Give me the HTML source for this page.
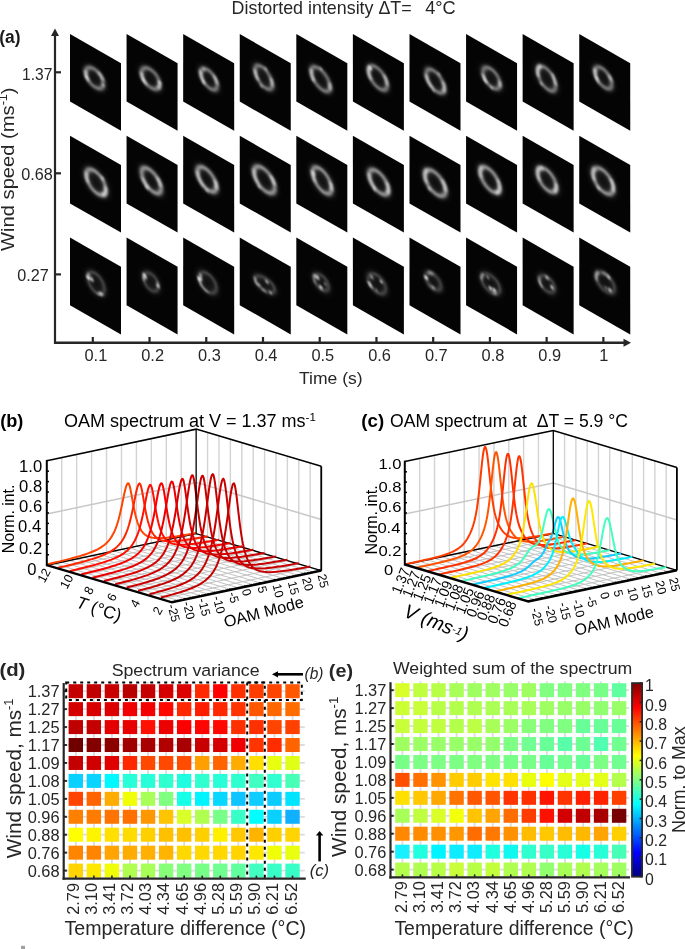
<!DOCTYPE html>
<html><head><meta charset="utf-8"><style>
html,body{margin:0;padding:0;background:#fff;overflow:hidden;width:685px;height:949px;}
svg{display:block;font-family:"Liberation Sans", sans-serif;will-change:transform;}
text{white-space:pre;}
</style></head><body>
<svg width="685" height="949" viewBox="0 0 685 949">
<defs>
<filter id="bl" x="-50%" y="-50%" width="200%" height="200%"><feGaussianBlur stdDeviation="1.1"/></filter>
<filter id="bl2" x="-100%" y="-100%" width="300%" height="300%"><feGaussianBlur stdDeviation="0.9"/></filter>
<filter id="bl3" x="-50%" y="-50%" width="200%" height="200%"><feGaussianBlur stdDeviation="2.2"/></filter>
</defs>
<rect width="685" height="949" fill="#fff"/>
<text transform="translate(231.59,13.7) scale(1.01,1)" font-size="17.7" font-weight="normal" font-style="normal" fill="#262626">Distorted intensity ΔT=</text>
<text transform="translate(425.2,13.7) scale(1.03,1)" font-size="17.7" font-weight="normal" font-style="normal" fill="#262626">4°C</text>
<text transform="translate(-0.79,42.8) scale(0.99,1)" font-size="17.6" font-weight="bold" font-style="normal" fill="#1a1a1a">(a)</text>
<g transform="translate(70,34) skewY(29.79)"><rect x="0" y="0" width="51" height="67.6" fill="#040404"/><ellipse cx="24.58" cy="29.95" rx="8.67" ry="9.14" fill="#fff" fill-opacity="0.05" stroke="#fff" stroke-opacity="0.12" stroke-width="6.4" transform="rotate(-41.02 24.58 29.95)" filter="url(#bl3)"/><ellipse cx="24.58" cy="29.95" rx="8.67" ry="9.14" fill="none" stroke="#fff" stroke-opacity="0.42" stroke-width="3.2" transform="rotate(-41.02 24.58 29.95)" filter="url(#bl)"/><ellipse cx="24.58" cy="29.95" rx="8.67" ry="9.14" fill="none" stroke="#fff" stroke-opacity="0.75" stroke-width="2.56" pathLength="100" stroke-dasharray="17.66 82.34" stroke-dashoffset="-48.04" transform="rotate(-41.02 24.58 29.95)" filter="url(#bl)"/><ellipse cx="24.58" cy="29.95" rx="8.67" ry="9.14" fill="none" stroke="#fff" stroke-opacity="0.65" stroke-width="2.56" pathLength="100" stroke-dasharray="14.06 85.94" stroke-dashoffset="7.07" transform="rotate(-41.02 24.58 29.95)" filter="url(#bl)"/><circle cx="33.01" cy="32.09" r="1.6" fill="#fff" fill-opacity="0.45" filter="url(#bl2)"/><circle cx="16.65" cy="33.66" r="1.6" fill="#fff" fill-opacity="0.45" filter="url(#bl2)"/></g>
<g transform="translate(126.58,34) skewY(29.79)"><rect x="0" y="0" width="51" height="67.6" fill="#040404"/><ellipse cx="24.02" cy="30.77" rx="8.99" ry="9.25" fill="#fff" fill-opacity="0.05" stroke="#fff" stroke-opacity="0.12" stroke-width="6.4" transform="rotate(-41.35 24.02 30.77)" filter="url(#bl3)"/><ellipse cx="24.02" cy="30.77" rx="8.99" ry="9.25" fill="none" stroke="#fff" stroke-opacity="0.42" stroke-width="3.2" transform="rotate(-41.35 24.02 30.77)" filter="url(#bl)"/><ellipse cx="24.02" cy="30.77" rx="8.99" ry="9.25" fill="none" stroke="#fff" stroke-opacity="0.75" stroke-width="2.56" pathLength="100" stroke-dasharray="20.27 79.73" stroke-dashoffset="-43.35" transform="rotate(-41.35 24.02 30.77)" filter="url(#bl)"/><ellipse cx="24.02" cy="30.77" rx="8.99" ry="9.25" fill="none" stroke="#fff" stroke-opacity="0.65" stroke-width="2.56" pathLength="100" stroke-dasharray="14.62 85.38" stroke-dashoffset="-7.16" transform="rotate(-41.35 24.02 30.77)" filter="url(#bl)"/><circle cx="16.86" cy="36.36" r="1.6" fill="#fff" fill-opacity="0.45" filter="url(#bl2)"/><circle cx="32.91" cy="29.4" r="1.6" fill="#fff" fill-opacity="0.45" filter="url(#bl2)"/></g>
<g transform="translate(183.16,34) skewY(29.79)"><rect x="0" y="0" width="51" height="67.6" fill="#040404"/><ellipse cx="25.86" cy="30.37" rx="7.76" ry="9.24" fill="#fff" fill-opacity="0.05" stroke="#fff" stroke-opacity="0.12" stroke-width="6.4" transform="rotate(-34.33 25.86 30.37)" filter="url(#bl3)"/><ellipse cx="25.86" cy="30.37" rx="7.76" ry="9.24" fill="none" stroke="#fff" stroke-opacity="0.42" stroke-width="3.2" transform="rotate(-34.33 25.86 30.37)" filter="url(#bl)"/><ellipse cx="25.86" cy="30.37" rx="7.76" ry="9.24" fill="none" stroke="#fff" stroke-opacity="0.75" stroke-width="2.56" pathLength="100" stroke-dasharray="22.16 77.84" stroke-dashoffset="-44.63" transform="rotate(-34.33 25.86 30.37)" filter="url(#bl)"/><ellipse cx="25.86" cy="30.37" rx="7.76" ry="9.24" fill="none" stroke="#fff" stroke-opacity="0.65" stroke-width="2.56" pathLength="100" stroke-dasharray="14.65 85.35" stroke-dashoffset="5.11" transform="rotate(-34.33 25.86 30.37)" filter="url(#bl)"/><circle cx="20.87" cy="23.29" r="1.6" fill="#fff" fill-opacity="0.45" filter="url(#bl2)"/><circle cx="20.46" cy="37.01" r="1.6" fill="#fff" fill-opacity="0.45" filter="url(#bl2)"/></g>
<g transform="translate(239.74,34) skewY(29.79)"><rect x="0" y="0" width="51" height="67.6" fill="#040404"/><ellipse cx="23.95" cy="29.68" rx="7.87" ry="10.36" fill="#fff" fill-opacity="0.05" stroke="#fff" stroke-opacity="0.12" stroke-width="6.4" transform="rotate(-32.21 23.95 29.68)" filter="url(#bl3)"/><ellipse cx="23.95" cy="29.68" rx="7.87" ry="10.36" fill="none" stroke="#fff" stroke-opacity="0.42" stroke-width="3.2" transform="rotate(-32.21 23.95 29.68)" filter="url(#bl)"/><ellipse cx="23.95" cy="29.68" rx="7.87" ry="10.36" fill="none" stroke="#fff" stroke-opacity="0.75" stroke-width="2.56" pathLength="100" stroke-dasharray="17.14 82.86" stroke-dashoffset="-46.41" transform="rotate(-32.21 23.95 29.68)" filter="url(#bl)"/><ellipse cx="23.95" cy="29.68" rx="7.87" ry="10.36" fill="none" stroke="#fff" stroke-opacity="0.65" stroke-width="2.56" pathLength="100" stroke-dasharray="13.63 86.37" stroke-dashoffset="-1.37" transform="rotate(-32.21 23.95 29.68)" filter="url(#bl)"/><circle cx="21.53" cy="39.54" r="1.6" fill="#fff" fill-opacity="0.45" filter="url(#bl2)"/><circle cx="26.12" cy="19.72" r="1.6" fill="#fff" fill-opacity="0.45" filter="url(#bl2)"/></g>
<g transform="translate(296.32,34) skewY(29.79)"><rect x="0" y="0" width="51" height="67.6" fill="#040404"/><ellipse cx="24.39" cy="31.22" rx="8.45" ry="10.75" fill="#fff" fill-opacity="0.05" stroke="#fff" stroke-opacity="0.12" stroke-width="6.4" transform="rotate(-39.87 24.39 31.22)" filter="url(#bl3)"/><ellipse cx="24.39" cy="31.22" rx="8.45" ry="10.75" fill="none" stroke="#fff" stroke-opacity="0.42" stroke-width="3.2" transform="rotate(-39.87 24.39 31.22)" filter="url(#bl)"/><ellipse cx="24.39" cy="31.22" rx="8.45" ry="10.75" fill="none" stroke="#fff" stroke-opacity="0.75" stroke-width="2.56" pathLength="100" stroke-dasharray="16.88 83.12" stroke-dashoffset="-50.94" transform="rotate(-39.87 24.39 31.22)" filter="url(#bl)"/><ellipse cx="24.39" cy="31.22" rx="8.45" ry="10.75" fill="none" stroke="#fff" stroke-opacity="0.65" stroke-width="2.56" pathLength="100" stroke-dasharray="10.94 89.06" stroke-dashoffset="-7.68" transform="rotate(-39.87 24.39 31.22)" filter="url(#bl)"/><circle cx="17.03" cy="36.51" r="1.6" fill="#fff" fill-opacity="0.45" filter="url(#bl2)"/><circle cx="24.76" cy="20.48" r="1.6" fill="#fff" fill-opacity="0.45" filter="url(#bl2)"/></g>
<g transform="translate(352.9,34) skewY(29.79)"><rect x="0" y="0" width="51" height="67.6" fill="#040404"/><ellipse cx="24.97" cy="29.62" rx="8.7" ry="10.53" fill="#fff" fill-opacity="0.05" stroke="#fff" stroke-opacity="0.12" stroke-width="6.4" transform="rotate(-35.61 24.97 29.62)" filter="url(#bl3)"/><ellipse cx="24.97" cy="29.62" rx="8.7" ry="10.53" fill="none" stroke="#fff" stroke-opacity="0.42" stroke-width="3.2" transform="rotate(-35.61 24.97 29.62)" filter="url(#bl)"/><ellipse cx="24.97" cy="29.62" rx="8.7" ry="10.53" fill="none" stroke="#fff" stroke-opacity="0.75" stroke-width="2.56" pathLength="100" stroke-dasharray="22.75 77.25" stroke-dashoffset="-48.6" transform="rotate(-35.61 24.97 29.62)" filter="url(#bl)"/><ellipse cx="24.97" cy="29.62" rx="8.7" ry="10.53" fill="none" stroke="#fff" stroke-opacity="0.65" stroke-width="2.56" pathLength="100" stroke-dasharray="15.56 84.44" stroke-dashoffset="2.98" transform="rotate(-35.61 24.97 29.62)" filter="url(#bl)"/><circle cx="17.76" cy="23.73" r="1.6" fill="#fff" fill-opacity="0.45" filter="url(#bl2)"/><circle cx="17.34" cy="24.55" r="1.6" fill="#fff" fill-opacity="0.45" filter="url(#bl2)"/></g>
<g transform="translate(409.48,34) skewY(29.79)"><rect x="0" y="0" width="51" height="67.6" fill="#040404"/><ellipse cx="25.82" cy="32.33" rx="8.35" ry="10.33" fill="#fff" fill-opacity="0.05" stroke="#fff" stroke-opacity="0.12" stroke-width="6.4" transform="rotate(-36.6 25.82 32.33)" filter="url(#bl3)"/><ellipse cx="25.82" cy="32.33" rx="8.35" ry="10.33" fill="none" stroke="#fff" stroke-opacity="0.42" stroke-width="3.2" transform="rotate(-36.6 25.82 32.33)" filter="url(#bl)"/><ellipse cx="25.82" cy="32.33" rx="8.35" ry="10.33" fill="none" stroke="#fff" stroke-opacity="0.75" stroke-width="2.56" pathLength="100" stroke-dasharray="21.01 78.99" stroke-dashoffset="-40.91" transform="rotate(-36.6 25.82 32.33)" filter="url(#bl)"/><ellipse cx="25.82" cy="32.33" rx="8.35" ry="10.33" fill="none" stroke="#fff" stroke-opacity="0.65" stroke-width="2.56" pathLength="100" stroke-dasharray="17.94 82.06" stroke-dashoffset="-2.35" transform="rotate(-36.6 25.82 32.33)" filter="url(#bl)"/><circle cx="29.46" cy="23.04" r="1.6" fill="#fff" fill-opacity="0.45" filter="url(#bl2)"/><circle cx="24.01" cy="42.42" r="1.6" fill="#fff" fill-opacity="0.45" filter="url(#bl2)"/></g>
<g transform="translate(466.06,34) skewY(29.79)"><rect x="0" y="0" width="51" height="67.6" fill="#040404"/><ellipse cx="25.4" cy="29.57" rx="8.33" ry="9.34" fill="#fff" fill-opacity="0.05" stroke="#fff" stroke-opacity="0.12" stroke-width="6.4" transform="rotate(-29.8 25.4 29.57)" filter="url(#bl3)"/><ellipse cx="25.4" cy="29.57" rx="8.33" ry="9.34" fill="none" stroke="#fff" stroke-opacity="0.42" stroke-width="3.2" transform="rotate(-29.8 25.4 29.57)" filter="url(#bl)"/><ellipse cx="25.4" cy="29.57" rx="8.33" ry="9.34" fill="none" stroke="#fff" stroke-opacity="0.75" stroke-width="2.56" pathLength="100" stroke-dasharray="14.59 85.41" stroke-dashoffset="-41.76" transform="rotate(-29.8 25.4 29.57)" filter="url(#bl)"/><ellipse cx="25.4" cy="29.57" rx="8.33" ry="9.34" fill="none" stroke="#fff" stroke-opacity="0.65" stroke-width="2.56" pathLength="100" stroke-dasharray="11.03 88.97" stroke-dashoffset="-4.29" transform="rotate(-29.8 25.4 29.57)" filter="url(#bl)"/><circle cx="25.53" cy="38.9" r="1.6" fill="#fff" fill-opacity="0.45" filter="url(#bl2)"/><circle cx="18.95" cy="35.48" r="1.6" fill="#fff" fill-opacity="0.45" filter="url(#bl2)"/></g>
<g transform="translate(522.64,34) skewY(29.79)"><rect x="0" y="0" width="51" height="67.6" fill="#040404"/><ellipse cx="23.99" cy="30.85" rx="8.49" ry="10.77" fill="#fff" fill-opacity="0.05" stroke="#fff" stroke-opacity="0.12" stroke-width="6.4" transform="rotate(-28.59 23.99 30.85)" filter="url(#bl3)"/><ellipse cx="23.99" cy="30.85" rx="8.49" ry="10.77" fill="none" stroke="#fff" stroke-opacity="0.42" stroke-width="3.2" transform="rotate(-28.59 23.99 30.85)" filter="url(#bl)"/><ellipse cx="23.99" cy="30.85" rx="8.49" ry="10.77" fill="none" stroke="#fff" stroke-opacity="0.75" stroke-width="2.56" pathLength="100" stroke-dasharray="22.64 77.36" stroke-dashoffset="-52.29" transform="rotate(-28.59 23.99 30.85)" filter="url(#bl)"/><ellipse cx="23.99" cy="30.85" rx="8.49" ry="10.77" fill="none" stroke="#fff" stroke-opacity="0.65" stroke-width="2.56" pathLength="100" stroke-dasharray="13.32 86.68" stroke-dashoffset="3.55" transform="rotate(-28.59 23.99 30.85)" filter="url(#bl)"/><circle cx="18.63" cy="39.2" r="1.6" fill="#fff" fill-opacity="0.45" filter="url(#bl2)"/><circle cx="30.33" cy="23.69" r="1.6" fill="#fff" fill-opacity="0.45" filter="url(#bl2)"/></g>
<g transform="translate(579.22,34) skewY(29.79)"><rect x="0" y="0" width="51" height="67.6" fill="#040404"/><ellipse cx="24.16" cy="30.03" rx="7.92" ry="9.47" fill="#fff" fill-opacity="0.05" stroke="#fff" stroke-opacity="0.12" stroke-width="6.4" transform="rotate(-34.07 24.16 30.03)" filter="url(#bl3)"/><ellipse cx="24.16" cy="30.03" rx="7.92" ry="9.47" fill="none" stroke="#fff" stroke-opacity="0.42" stroke-width="3.2" transform="rotate(-34.07 24.16 30.03)" filter="url(#bl)"/><ellipse cx="24.16" cy="30.03" rx="7.92" ry="9.47" fill="none" stroke="#fff" stroke-opacity="0.75" stroke-width="2.56" pathLength="100" stroke-dasharray="19.89 80.11" stroke-dashoffset="-47.27" transform="rotate(-34.07 24.16 30.03)" filter="url(#bl)"/><ellipse cx="24.16" cy="30.03" rx="7.92" ry="9.47" fill="none" stroke="#fff" stroke-opacity="0.65" stroke-width="2.56" pathLength="100" stroke-dasharray="10.03 89.97" stroke-dashoffset="3.8" transform="rotate(-34.07 24.16 30.03)" filter="url(#bl)"/><circle cx="17.25" cy="34.64" r="1.6" fill="#fff" fill-opacity="0.45" filter="url(#bl2)"/><circle cx="18.77" cy="36.96" r="1.6" fill="#fff" fill-opacity="0.45" filter="url(#bl2)"/></g>
<g transform="translate(70,135.8) skewY(29.79)"><rect x="0" y="0" width="51" height="67.6" fill="#040404"/><ellipse cx="26.09" cy="31.57" rx="9.22" ry="11.14" fill="#fff" fill-opacity="0.05" stroke="#fff" stroke-opacity="0.14" stroke-width="7.2" transform="rotate(-32.02 26.09 31.57)" filter="url(#bl3)"/><ellipse cx="26.09" cy="31.57" rx="9.22" ry="11.14" fill="none" stroke="#fff" stroke-opacity="0.5" stroke-width="3.6" transform="rotate(-32.02 26.09 31.57)" filter="url(#bl)"/><ellipse cx="26.09" cy="31.57" rx="9.22" ry="11.14" fill="none" stroke="#fff" stroke-opacity="0.55" stroke-width="2.88" pathLength="100" stroke-dasharray="15.54 84.46" stroke-dashoffset="-50.14" transform="rotate(-32.02 26.09 31.57)" filter="url(#bl)"/><ellipse cx="26.09" cy="31.57" rx="9.22" ry="11.14" fill="none" stroke="#fff" stroke-opacity="0.65" stroke-width="2.88" pathLength="100" stroke-dasharray="18.24 81.76" stroke-dashoffset="-6.69" transform="rotate(-32.02 26.09 31.57)" filter="url(#bl)"/><circle cx="32.59" cy="23.67" r="2" fill="#fff" fill-opacity="0.45" filter="url(#bl2)"/></g>
<g transform="translate(126.58,135.8) skewY(29.79)"><rect x="0" y="0" width="51" height="67.6" fill="#040404"/><ellipse cx="24.74" cy="30.7" rx="8.72" ry="11.16" fill="#fff" fill-opacity="0.05" stroke="#fff" stroke-opacity="0.14" stroke-width="7.2" transform="rotate(-39.47 24.74 30.7)" filter="url(#bl3)"/><ellipse cx="24.74" cy="30.7" rx="8.72" ry="11.16" fill="none" stroke="#fff" stroke-opacity="0.5" stroke-width="3.6" transform="rotate(-39.47 24.74 30.7)" filter="url(#bl)"/><ellipse cx="24.74" cy="30.7" rx="8.72" ry="11.16" fill="none" stroke="#fff" stroke-opacity="0.55" stroke-width="2.88" pathLength="100" stroke-dasharray="15.67 84.33" stroke-dashoffset="-40.93" transform="rotate(-39.47 24.74 30.7)" filter="url(#bl)"/><ellipse cx="24.74" cy="30.7" rx="8.72" ry="11.16" fill="none" stroke="#fff" stroke-opacity="0.65" stroke-width="2.88" pathLength="100" stroke-dasharray="13.3 86.7" stroke-dashoffset="2.29" transform="rotate(-39.47 24.74 30.7)" filter="url(#bl)"/><circle cx="20.06" cy="40.12" r="2" fill="#fff" fill-opacity="0.45" filter="url(#bl2)"/></g>
<g transform="translate(183.16,135.8) skewY(29.79)"><rect x="0" y="0" width="51" height="67.6" fill="#040404"/><ellipse cx="23.8" cy="29.95" rx="8.72" ry="10.84" fill="#fff" fill-opacity="0.05" stroke="#fff" stroke-opacity="0.14" stroke-width="7.2" transform="rotate(-36.53 23.8 29.95)" filter="url(#bl3)"/><ellipse cx="23.8" cy="29.95" rx="8.72" ry="10.84" fill="none" stroke="#fff" stroke-opacity="0.5" stroke-width="3.6" transform="rotate(-36.53 23.8 29.95)" filter="url(#bl)"/><ellipse cx="23.8" cy="29.95" rx="8.72" ry="10.84" fill="none" stroke="#fff" stroke-opacity="0.55" stroke-width="2.88" pathLength="100" stroke-dasharray="23.74 76.26" stroke-dashoffset="-40.38" transform="rotate(-36.53 23.8 29.95)" filter="url(#bl)"/><ellipse cx="23.8" cy="29.95" rx="8.72" ry="10.84" fill="none" stroke="#fff" stroke-opacity="0.65" stroke-width="2.88" pathLength="100" stroke-dasharray="13.19 86.81" stroke-dashoffset="-2.98" transform="rotate(-36.53 23.8 29.95)" filter="url(#bl)"/><circle cx="23.68" cy="40.79" r="2" fill="#fff" fill-opacity="0.45" filter="url(#bl2)"/></g>
<g transform="translate(239.74,135.8) skewY(29.79)"><rect x="0" y="0" width="51" height="67.6" fill="#040404"/><ellipse cx="24.67" cy="29.87" rx="9.62" ry="11.59" fill="#fff" fill-opacity="0.05" stroke="#fff" stroke-opacity="0.14" stroke-width="7.2" transform="rotate(-37.35 24.67 29.87)" filter="url(#bl3)"/><ellipse cx="24.67" cy="29.87" rx="9.62" ry="11.59" fill="none" stroke="#fff" stroke-opacity="0.5" stroke-width="3.6" transform="rotate(-37.35 24.67 29.87)" filter="url(#bl)"/><ellipse cx="24.67" cy="29.87" rx="9.62" ry="11.59" fill="none" stroke="#fff" stroke-opacity="0.55" stroke-width="2.88" pathLength="100" stroke-dasharray="19.84 80.16" stroke-dashoffset="-46.99" transform="rotate(-37.35 24.67 29.87)" filter="url(#bl)"/><ellipse cx="24.67" cy="29.87" rx="9.62" ry="11.59" fill="none" stroke="#fff" stroke-opacity="0.65" stroke-width="2.88" pathLength="100" stroke-dasharray="12.82 87.18" stroke-dashoffset="3.88" transform="rotate(-37.35 24.67 29.87)" filter="url(#bl)"/><circle cx="19.39" cy="39.55" r="2" fill="#fff" fill-opacity="0.45" filter="url(#bl2)"/></g>
<g transform="translate(296.32,135.8) skewY(29.79)"><rect x="0" y="0" width="51" height="67.6" fill="#040404"/><ellipse cx="25.79" cy="29.98" rx="8.63" ry="11.54" fill="#fff" fill-opacity="0.05" stroke="#fff" stroke-opacity="0.14" stroke-width="7.2" transform="rotate(-30.21 25.79 29.98)" filter="url(#bl3)"/><ellipse cx="25.79" cy="29.98" rx="8.63" ry="11.54" fill="none" stroke="#fff" stroke-opacity="0.5" stroke-width="3.6" transform="rotate(-30.21 25.79 29.98)" filter="url(#bl)"/><ellipse cx="25.79" cy="29.98" rx="8.63" ry="11.54" fill="none" stroke="#fff" stroke-opacity="0.55" stroke-width="2.88" pathLength="100" stroke-dasharray="16.47 83.53" stroke-dashoffset="-47.92" transform="rotate(-30.21 25.79 29.98)" filter="url(#bl)"/><ellipse cx="25.79" cy="29.98" rx="8.63" ry="11.54" fill="none" stroke="#fff" stroke-opacity="0.65" stroke-width="2.88" pathLength="100" stroke-dasharray="12.22 87.78" stroke-dashoffset="-2.06" transform="rotate(-30.21 25.79 29.98)" filter="url(#bl)"/><circle cx="17.3" cy="27.96" r="2" fill="#fff" fill-opacity="0.45" filter="url(#bl2)"/></g>
<g transform="translate(352.9,135.8) skewY(29.79)"><rect x="0" y="0" width="51" height="67.6" fill="#040404"/><ellipse cx="25.87" cy="31.59" rx="8.91" ry="10.84" fill="#fff" fill-opacity="0.05" stroke="#fff" stroke-opacity="0.14" stroke-width="7.2" transform="rotate(-37.77 25.87 31.59)" filter="url(#bl3)"/><ellipse cx="25.87" cy="31.59" rx="8.91" ry="10.84" fill="none" stroke="#fff" stroke-opacity="0.5" stroke-width="3.6" transform="rotate(-37.77 25.87 31.59)" filter="url(#bl)"/><ellipse cx="25.87" cy="31.59" rx="8.91" ry="10.84" fill="none" stroke="#fff" stroke-opacity="0.55" stroke-width="2.88" pathLength="100" stroke-dasharray="22.72 77.28" stroke-dashoffset="-42.51" transform="rotate(-37.77 25.87 31.59)" filter="url(#bl)"/><ellipse cx="25.87" cy="31.59" rx="8.91" ry="10.84" fill="none" stroke="#fff" stroke-opacity="0.65" stroke-width="2.88" pathLength="100" stroke-dasharray="18.23 81.77" stroke-dashoffset="-1.92" transform="rotate(-37.77 25.87 31.59)" filter="url(#bl)"/><circle cx="21.59" cy="41.1" r="2" fill="#fff" fill-opacity="0.45" filter="url(#bl2)"/></g>
<g transform="translate(409.48,135.8) skewY(29.79)"><rect x="0" y="0" width="51" height="67.6" fill="#040404"/><ellipse cx="25.75" cy="32.45" rx="9.62" ry="11.37" fill="#fff" fill-opacity="0.05" stroke="#fff" stroke-opacity="0.14" stroke-width="7.2" transform="rotate(-39.71 25.75 32.45)" filter="url(#bl3)"/><ellipse cx="25.75" cy="32.45" rx="9.62" ry="11.37" fill="none" stroke="#fff" stroke-opacity="0.5" stroke-width="3.6" transform="rotate(-39.71 25.75 32.45)" filter="url(#bl)"/><ellipse cx="25.75" cy="32.45" rx="9.62" ry="11.37" fill="none" stroke="#fff" stroke-opacity="0.55" stroke-width="2.88" pathLength="100" stroke-dasharray="22.4 77.6" stroke-dashoffset="-52.27" transform="rotate(-39.71 25.75 32.45)" filter="url(#bl)"/><ellipse cx="25.75" cy="32.45" rx="9.62" ry="11.37" fill="none" stroke="#fff" stroke-opacity="0.65" stroke-width="2.88" pathLength="100" stroke-dasharray="16.14 83.86" stroke-dashoffset="2.05" transform="rotate(-39.71 25.75 32.45)" filter="url(#bl)"/><circle cx="19.82" cy="41.41" r="2" fill="#fff" fill-opacity="0.45" filter="url(#bl2)"/></g>
<g transform="translate(466.06,135.8) skewY(29.79)"><rect x="0" y="0" width="51" height="67.6" fill="#040404"/><ellipse cx="23.87" cy="30.34" rx="8.91" ry="11.23" fill="#fff" fill-opacity="0.05" stroke="#fff" stroke-opacity="0.14" stroke-width="7.2" transform="rotate(-36.35 23.87 30.34)" filter="url(#bl3)"/><ellipse cx="23.87" cy="30.34" rx="8.91" ry="11.23" fill="none" stroke="#fff" stroke-opacity="0.5" stroke-width="3.6" transform="rotate(-36.35 23.87 30.34)" filter="url(#bl)"/><ellipse cx="23.87" cy="30.34" rx="8.91" ry="11.23" fill="none" stroke="#fff" stroke-opacity="0.55" stroke-width="2.88" pathLength="100" stroke-dasharray="19.47 80.53" stroke-dashoffset="-54.35" transform="rotate(-36.35 23.87 30.34)" filter="url(#bl)"/><ellipse cx="23.87" cy="30.34" rx="8.91" ry="11.23" fill="none" stroke="#fff" stroke-opacity="0.65" stroke-width="2.88" pathLength="100" stroke-dasharray="19.9 80.1" stroke-dashoffset="-7.18" transform="rotate(-36.35 23.87 30.34)" filter="url(#bl)"/><circle cx="32.42" cy="27.2" r="2" fill="#fff" fill-opacity="0.45" filter="url(#bl2)"/></g>
<g transform="translate(522.64,135.8) skewY(29.79)"><rect x="0" y="0" width="51" height="67.6" fill="#040404"/><ellipse cx="24.33" cy="30.18" rx="8.84" ry="10.65" fill="#fff" fill-opacity="0.05" stroke="#fff" stroke-opacity="0.14" stroke-width="7.2" transform="rotate(-32 24.33 30.18)" filter="url(#bl3)"/><ellipse cx="24.33" cy="30.18" rx="8.84" ry="10.65" fill="none" stroke="#fff" stroke-opacity="0.5" stroke-width="3.6" transform="rotate(-32 24.33 30.18)" filter="url(#bl)"/><ellipse cx="24.33" cy="30.18" rx="8.84" ry="10.65" fill="none" stroke="#fff" stroke-opacity="0.55" stroke-width="2.88" pathLength="100" stroke-dasharray="24 76" stroke-dashoffset="-49.36" transform="rotate(-32 24.33 30.18)" filter="url(#bl)"/><ellipse cx="24.33" cy="30.18" rx="8.84" ry="10.65" fill="none" stroke="#fff" stroke-opacity="0.65" stroke-width="2.88" pathLength="100" stroke-dasharray="15.84 84.16" stroke-dashoffset="-5.93" transform="rotate(-32 24.33 30.18)" filter="url(#bl)"/><circle cx="19.27" cy="21.45" r="2" fill="#fff" fill-opacity="0.45" filter="url(#bl2)"/></g>
<g transform="translate(579.22,135.8) skewY(29.79)"><rect x="0" y="0" width="51" height="67.6" fill="#040404"/><ellipse cx="24" cy="31.48" rx="9.69" ry="11.34" fill="#fff" fill-opacity="0.05" stroke="#fff" stroke-opacity="0.14" stroke-width="7.2" transform="rotate(-31.99 24 31.48)" filter="url(#bl3)"/><ellipse cx="24" cy="31.48" rx="9.69" ry="11.34" fill="none" stroke="#fff" stroke-opacity="0.5" stroke-width="3.6" transform="rotate(-31.99 24 31.48)" filter="url(#bl)"/><ellipse cx="24" cy="31.48" rx="9.69" ry="11.34" fill="none" stroke="#fff" stroke-opacity="0.55" stroke-width="2.88" pathLength="100" stroke-dasharray="19.78 80.22" stroke-dashoffset="-51.25" transform="rotate(-31.99 24 31.48)" filter="url(#bl)"/><ellipse cx="24" cy="31.48" rx="9.69" ry="11.34" fill="none" stroke="#fff" stroke-opacity="0.65" stroke-width="2.88" pathLength="100" stroke-dasharray="18.31 81.69" stroke-dashoffset="2.68" transform="rotate(-31.99 24 31.48)" filter="url(#bl)"/><circle cx="19.2" cy="41.33" r="2" fill="#fff" fill-opacity="0.45" filter="url(#bl2)"/></g>
<g transform="translate(70,237.6) skewY(29.79)"><rect x="0" y="0" width="51" height="67.6" fill="#040404"/><ellipse cx="26.13" cy="30.69" rx="8.11" ry="9.79" fill="#fff" fill-opacity="0.05" stroke="#fff" stroke-opacity="0.1" stroke-width="5.6" transform="rotate(-17.34 26.13 30.69)" filter="url(#bl3)"/><ellipse cx="26.13" cy="30.69" rx="8.11" ry="9.79" fill="none" stroke="#fff" stroke-opacity="0.18" stroke-width="2.8" transform="rotate(-17.34 26.13 30.69)" filter="url(#bl)"/><ellipse cx="26.13" cy="30.69" rx="8.11" ry="9.79" fill="none" stroke="#fff" stroke-opacity="0.53" stroke-width="2.24" pathLength="100" stroke-dasharray="11.7 88.3" stroke-dashoffset="-53.95" transform="rotate(-17.34 26.13 30.69)" filter="url(#bl)"/><ellipse cx="26.13" cy="30.69" rx="8.11" ry="9.79" fill="none" stroke="#fff" stroke-opacity="0.46" stroke-width="2.24" pathLength="100" stroke-dasharray="13.43 86.57" stroke-dashoffset="-15.12" transform="rotate(-17.34 26.13 30.69)" filter="url(#bl)"/><circle cx="30.63" cy="38.39" r="1.66" fill="#fff" fill-opacity="0.59" filter="url(#bl2)"/><circle cx="21.76" cy="29.19" r="1.97" fill="#fff" fill-opacity="0.71" filter="url(#bl2)"/><circle cx="18.4" cy="29.52" r="1.87" fill="#fff" fill-opacity="0.78" filter="url(#bl2)"/></g>
<g transform="translate(126.58,237.6) skewY(29.79)"><rect x="0" y="0" width="51" height="67.6" fill="#040404"/><ellipse cx="24.4" cy="30.38" rx="7.46" ry="8.35" fill="#fff" fill-opacity="0.05" stroke="#fff" stroke-opacity="0.1" stroke-width="5.6" transform="rotate(3.39 24.4 30.38)" filter="url(#bl3)"/><ellipse cx="24.4" cy="30.38" rx="7.46" ry="8.35" fill="none" stroke="#fff" stroke-opacity="0.18" stroke-width="2.8" transform="rotate(3.39 24.4 30.38)" filter="url(#bl)"/><ellipse cx="24.4" cy="30.38" rx="7.46" ry="8.35" fill="none" stroke="#fff" stroke-opacity="0.53" stroke-width="2.24" pathLength="100" stroke-dasharray="14.19 85.81" stroke-dashoffset="-43.71" transform="rotate(3.39 24.4 30.38)" filter="url(#bl)"/><ellipse cx="24.4" cy="30.38" rx="7.46" ry="8.35" fill="none" stroke="#fff" stroke-opacity="0.39" stroke-width="2.24" pathLength="100" stroke-dasharray="10.12 89.88" stroke-dashoffset="-91" transform="rotate(3.39 24.4 30.38)" filter="url(#bl)"/><circle cx="18.25" cy="27.41" r="1.92" fill="#fff" fill-opacity="0.65" filter="url(#bl2)"/><circle cx="18.83" cy="29.53" r="1.44" fill="#fff" fill-opacity="0.52" filter="url(#bl2)"/><circle cx="31.12" cy="30.5" r="1.47" fill="#fff" fill-opacity="0.74" filter="url(#bl2)"/></g>
<g transform="translate(183.16,237.6) skewY(29.79)"><rect x="0" y="0" width="51" height="67.6" fill="#040404"/><ellipse cx="24.58" cy="31.06" rx="8.72" ry="9.14" fill="#fff" fill-opacity="0.05" stroke="#fff" stroke-opacity="0.1" stroke-width="5.6" transform="rotate(-14.42 24.58 31.06)" filter="url(#bl3)"/><ellipse cx="24.58" cy="31.06" rx="8.72" ry="9.14" fill="none" stroke="#fff" stroke-opacity="0.18" stroke-width="2.8" transform="rotate(-14.42 24.58 31.06)" filter="url(#bl)"/><ellipse cx="24.58" cy="31.06" rx="8.72" ry="9.14" fill="none" stroke="#fff" stroke-opacity="0.55" stroke-width="2.24" pathLength="100" stroke-dasharray="15.6 84.4" stroke-dashoffset="-40.33" transform="rotate(-14.42 24.58 31.06)" filter="url(#bl)"/><ellipse cx="24.58" cy="31.06" rx="8.72" ry="9.14" fill="none" stroke="#fff" stroke-opacity="0.4" stroke-width="2.24" pathLength="100" stroke-dasharray="12.63 87.37" stroke-dashoffset="-27.69" transform="rotate(-14.42 24.58 31.06)" filter="url(#bl)"/><circle cx="17.48" cy="27.75" r="1.44" fill="#fff" fill-opacity="0.7" filter="url(#bl2)"/><circle cx="17.99" cy="30.79" r="1.45" fill="#fff" fill-opacity="0.66" filter="url(#bl2)"/><circle cx="16.2" cy="32.12" r="1.88" fill="#fff" fill-opacity="0.83" filter="url(#bl2)"/></g>
<g transform="translate(239.74,237.6) skewY(29.79)"><rect x="0" y="0" width="51" height="67.6" fill="#040404"/><ellipse cx="25.14" cy="32.33" rx="9.86" ry="6.55" fill="#fff" fill-opacity="0.05" stroke="#fff" stroke-opacity="0.1" stroke-width="5.6" transform="rotate(-4.11 25.14 32.33)" filter="url(#bl3)"/><ellipse cx="25.14" cy="32.33" rx="9.86" ry="6.55" fill="none" stroke="#fff" stroke-opacity="0.18" stroke-width="2.8" transform="rotate(-4.11 25.14 32.33)" filter="url(#bl)"/><ellipse cx="25.14" cy="32.33" rx="9.86" ry="6.55" fill="none" stroke="#fff" stroke-opacity="0.51" stroke-width="2.24" pathLength="100" stroke-dasharray="14.42 85.58" stroke-dashoffset="-40.68" transform="rotate(-4.11 25.14 32.33)" filter="url(#bl)"/><ellipse cx="25.14" cy="32.33" rx="9.86" ry="6.55" fill="none" stroke="#fff" stroke-opacity="0.43" stroke-width="2.24" pathLength="100" stroke-dasharray="8.44 91.56" stroke-dashoffset="-24.06" transform="rotate(-4.11 25.14 32.33)" filter="url(#bl)"/><circle cx="27.12" cy="28.64" r="1.72" fill="#fff" fill-opacity="0.71" filter="url(#bl2)"/><circle cx="30.92" cy="37.37" r="1.22" fill="#fff" fill-opacity="0.83" filter="url(#bl2)"/><circle cx="19.26" cy="36.22" r="1.83" fill="#fff" fill-opacity="0.51" filter="url(#bl2)"/></g>
<g transform="translate(296.32,237.6) skewY(29.79)"><rect x="0" y="0" width="51" height="67.6" fill="#040404"/><ellipse cx="25.04" cy="30.52" rx="7.28" ry="7.27" fill="#fff" fill-opacity="0.05" stroke="#fff" stroke-opacity="0.1" stroke-width="5.6" transform="rotate(-14.48 25.04 30.52)" filter="url(#bl3)"/><ellipse cx="25.04" cy="30.52" rx="7.28" ry="7.27" fill="none" stroke="#fff" stroke-opacity="0.18" stroke-width="2.8" transform="rotate(-14.48 25.04 30.52)" filter="url(#bl)"/><ellipse cx="25.04" cy="30.52" rx="7.28" ry="7.27" fill="none" stroke="#fff" stroke-opacity="0.61" stroke-width="2.24" pathLength="100" stroke-dasharray="10.19 89.81" stroke-dashoffset="-53.89" transform="rotate(-14.48 25.04 30.52)" filter="url(#bl)"/><ellipse cx="25.04" cy="30.52" rx="7.28" ry="7.27" fill="none" stroke="#fff" stroke-opacity="0.37" stroke-width="2.24" pathLength="100" stroke-dasharray="8.11 91.89" stroke-dashoffset="-44.05" transform="rotate(-14.48 25.04 30.52)" filter="url(#bl)"/><circle cx="21.12" cy="27.8" r="1.99" fill="#fff" fill-opacity="0.77" filter="url(#bl2)"/><circle cx="29" cy="29.7" r="1.04" fill="#fff" fill-opacity="0.76" filter="url(#bl2)"/><circle cx="24.51" cy="35.65" r="1.91" fill="#fff" fill-opacity="0.78" filter="url(#bl2)"/></g>
<g transform="translate(352.9,237.6) skewY(29.79)"><rect x="0" y="0" width="51" height="67.6" fill="#040404"/><ellipse cx="24.16" cy="32.26" rx="8.78" ry="8.8" fill="#fff" fill-opacity="0.05" stroke="#fff" stroke-opacity="0.1" stroke-width="5.6" transform="rotate(-20.31 24.16 32.26)" filter="url(#bl3)"/><ellipse cx="24.16" cy="32.26" rx="8.78" ry="8.8" fill="none" stroke="#fff" stroke-opacity="0.18" stroke-width="2.8" transform="rotate(-20.31 24.16 32.26)" filter="url(#bl)"/><ellipse cx="24.16" cy="32.26" rx="8.78" ry="8.8" fill="none" stroke="#fff" stroke-opacity="0.64" stroke-width="2.24" pathLength="100" stroke-dasharray="10.58 89.42" stroke-dashoffset="-39.97" transform="rotate(-20.31 24.16 32.26)" filter="url(#bl)"/><ellipse cx="24.16" cy="32.26" rx="8.78" ry="8.8" fill="none" stroke="#fff" stroke-opacity="0.49" stroke-width="2.24" pathLength="100" stroke-dasharray="8.43 91.57" stroke-dashoffset="-42.53" transform="rotate(-20.31 24.16 32.26)" filter="url(#bl)"/><circle cx="18.91" cy="28.69" r="1.86" fill="#fff" fill-opacity="0.48" filter="url(#bl2)"/><circle cx="28.31" cy="27.78" r="1.55" fill="#fff" fill-opacity="0.82" filter="url(#bl2)"/><circle cx="23.6" cy="38.93" r="1.24" fill="#fff" fill-opacity="0.49" filter="url(#bl2)"/></g>
<g transform="translate(409.48,237.6) skewY(29.79)"><rect x="0" y="0" width="51" height="67.6" fill="#040404"/><ellipse cx="23.92" cy="30.11" rx="7.75" ry="7.22" fill="#fff" fill-opacity="0.05" stroke="#fff" stroke-opacity="0.1" stroke-width="5.6" transform="rotate(28.95 23.92 30.11)" filter="url(#bl3)"/><ellipse cx="23.92" cy="30.11" rx="7.75" ry="7.22" fill="none" stroke="#fff" stroke-opacity="0.18" stroke-width="2.8" transform="rotate(28.95 23.92 30.11)" filter="url(#bl)"/><ellipse cx="23.92" cy="30.11" rx="7.75" ry="7.22" fill="none" stroke="#fff" stroke-opacity="0.6" stroke-width="2.24" pathLength="100" stroke-dasharray="12.9 87.1" stroke-dashoffset="-54.71" transform="rotate(28.95 23.92 30.11)" filter="url(#bl)"/><ellipse cx="23.92" cy="30.11" rx="7.75" ry="7.22" fill="none" stroke="#fff" stroke-opacity="0.3" stroke-width="2.24" pathLength="100" stroke-dasharray="10.08 89.92" stroke-dashoffset="-17.79" transform="rotate(28.95 23.92 30.11)" filter="url(#bl)"/><circle cx="23.91" cy="36.36" r="1.55" fill="#fff" fill-opacity="0.53" filter="url(#bl2)"/><circle cx="16.52" cy="30.74" r="1.82" fill="#fff" fill-opacity="0.62" filter="url(#bl2)"/><circle cx="16.82" cy="30.26" r="1.51" fill="#fff" fill-opacity="0.73" filter="url(#bl2)"/></g>
<g transform="translate(466.06,237.6) skewY(29.79)"><rect x="0" y="0" width="51" height="67.6" fill="#040404"/><ellipse cx="24.62" cy="32" rx="9.33" ry="8.54" fill="#fff" fill-opacity="0.05" stroke="#fff" stroke-opacity="0.1" stroke-width="5.6" transform="rotate(2.82 24.62 32)" filter="url(#bl3)"/><ellipse cx="24.62" cy="32" rx="9.33" ry="8.54" fill="none" stroke="#fff" stroke-opacity="0.18" stroke-width="2.8" transform="rotate(2.82 24.62 32)" filter="url(#bl)"/><ellipse cx="24.62" cy="32" rx="9.33" ry="8.54" fill="none" stroke="#fff" stroke-opacity="0.51" stroke-width="2.24" pathLength="100" stroke-dasharray="13.48 86.52" stroke-dashoffset="-46.9" transform="rotate(2.82 24.62 32)" filter="url(#bl)"/><ellipse cx="24.62" cy="32" rx="9.33" ry="8.54" fill="none" stroke="#fff" stroke-opacity="0.45" stroke-width="2.24" pathLength="100" stroke-dasharray="8.42 91.58" stroke-dashoffset="-12.98" transform="rotate(2.82 24.62 32)" filter="url(#bl)"/><circle cx="24.43" cy="36.63" r="1.84" fill="#fff" fill-opacity="0.8" filter="url(#bl2)"/><circle cx="21.76" cy="27.34" r="1.29" fill="#fff" fill-opacity="0.63" filter="url(#bl2)"/><circle cx="28.32" cy="36.51" r="1.96" fill="#fff" fill-opacity="0.84" filter="url(#bl2)"/></g>
<g transform="translate(522.64,237.6) skewY(29.79)"><rect x="0" y="0" width="51" height="67.6" fill="#040404"/><ellipse cx="24.39" cy="32.4" rx="7.74" ry="7.43" fill="#fff" fill-opacity="0.05" stroke="#fff" stroke-opacity="0.1" stroke-width="5.6" transform="rotate(-10.43 24.39 32.4)" filter="url(#bl3)"/><ellipse cx="24.39" cy="32.4" rx="7.74" ry="7.43" fill="none" stroke="#fff" stroke-opacity="0.18" stroke-width="2.8" transform="rotate(-10.43 24.39 32.4)" filter="url(#bl)"/><ellipse cx="24.39" cy="32.4" rx="7.74" ry="7.43" fill="none" stroke="#fff" stroke-opacity="0.59" stroke-width="2.24" pathLength="100" stroke-dasharray="13.82 86.18" stroke-dashoffset="-38.02" transform="rotate(-10.43 24.39 32.4)" filter="url(#bl)"/><ellipse cx="24.39" cy="32.4" rx="7.74" ry="7.43" fill="none" stroke="#fff" stroke-opacity="0.4" stroke-width="2.24" pathLength="100" stroke-dasharray="9.21 90.79" stroke-dashoffset="-50.28" transform="rotate(-10.43 24.39 32.4)" filter="url(#bl)"/><circle cx="29.28" cy="32.52" r="1.4" fill="#fff" fill-opacity="0.47" filter="url(#bl2)"/><circle cx="29.38" cy="33.04" r="1.59" fill="#fff" fill-opacity="0.66" filter="url(#bl2)"/><circle cx="24.41" cy="26.03" r="1.88" fill="#fff" fill-opacity="0.61" filter="url(#bl2)"/></g>
<g transform="translate(579.22,237.6) skewY(29.79)"><rect x="0" y="0" width="51" height="67.6" fill="#040404"/><ellipse cx="26.16" cy="29.95" rx="9.4" ry="8.57" fill="#fff" fill-opacity="0.05" stroke="#fff" stroke-opacity="0.1" stroke-width="5.6" transform="rotate(20.15 26.16 29.95)" filter="url(#bl3)"/><ellipse cx="26.16" cy="29.95" rx="9.4" ry="8.57" fill="none" stroke="#fff" stroke-opacity="0.18" stroke-width="2.8" transform="rotate(20.15 26.16 29.95)" filter="url(#bl)"/><ellipse cx="26.16" cy="29.95" rx="9.4" ry="8.57" fill="none" stroke="#fff" stroke-opacity="0.68" stroke-width="2.24" pathLength="100" stroke-dasharray="18.35 81.65" stroke-dashoffset="-38.96" transform="rotate(20.15 26.16 29.95)" filter="url(#bl)"/><ellipse cx="26.16" cy="29.95" rx="9.4" ry="8.57" fill="none" stroke="#fff" stroke-opacity="0.46" stroke-width="2.24" pathLength="100" stroke-dasharray="12.4 87.6" stroke-dashoffset="-62.73" transform="rotate(20.15 26.16 29.95)" filter="url(#bl)"/><circle cx="30.75" cy="34.9" r="1.83" fill="#fff" fill-opacity="0.77" filter="url(#bl2)"/><circle cx="29.6" cy="22.75" r="1.68" fill="#fff" fill-opacity="0.73" filter="url(#bl2)"/><circle cx="26.77" cy="34.77" r="1.36" fill="#fff" fill-opacity="0.49" filter="url(#bl2)"/></g>
<line x1="55" y1="33" x2="55" y2="343.7" stroke="#262626" stroke-width="2.2" />
<path d="M55,28.5 L51,36 L59,36 Z" fill="#262626"/>
<line x1="54" y1="342.7" x2="625" y2="342.7" stroke="#262626" stroke-width="2.4" />
<path d="M631,342.7 L623.5,338.7 L623.5,346.7 Z" fill="#262626"/>
<line x1="55" y1="72.3" x2="61" y2="72.3" stroke="#262626" stroke-width="2.2" />
<text transform="translate(22.05,79.7) scale(0.95,1)" font-size="16.4" font-weight="normal" font-style="normal" fill="#262626">1.37</text>
<line x1="55" y1="173.3" x2="61" y2="173.3" stroke="#262626" stroke-width="2.2" />
<text transform="translate(21.31,180.4) scale(0.99,1)" font-size="16.4" font-weight="normal" font-style="normal" fill="#262626">0.68</text>
<line x1="55" y1="274.4" x2="61" y2="274.4" stroke="#262626" stroke-width="2.2" />
<text transform="translate(17.31,280.8) scale(0.99,1)" font-size="16.4" font-weight="normal" font-style="normal" fill="#262626">0.27</text>
<line x1="92.8" y1="343" x2="92.8" y2="337" stroke="#262626" stroke-width="2.2" />
<text transform="translate(84.5,361) scale(1,1)" font-size="16.4" font-weight="normal" font-style="normal" fill="#262626">0.1</text>
<line x1="149.53" y1="343" x2="149.53" y2="337" stroke="#262626" stroke-width="2.2" />
<text transform="translate(141.23,361) scale(1,1)" font-size="16.4" font-weight="normal" font-style="normal" fill="#262626">0.2</text>
<line x1="206.26" y1="343" x2="206.26" y2="337" stroke="#262626" stroke-width="2.2" />
<text transform="translate(197.96,361) scale(1,1)" font-size="16.4" font-weight="normal" font-style="normal" fill="#262626">0.3</text>
<line x1="262.99" y1="343" x2="262.99" y2="337" stroke="#262626" stroke-width="2.2" />
<text transform="translate(254.69,361) scale(1,1)" font-size="16.4" font-weight="normal" font-style="normal" fill="#262626">0.4</text>
<line x1="319.72" y1="343" x2="319.72" y2="337" stroke="#262626" stroke-width="2.2" />
<text transform="translate(311.42,361) scale(1,1)" font-size="16.4" font-weight="normal" font-style="normal" fill="#262626">0.5</text>
<line x1="376.45" y1="343" x2="376.45" y2="337" stroke="#262626" stroke-width="2.2" />
<text transform="translate(368.15,361) scale(1,1)" font-size="16.4" font-weight="normal" font-style="normal" fill="#262626">0.6</text>
<line x1="433.18" y1="343" x2="433.18" y2="337" stroke="#262626" stroke-width="2.2" />
<text transform="translate(424.88,361) scale(1,1)" font-size="16.4" font-weight="normal" font-style="normal" fill="#262626">0.7</text>
<line x1="489.91" y1="343" x2="489.91" y2="337" stroke="#262626" stroke-width="2.2" />
<text transform="translate(481.61,361) scale(1,1)" font-size="16.4" font-weight="normal" font-style="normal" fill="#262626">0.8</text>
<line x1="546.64" y1="343" x2="546.64" y2="337" stroke="#262626" stroke-width="2.2" />
<text transform="translate(538.34,361) scale(1,1)" font-size="16.4" font-weight="normal" font-style="normal" fill="#262626">0.9</text>
<line x1="603.37" y1="343" x2="603.37" y2="337" stroke="#262626" stroke-width="2.2" />
<text transform="translate(599.17,361) scale(1,1)" font-size="16.4" font-weight="normal" font-style="normal" fill="#262626">1</text>
<text transform="translate(299,383.8) scale(1.02,1)" font-size="17.2" font-weight="normal" font-style="normal" fill="#262626">Time (s)</text>
<text transform="translate(14.2,250.9) rotate(-90) scale(1.05,1)" font-size="19.2" font-weight="normal" font-style="normal" fill="#262626">Wind speed (ms<tspan font-size="12" dy="-7.5">-1</tspan><tspan dy="7.5">)</tspan></text>
<g id="pb">
<text transform="translate(0.17,427.4) scale(1.03,1)" font-size="17.6" font-weight="bold" font-style="normal" fill="#000">(b)</text>
<text transform="translate(64,427.4) scale(1,1)" font-size="18" font-weight="normal" font-style="normal" fill="#000">OAM spectrum at V = 1.37 ms<tspan font-size="11.5" dy="-6.5">-1</tspan></text>
<line x1="61.73" y1="562.04" x2="61.73" y2="457.54" stroke="#d3d3d3" stroke-width="1.4" />
<line x1="76.67" y1="558.88" x2="76.67" y2="454.38" stroke="#d3d3d3" stroke-width="1.4" />
<line x1="91.6" y1="555.72" x2="91.6" y2="451.22" stroke="#d3d3d3" stroke-width="1.4" />
<line x1="106.54" y1="552.56" x2="106.54" y2="448.06" stroke="#d3d3d3" stroke-width="1.4" />
<line x1="121.47" y1="549.4" x2="121.47" y2="444.9" stroke="#d3d3d3" stroke-width="1.4" />
<line x1="136.41" y1="546.24" x2="136.41" y2="441.74" stroke="#d3d3d3" stroke-width="1.4" />
<line x1="151.34" y1="543.08" x2="151.34" y2="438.58" stroke="#d3d3d3" stroke-width="1.4" />
<line x1="166.28" y1="539.92" x2="166.28" y2="435.42" stroke="#d3d3d3" stroke-width="1.4" />
<line x1="181.21" y1="536.76" x2="181.21" y2="432.26" stroke="#d3d3d3" stroke-width="1.4" />
<line x1="207.55" y1="536.98" x2="207.55" y2="432.48" stroke="#d3d3d3" stroke-width="1.4" />
<line x1="218.96" y1="540.36" x2="218.96" y2="435.86" stroke="#d3d3d3" stroke-width="1.4" />
<line x1="230.36" y1="543.75" x2="230.36" y2="439.25" stroke="#d3d3d3" stroke-width="1.4" />
<line x1="241.77" y1="547.13" x2="241.77" y2="442.63" stroke="#d3d3d3" stroke-width="1.4" />
<line x1="253.17" y1="550.51" x2="253.17" y2="446.01" stroke="#d3d3d3" stroke-width="1.4" />
<line x1="264.57" y1="553.89" x2="264.57" y2="449.39" stroke="#d3d3d3" stroke-width="1.4" />
<line x1="275.98" y1="557.27" x2="275.98" y2="452.77" stroke="#d3d3d3" stroke-width="1.4" />
<line x1="287.38" y1="560.66" x2="287.38" y2="456.16" stroke="#d3d3d3" stroke-width="1.4" />
<line x1="298.78" y1="564.04" x2="298.78" y2="459.54" stroke="#d3d3d3" stroke-width="1.4" />
<line x1="310.19" y1="567.42" x2="310.19" y2="462.92" stroke="#d3d3d3" stroke-width="1.4" />
<polyline points="46.8,514 196.15,482.4 321.25,519.49" fill="none" stroke="#c8c8c8" stroke-width="1.5"/>
<line x1="46.8" y1="565.2" x2="196.15" y2="533.6" stroke="#c2c2c2" stroke-width="1" />
<line x1="58.2" y1="568.58" x2="207.55" y2="536.98" stroke="#c2c2c2" stroke-width="1" />
<line x1="69.61" y1="571.96" x2="218.96" y2="540.36" stroke="#c2c2c2" stroke-width="1" />
<line x1="81.01" y1="575.35" x2="230.36" y2="543.75" stroke="#c2c2c2" stroke-width="1" />
<line x1="92.42" y1="578.73" x2="241.77" y2="547.13" stroke="#c2c2c2" stroke-width="1" />
<line x1="103.82" y1="582.11" x2="253.17" y2="550.51" stroke="#c2c2c2" stroke-width="1" />
<line x1="115.22" y1="585.49" x2="264.57" y2="553.89" stroke="#c2c2c2" stroke-width="1" />
<line x1="126.63" y1="588.87" x2="275.98" y2="557.27" stroke="#c2c2c2" stroke-width="1" />
<line x1="138.03" y1="592.26" x2="287.38" y2="560.66" stroke="#c2c2c2" stroke-width="1" />
<line x1="149.43" y1="595.64" x2="298.78" y2="564.04" stroke="#c2c2c2" stroke-width="1" />
<line x1="160.84" y1="599.02" x2="310.19" y2="567.42" stroke="#c2c2c2" stroke-width="1" />
<line x1="46.8" y1="565.2" x2="171.9" y2="602.3" stroke="#c2c2c2" stroke-width="1" />
<line x1="54.27" y1="563.62" x2="179.37" y2="600.72" stroke="#c2c2c2" stroke-width="1" />
<line x1="61.73" y1="562.04" x2="186.84" y2="599.14" stroke="#c2c2c2" stroke-width="1" />
<line x1="69.2" y1="560.46" x2="194.3" y2="597.56" stroke="#c2c2c2" stroke-width="1" />
<line x1="76.67" y1="558.88" x2="201.77" y2="595.98" stroke="#c2c2c2" stroke-width="1" />
<line x1="84.14" y1="557.3" x2="209.24" y2="594.4" stroke="#c2c2c2" stroke-width="1" />
<line x1="91.6" y1="555.72" x2="216.71" y2="592.82" stroke="#c2c2c2" stroke-width="1" />
<line x1="99.07" y1="554.14" x2="224.17" y2="591.24" stroke="#c2c2c2" stroke-width="1" />
<line x1="106.54" y1="552.56" x2="231.64" y2="589.66" stroke="#c2c2c2" stroke-width="1" />
<line x1="114.01" y1="550.98" x2="239.11" y2="588.08" stroke="#c2c2c2" stroke-width="1" />
<line x1="121.47" y1="549.4" x2="246.58" y2="586.5" stroke="#c2c2c2" stroke-width="1" />
<line x1="128.94" y1="547.82" x2="254.04" y2="584.92" stroke="#c2c2c2" stroke-width="1" />
<line x1="136.41" y1="546.24" x2="261.51" y2="583.34" stroke="#c2c2c2" stroke-width="1" />
<line x1="143.88" y1="544.66" x2="268.98" y2="581.76" stroke="#c2c2c2" stroke-width="1" />
<line x1="151.34" y1="543.08" x2="276.45" y2="580.18" stroke="#c2c2c2" stroke-width="1" />
<line x1="158.81" y1="541.5" x2="283.91" y2="578.6" stroke="#c2c2c2" stroke-width="1" />
<line x1="166.28" y1="539.92" x2="291.38" y2="577.02" stroke="#c2c2c2" stroke-width="1" />
<line x1="173.75" y1="538.34" x2="298.85" y2="575.44" stroke="#c2c2c2" stroke-width="1" />
<line x1="181.21" y1="536.76" x2="306.31" y2="573.86" stroke="#c2c2c2" stroke-width="1" />
<line x1="188.68" y1="535.18" x2="313.78" y2="572.28" stroke="#c2c2c2" stroke-width="1" />
<line x1="196.15" y1="533.6" x2="321.25" y2="570.7" stroke="#c2c2c2" stroke-width="1" />
<polyline points="46.8,565.2 196.15,533.6 321.25,570.7" fill="none" stroke="#000" stroke-width="1.4"/>
<polyline points="46.8,460.7 196.15,429.1 321.25,466.2" fill="none" stroke="#000" stroke-width="1.6"/>
<line x1="321.25" y1="570.7" x2="321.25" y2="466.2" stroke="#000" stroke-width="1.8" />
<polyline points="46.8,564.42 49.79,563.73 52.77,563.03 55.76,562.32 58.75,561.61 61.73,560.88 64.72,560.14 67.71,559.38 70.7,558.6 73.68,557.8 76.67,556.97 79.66,556.1 82.64,555.19 85.63,554.22 88.62,553.17 91.6,552.03 94.59,550.75 97.58,549.3 100.57,547.6 103.55,545.54 104.3,544.96 105.05,544.34 105.79,543.68 106.54,542.98 107.29,542.23 108.03,541.42 108.78,540.56 109.53,539.64 110.27,538.64 111.02,537.56 111.77,536.39 112.51,535.12 113.26,533.73 114.01,532.22 114.75,530.58 115.5,528.78 116.25,526.8 116.99,524.65 117.74,522.29 118.49,519.72 119.23,516.93 119.98,513.92 120.73,510.69 121.47,507.27 122.22,503.7 122.97,500.04 123.72,496.41 124.46,492.91 125.21,489.72 125.96,487.01 126.7,484.93 127.45,483.63 128.2,483.22 128.94,484.03 129.69,486.1 130.44,489.19 131.18,492.96 131.93,497.1 132.68,501.31 133.42,505.41 134.17,509.25 134.92,512.78 135.66,515.96 136.41,518.8 137.16,521.31 137.9,523.51 138.65,525.44 139.4,527.13 140.14,528.61 140.89,529.9 141.64,531.03 142.38,532.02 143.13,532.88 143.88,533.64 144.62,534.3 145.37,534.87 146.12,535.38 146.86,535.82 147.61,536.2 148.36,536.54 149.1,536.83 149.85,537.08 150.6,537.29 151.34,537.48 152.09,537.63 152.84,537.76 153.59,537.87 154.33,537.96 155.08,538.03 158.07,538.16 161.05,538.11 164.04,537.92 167.03,537.64 170.01,537.29 173,536.89 175.99,536.45 178.97,535.98 181.96,535.48 184.95,534.96 187.94,534.42 190.92,533.87 193.91,533.32 196.15,532.89" fill="none" stroke="#ff4400" stroke-width="2" stroke-linejoin="round"/>
<polyline points="58.2,567.77 61.19,567.07 64.18,566.37 67.16,565.66 70.15,564.94 73.14,564.2 76.13,563.46 79.11,562.69 82.1,561.91 85.09,561.1 88.07,560.26 91.06,559.38 94.05,558.45 97.03,557.46 100.02,556.4 103.01,555.23 106,553.92 108.98,552.43 111.97,550.68 114.96,548.56 115.7,547.95 116.45,547.31 117.2,546.62 117.94,545.89 118.69,545.12 119.44,544.28 120.18,543.39 120.93,542.42 121.68,541.38 122.42,540.26 123.17,539.04 123.92,537.72 124.66,536.27 125.41,534.7 126.16,532.98 126.9,531.1 127.65,529.04 128.4,526.79 129.15,524.33 129.89,521.64 130.64,518.72 131.39,515.57 132.13,512.19 132.88,508.61 133.63,504.87 134.37,501.05 135.12,497.25 135.87,493.59 136.61,490.26 137.36,487.42 138.11,485.25 138.85,483.89 139.6,483.46 140.35,484.32 141.09,486.51 141.84,489.75 142.59,493.72 143.33,498.05 144.08,502.48 144.83,506.78 145.57,510.82 146.32,514.53 147.07,517.87 147.81,520.85 148.56,523.49 149.31,525.81 150.05,527.84 150.8,529.62 151.55,531.18 152.29,532.54 153.04,533.73 153.79,534.77 154.53,535.69 155.28,536.48 156.03,537.18 156.77,537.8 157.52,538.33 158.27,538.8 159.02,539.21 159.76,539.57 160.51,539.88 161.26,540.15 162,540.39 162.75,540.59 163.5,540.76 164.24,540.9 164.99,541.03 165.74,541.13 166.48,541.21 169.47,541.38 172.46,541.35 175.44,541.18 178.43,540.92 181.42,540.59 184.4,540.2 187.39,539.76 190.38,539.3 193.37,538.8 196.35,538.29 199.34,537.76 202.33,537.22 205.31,536.66 207.55,536.24" fill="none" stroke="#ff2400" stroke-width="2" stroke-linejoin="round"/>
<polyline points="69.61,571.11 72.59,570.41 75.58,569.71 78.57,568.99 81.56,568.26 84.54,567.53 87.53,566.77 90.52,566 93.5,565.2 96.49,564.38 99.48,563.53 102.46,562.63 105.45,561.69 108.44,560.67 111.43,559.58 114.41,558.37 117.4,557 120.39,555.44 123.37,553.59 126.36,551.32 127.11,550.67 127.85,549.98 128.6,549.25 129.35,548.46 130.09,547.62 130.84,546.71 131.59,545.74 132.33,544.69 133.08,543.55 133.83,542.32 134.57,540.98 135.32,539.53 136.07,537.94 136.82,536.2 137.56,534.3 138.31,532.22 139.06,529.95 139.8,527.46 140.55,524.74 141.3,521.79 142.04,518.59 142.79,515.16 143.54,511.51 144.28,507.69 145.03,503.77 145.78,499.84 146.52,496.03 147.27,492.52 148.02,489.48 148.76,487.09 149.51,485.53 150.26,484.88 151,485.48 151.75,487.48 152.5,490.64 153.24,494.61 153.99,499.03 154.74,503.6 155.48,508.08 156.23,512.32 156.98,516.21 157.72,519.74 158.47,522.89 159.22,525.68 159.96,528.14 160.71,530.3 161.46,532.19 162.2,533.84 162.95,535.29 163.7,536.55 164.44,537.66 165.19,538.63 165.94,539.48 166.69,540.22 167.43,540.88 168.18,541.45 168.93,541.95 169.67,542.39 170.42,542.78 171.17,543.11 171.91,543.4 172.66,543.66 173.41,543.88 174.15,544.06 174.9,544.22 175.65,544.36 176.39,544.47 177.14,544.56 180.13,544.77 183.11,544.77 186.1,544.62 189.09,544.38 192.07,544.05 195.06,543.67 198.05,543.25 201.04,542.79 204.02,542.3 207.01,541.79 210,541.27 212.98,540.73 215.97,540.17 218.96,539.61" fill="none" stroke="#ff1000" stroke-width="2" stroke-linejoin="round"/>
<polyline points="81.01,574.42 84,573.72 86.99,573.01 89.97,572.28 92.96,571.55 95.95,570.8 98.93,570.03 101.92,569.25 104.91,568.44 107.89,567.6 110.88,566.73 113.87,565.81 116.86,564.83 119.84,563.78 122.83,562.64 125.82,561.37 128.8,559.94 131.79,558.27 134.78,556.29 135.52,555.73 136.27,555.14 137.02,554.52 137.76,553.86 138.51,553.15 139.26,552.4 140,551.6 140.75,550.74 141.5,549.82 142.24,548.84 142.99,547.77 143.74,546.62 144.49,545.37 145.23,544.01 145.98,542.54 146.73,540.93 147.47,539.17 148.22,537.25 148.97,535.14 149.71,532.84 150.46,530.32 151.21,527.56 151.95,524.55 152.7,521.28 153.45,517.76 154.19,513.98 154.94,509.99 155.69,505.85 156.43,501.62 157.18,497.45 157.93,493.47 158.67,489.89 159.42,486.89 160.17,484.67 160.91,483.39 161.66,483.17 162.41,484.45 163.15,487.15 163.9,490.95 164.65,495.47 165.39,500.34 166.14,505.24 166.89,509.98 167.63,514.4 168.38,518.45 169.13,522.09 169.87,525.33 170.62,528.19 171.37,530.71 172.11,532.92 172.86,534.86 173.61,536.55 174.36,538.04 175.1,539.34 175.85,540.48 176.6,541.48 177.34,542.36 178.09,543.13 178.84,543.81 179.58,544.4 180.33,544.93 181.08,545.39 181.82,545.79 182.57,546.14 183.32,546.45 184.06,546.72 184.81,546.95 185.56,547.15 186.3,547.33 187.05,547.47 187.8,547.6 188.54,547.7 191.53,547.94 194.52,547.97 197.5,547.85 200.49,547.62 203.48,547.32 206.47,546.95 209.45,546.53 212.44,546.08 215.43,545.61 218.41,545.1 221.4,544.58 224.39,544.05 227.37,543.5 230.36,542.94" fill="none" stroke="#f80000" stroke-width="2" stroke-linejoin="round"/>
<polyline points="92.42,577.72 95.4,577.01 98.39,576.28 101.38,575.55 104.36,574.81 107.35,574.04 110.34,573.26 113.32,572.46 116.31,571.63 119.3,570.77 122.29,569.86 125.27,568.91 128.26,567.88 131.25,566.78 134.23,565.56 137.22,564.2 140.21,562.65 143.19,560.82 146.18,558.62 146.93,557.99 147.67,557.33 148.42,556.62 149.17,555.87 149.92,555.07 150.66,554.21 151.41,553.3 152.16,552.31 152.9,551.25 153.65,550.1 154.4,548.86 155.14,547.51 155.89,546.05 156.64,544.45 157.38,542.71 158.13,540.81 158.88,538.73 159.62,536.45 160.37,533.95 161.12,531.21 161.86,528.22 162.61,524.96 163.36,521.42 164.1,517.61 164.85,513.54 165.6,509.24 166.34,504.79 167.09,500.28 167.84,495.86 168.58,491.68 169.33,487.97 170.08,484.93 170.82,482.75 171.57,481.6 172.32,481.67 173.06,483.37 173.81,486.54 174.56,490.8 175.3,495.75 176.05,501 176.8,506.23 177.54,511.25 178.29,515.92 179.04,520.17 179.79,523.98 180.53,527.38 181.28,530.37 182.03,533.01 182.77,535.32 183.52,537.35 184.27,539.13 185.01,540.69 185.76,542.05 186.51,543.25 187.25,544.3 188,545.23 188.75,546.05 189.49,546.76 190.24,547.4 190.99,547.95 191.73,548.44 192.48,548.87 193.23,549.25 193.97,549.58 194.72,549.87 195.47,550.12 196.21,550.34 196.96,550.53 197.71,550.7 198.45,550.84 199.2,550.95 202.19,551.24 205.17,551.31 208.16,551.22 211.15,551.01 214.14,550.72 217.12,550.37 220.11,549.97 223.1,549.53 226.08,549.06 229.07,548.57 232.06,548.06 235.04,547.53 238.03,546.98 241.02,546.43 241.77,546.29" fill="none" stroke="#e80000" stroke-width="2" stroke-linejoin="round"/>
<polyline points="103.82,581 106.81,580.28 109.79,579.54 112.78,578.8 115.77,578.04 118.75,577.26 121.74,576.46 124.73,575.64 127.72,574.78 130.7,573.89 133.69,572.95 136.68,571.95 139.66,570.87 142.65,569.69 145.64,568.39 148.62,566.92 151.61,565.22 154.6,563.19 157.59,560.71 158.33,560 159.08,559.24 159.83,558.43 160.57,557.57 161.32,556.65 162.07,555.65 162.81,554.59 163.56,553.44 164.31,552.19 165.05,550.85 165.8,549.38 166.55,547.79 167.29,546.05 168.04,544.16 168.79,542.08 169.53,539.81 170.28,537.32 171.03,534.59 171.77,531.6 172.52,528.33 173.27,524.77 174.01,520.9 174.76,516.75 175.51,512.32 176.25,507.66 177,502.85 177.75,498.01 178.49,493.29 179.24,488.88 179.99,485.02 180.73,481.92 181.48,479.8 182.23,478.81 182.97,479.22 183.72,481.41 184.47,485.11 185.21,489.9 185.96,495.34 186.71,501.03 187.46,506.66 188.2,512.01 188.95,516.97 189.7,521.47 190.44,525.5 191.19,529.08 191.94,532.24 192.68,535.02 193.43,537.46 194.18,539.61 194.92,541.48 195.67,543.13 196.42,544.58 197.16,545.85 197.91,546.97 198.66,547.96 199.4,548.82 200.15,549.59 200.9,550.27 201.64,550.86 202.39,551.39 203.14,551.85 203.88,552.26 204.63,552.62 205.38,552.94 206.12,553.22 206.87,553.46 207.62,553.67 208.36,553.86 209.11,554.01 209.86,554.15 212.84,554.49 215.83,554.6 218.82,554.55 221.81,554.37 224.79,554.1 227.78,553.77 230.77,553.39 233.75,552.96 236.74,552.5 239.73,552.02 242.71,551.51 245.7,550.99 248.69,550.46 251.68,549.91 253.17,549.63" fill="none" stroke="#d80000" stroke-width="2" stroke-linejoin="round"/>
<polyline points="115.22,584.24 118.21,583.5 121.2,582.76 124.18,582 127.17,581.22 130.16,580.42 133.14,579.59 136.13,578.73 139.12,577.84 142.11,576.9 145.09,575.9 148.08,574.83 151.07,573.66 154.05,572.38 157.04,570.93 160.03,569.27 163.01,567.32 166,564.96 166.75,564.28 167.5,563.56 168.24,562.8 168.99,562 169.74,561.13 170.48,560.21 171.23,559.22 171.98,558.16 172.72,557.02 173.47,555.78 174.22,554.45 174.96,553 175.71,551.43 176.46,549.71 177.2,547.84 177.95,545.8 178.7,543.56 179.44,541.11 180.19,538.42 180.94,535.48 181.68,532.25 182.43,528.72 183.18,524.87 183.92,520.69 184.67,516.2 185.42,511.41 186.16,506.37 186.91,501.17 187.66,495.93 188.4,490.83 189.15,486.06 189.9,481.89 190.64,478.54 191.39,476.26 192.14,475.19 192.88,475.66 193.63,478.05 194.38,482.07 195.13,487.28 195.87,493.19 196.62,499.37 197.37,505.48 198.11,511.3 198.86,516.69 199.61,521.58 200.35,525.97 201.1,529.86 201.85,533.31 202.59,536.33 203.34,539 204.09,541.33 204.83,543.38 205.58,545.18 206.33,546.76 207.07,548.16 207.82,549.38 208.57,550.47 209.31,551.42 210.06,552.26 210.81,553.01 211.55,553.67 212.3,554.26 213.05,554.77 213.79,555.23 214.54,555.63 215.29,555.99 216.03,556.31 216.78,556.58 217.53,556.83 218.27,557.04 219.02,557.22 219.77,557.38 222.75,557.81 225.74,557.98 228.73,557.97 231.72,557.83 234.7,557.6 237.69,557.29 240.68,556.93 243.66,556.52 246.65,556.08 249.64,555.6 252.62,555.11 255.61,554.6 258.6,554.07 261.59,553.53 264.57,552.98" fill="none" stroke="#cc0000" stroke-width="2" stroke-linejoin="round"/>
<polyline points="126.63,587.54 129.61,586.79 132.6,586.04 135.59,585.27 138.57,584.47 141.56,583.66 144.55,582.81 147.54,581.93 150.52,581.01 153.51,580.04 156.5,579 159.48,577.88 162.47,576.65 165.46,575.28 168.44,573.73 171.43,571.93 174.42,569.78 177.41,567.14 178.15,566.37 178.9,565.57 179.65,564.7 180.39,563.78 181.14,562.79 181.89,561.73 182.63,560.59 183.38,559.36 184.13,558.03 184.87,556.58 185.62,555.02 186.37,553.31 187.11,551.45 187.86,549.42 188.61,547.2 189.35,544.76 190.1,542.09 190.85,539.16 191.59,535.94 192.34,532.43 193.09,528.59 193.83,524.41 194.58,519.91 195.33,515.08 196.07,509.97 196.82,504.66 197.57,499.25 198.31,493.9 199.06,488.81 199.81,484.23 200.56,480.4 201.3,477.59 202.05,475.97 202.8,475.74 203.54,477.44 204.29,480.97 205.04,485.93 205.78,491.81 206.53,498.14 207.28,504.53 208.02,510.69 208.77,516.45 209.52,521.72 210.26,526.47 211.01,530.7 211.76,534.44 212.5,537.74 213.25,540.64 214,543.19 214.74,545.43 215.49,547.39 216.24,549.12 216.98,550.64 217.73,551.98 218.48,553.16 219.22,554.2 219.97,555.12 220.72,555.94 221.46,556.66 222.21,557.3 222.96,557.87 223.7,558.37 224.45,558.81 225.2,559.2 225.94,559.55 226.69,559.86 227.44,560.13 228.18,560.36 228.93,560.57 229.68,560.75 232.67,561.24 235.65,561.47 238.64,561.49 241.63,561.39 244.61,561.17 247.6,560.88 250.59,560.53 253.57,560.14 256.56,559.7 259.55,559.24 262.54,558.75 265.52,558.24 268.51,557.72 271.5,557.18 274.48,556.64 275.98,556.36" fill="none" stroke="#c80000" stroke-width="2" stroke-linejoin="round"/>
<polyline points="138.03,590.8 141.02,590.05 144,589.28 146.99,588.49 149.98,587.68 152.97,586.84 155.95,585.97 158.94,585.06 161.93,584.11 164.91,583.09 167.9,582 170.89,580.81 173.87,579.49 176.86,578.02 179.85,576.32 182.84,574.32 185.82,571.9 188.81,568.89 189.56,568.01 190.3,567.07 191.05,566.07 191.8,564.99 192.54,563.83 193.29,562.58 194.04,561.23 194.78,559.77 195.53,558.18 196.28,556.45 197.02,554.56 197.77,552.51 198.52,550.26 199.26,547.79 200.01,545.08 200.76,542.12 201.5,538.86 202.25,535.29 203,531.39 203.74,527.15 204.49,522.54 205.24,517.6 205.98,512.34 206.73,506.82 207.48,501.15 208.23,495.48 208.97,489.99 209.72,484.92 210.47,480.54 211.21,477.13 211.96,474.91 212.71,474.05 213.45,474.99 214.2,477.99 214.95,482.68 215.69,488.56 216.44,495.11 217.19,501.86 217.93,508.49 218.68,514.75 219.43,520.53 220.17,525.76 220.92,530.44 221.67,534.59 222.41,538.26 223.16,541.49 223.91,544.33 224.65,546.82 225.4,549.01 226.15,550.93 226.89,552.63 227.64,554.12 228.39,555.44 229.13,556.6 229.88,557.63 230.63,558.54 231.37,559.35 232.12,560.06 232.87,560.7 233.61,561.26 234.36,561.76 235.11,562.2 235.85,562.6 236.6,562.94 237.35,563.25 238.1,563.52 238.84,563.76 239.59,563.97 242.58,564.56 245.56,564.85 248.55,564.93 251.54,564.86 254.52,564.68 257.51,564.42 260.5,564.09 263.48,563.71 266.47,563.29 269.46,562.84 272.45,562.36 275.43,561.86 278.42,561.35 281.41,560.82 284.39,560.27 287.38,559.72" fill="none" stroke="#c40000" stroke-width="2" stroke-linejoin="round"/>
<polyline points="149.43,594.16 152.42,593.41 155.41,592.63 158.4,591.84 161.38,591.02 164.37,590.18 167.36,589.3 170.34,588.38 173.33,587.41 176.32,586.38 179.3,585.26 182.29,584.05 185.28,582.7 188.27,581.17 191.25,579.4 194.24,577.31 197.23,574.75 197.97,574.02 198.72,573.24 199.47,572.42 200.21,571.53 200.96,570.59 201.71,569.58 202.45,568.5 203.2,567.33 203.95,566.08 204.69,564.72 205.44,563.24 206.19,561.64 206.93,559.9 207.68,558 208.43,555.93 209.17,553.65 209.92,551.17 210.67,548.44 211.41,545.44 212.16,542.16 212.91,538.56 213.65,534.63 214.4,530.36 215.15,525.73 215.9,520.77 216.64,515.5 217.39,510 218.14,504.37 218.88,498.77 219.63,493.4 220.38,488.5 221.12,484.34 221.87,481.18 222.62,479.24 223.36,478.67 224.11,480.03 224.86,483.37 225.6,488.29 226.35,494.28 227.1,500.83 227.84,507.52 228.59,514.02 229.34,520.13 230.08,525.74 230.83,530.8 231.58,535.33 232.32,539.34 233.07,542.87 233.82,545.99 234.56,548.72 235.31,551.12 236.06,553.23 236.8,555.09 237.55,556.72 238.3,558.16 239.04,559.43 239.79,560.55 240.54,561.54 241.28,562.42 242.03,563.2 242.78,563.89 243.52,564.5 244.27,565.04 245.02,565.53 245.77,565.95 246.51,566.33 247.26,566.67 248.01,566.96 248.75,567.22 249.5,567.45 250.25,567.65 253.23,568.21 256.22,568.48 259.21,568.54 262.19,568.46 265.18,568.27 268.17,568 271.15,567.67 274.14,567.28 277.13,566.86 280.12,566.4 283.1,565.92 286.09,565.42 289.08,564.9 292.06,564.37 295.05,563.83 298.04,563.27 298.78,563.13" fill="none" stroke="#c80000" stroke-width="2" stroke-linejoin="round"/>
<polyline points="160.84,597.53 163.83,596.77 166.81,595.99 169.8,595.19 172.79,594.37 175.77,593.52 178.76,592.63 181.75,591.7 184.73,590.72 187.72,589.66 190.71,588.53 193.7,587.28 196.68,585.89 199.67,584.31 202.66,582.47 205.64,580.27 208.63,577.56 209.38,576.78 210.12,575.95 210.87,575.06 211.62,574.11 212.36,573.1 213.11,572.01 213.86,570.84 214.6,569.57 215.35,568.2 216.1,566.72 216.84,565.11 217.59,563.35 218.34,561.44 219.08,559.34 219.83,557.05 220.58,554.54 221.33,551.79 222.07,548.77 222.82,545.46 223.57,541.83 224.31,537.87 225.06,533.57 225.81,528.92 226.55,523.94 227.3,518.68 228.05,513.2 228.79,507.62 229.54,502.1 230.29,496.86 231.03,492.13 231.78,488.19 232.53,485.28 233.27,483.62 234.02,483.39 234.77,485.15 235.51,488.8 236.26,493.92 237.01,500 237.75,506.54 238.5,513.14 239.25,519.5 239.99,525.45 240.74,530.9 241.49,535.8 242.23,540.17 242.98,544.04 243.73,547.46 244.47,550.46 245.22,553.09 245.97,555.41 246.71,557.44 247.46,559.23 248.21,560.8 248.95,562.19 249.7,563.41 250.45,564.49 251.2,565.45 251.94,566.3 252.69,567.05 253.44,567.71 254.18,568.3 254.93,568.82 255.68,569.29 256.42,569.7 257.17,570.06 257.92,570.38 258.66,570.67 259.41,570.92 260.16,571.13 260.9,571.32 263.89,571.85 266.88,572.1 269.86,572.15 272.85,572.06 275.84,571.86 278.82,571.58 281.81,571.24 284.8,570.85 287.79,570.43 290.77,569.97 293.76,569.49 296.75,568.98 299.73,568.46 302.72,567.93 305.71,567.38 308.69,566.83 310.19,566.55" fill="none" stroke="#c40000" stroke-width="2" stroke-linejoin="round"/>
<line x1="196.15" y1="533.6" x2="196.15" y2="429.1" stroke="#000" stroke-width="1.3" />
<line x1="46.8" y1="566.2" x2="46.8" y2="459.9" stroke="#000" stroke-width="2" />
<line x1="46.8" y1="554.75" x2="49" y2="554.75" stroke="#000" stroke-width="1.5" />
<line x1="46.8" y1="544.3" x2="49" y2="544.3" stroke="#000" stroke-width="1.5" />
<line x1="46.8" y1="533.85" x2="49" y2="533.85" stroke="#000" stroke-width="1.5" />
<line x1="46.8" y1="523.4" x2="49" y2="523.4" stroke="#000" stroke-width="1.5" />
<line x1="46.8" y1="512.95" x2="49" y2="512.95" stroke="#000" stroke-width="1.5" />
<line x1="46.8" y1="502.5" x2="49" y2="502.5" stroke="#000" stroke-width="1.5" />
<line x1="46.8" y1="492.05" x2="49" y2="492.05" stroke="#000" stroke-width="1.5" />
<line x1="46.8" y1="481.6" x2="49" y2="481.6" stroke="#000" stroke-width="1.5" />
<line x1="46.8" y1="471.15" x2="49" y2="471.15" stroke="#000" stroke-width="1.5" />
<polyline points="46.8,565.2 171.9,602.3 321.25,570.7" fill="none" stroke="#000" stroke-width="2.4" stroke-linejoin="miter"/>
<line x1="171.9" y1="602.3" x2="169.62" y2="601.62" stroke="#000" stroke-width="0.9" />
<line x1="173.39" y1="601.98" x2="171.11" y2="601.31" stroke="#000" stroke-width="0.9" />
<line x1="174.89" y1="601.67" x2="172.61" y2="600.99" stroke="#000" stroke-width="0.9" />
<line x1="176.38" y1="601.35" x2="174.1" y2="600.68" stroke="#000" stroke-width="0.9" />
<line x1="177.87" y1="601.04" x2="175.59" y2="600.36" stroke="#000" stroke-width="0.9" />
<line x1="179.37" y1="600.72" x2="177.09" y2="600.04" stroke="#000" stroke-width="0.9" />
<line x1="180.86" y1="600.4" x2="178.58" y2="599.73" stroke="#000" stroke-width="0.9" />
<line x1="182.35" y1="600.09" x2="180.07" y2="599.41" stroke="#000" stroke-width="0.9" />
<line x1="183.85" y1="599.77" x2="181.57" y2="599.1" stroke="#000" stroke-width="0.9" />
<line x1="185.34" y1="599.46" x2="183.06" y2="598.78" stroke="#000" stroke-width="0.9" />
<line x1="186.84" y1="599.14" x2="184.55" y2="598.46" stroke="#000" stroke-width="0.9" />
<line x1="188.33" y1="598.82" x2="186.05" y2="598.15" stroke="#000" stroke-width="0.9" />
<line x1="189.82" y1="598.51" x2="187.54" y2="597.83" stroke="#000" stroke-width="0.9" />
<line x1="191.32" y1="598.19" x2="189.03" y2="597.52" stroke="#000" stroke-width="0.9" />
<line x1="192.81" y1="597.88" x2="190.53" y2="597.2" stroke="#000" stroke-width="0.9" />
<line x1="194.3" y1="597.56" x2="192.02" y2="596.88" stroke="#000" stroke-width="0.9" />
<line x1="195.8" y1="597.24" x2="193.52" y2="596.57" stroke="#000" stroke-width="0.9" />
<line x1="197.29" y1="596.93" x2="195.01" y2="596.25" stroke="#000" stroke-width="0.9" />
<line x1="198.78" y1="596.61" x2="196.5" y2="595.94" stroke="#000" stroke-width="0.9" />
<line x1="200.28" y1="596.3" x2="198" y2="595.62" stroke="#000" stroke-width="0.9" />
<line x1="201.77" y1="595.98" x2="199.49" y2="595.3" stroke="#000" stroke-width="0.9" />
<line x1="203.26" y1="595.66" x2="200.98" y2="594.99" stroke="#000" stroke-width="0.9" />
<line x1="204.76" y1="595.35" x2="202.48" y2="594.67" stroke="#000" stroke-width="0.9" />
<line x1="206.25" y1="595.03" x2="203.97" y2="594.36" stroke="#000" stroke-width="0.9" />
<line x1="207.74" y1="594.72" x2="205.46" y2="594.04" stroke="#000" stroke-width="0.9" />
<line x1="209.24" y1="594.4" x2="206.96" y2="593.72" stroke="#000" stroke-width="0.9" />
<line x1="210.73" y1="594.08" x2="208.45" y2="593.41" stroke="#000" stroke-width="0.9" />
<line x1="212.22" y1="593.77" x2="209.94" y2="593.09" stroke="#000" stroke-width="0.9" />
<line x1="213.72" y1="593.45" x2="211.44" y2="592.78" stroke="#000" stroke-width="0.9" />
<line x1="215.21" y1="593.14" x2="212.93" y2="592.46" stroke="#000" stroke-width="0.9" />
<line x1="216.71" y1="592.82" x2="214.42" y2="592.14" stroke="#000" stroke-width="0.9" />
<line x1="218.2" y1="592.5" x2="215.92" y2="591.83" stroke="#000" stroke-width="0.9" />
<line x1="219.69" y1="592.19" x2="217.41" y2="591.51" stroke="#000" stroke-width="0.9" />
<line x1="221.19" y1="591.87" x2="218.9" y2="591.2" stroke="#000" stroke-width="0.9" />
<line x1="222.68" y1="591.56" x2="220.4" y2="590.88" stroke="#000" stroke-width="0.9" />
<line x1="224.17" y1="591.24" x2="221.89" y2="590.56" stroke="#000" stroke-width="0.9" />
<line x1="225.67" y1="590.92" x2="223.39" y2="590.25" stroke="#000" stroke-width="0.9" />
<line x1="227.16" y1="590.61" x2="224.88" y2="589.93" stroke="#000" stroke-width="0.9" />
<line x1="228.65" y1="590.29" x2="226.37" y2="589.62" stroke="#000" stroke-width="0.9" />
<line x1="230.15" y1="589.98" x2="227.87" y2="589.3" stroke="#000" stroke-width="0.9" />
<line x1="231.64" y1="589.66" x2="229.36" y2="588.98" stroke="#000" stroke-width="0.9" />
<line x1="233.13" y1="589.34" x2="230.85" y2="588.67" stroke="#000" stroke-width="0.9" />
<line x1="234.63" y1="589.03" x2="232.35" y2="588.35" stroke="#000" stroke-width="0.9" />
<line x1="236.12" y1="588.71" x2="233.84" y2="588.04" stroke="#000" stroke-width="0.9" />
<line x1="237.61" y1="588.4" x2="235.33" y2="587.72" stroke="#000" stroke-width="0.9" />
<line x1="239.11" y1="588.08" x2="236.83" y2="587.4" stroke="#000" stroke-width="0.9" />
<line x1="240.6" y1="587.76" x2="238.32" y2="587.09" stroke="#000" stroke-width="0.9" />
<line x1="242.09" y1="587.45" x2="239.81" y2="586.77" stroke="#000" stroke-width="0.9" />
<line x1="243.59" y1="587.13" x2="241.31" y2="586.46" stroke="#000" stroke-width="0.9" />
<line x1="245.08" y1="586.82" x2="242.8" y2="586.14" stroke="#000" stroke-width="0.9" />
<line x1="246.58" y1="586.5" x2="244.29" y2="585.82" stroke="#000" stroke-width="0.9" />
<line x1="248.07" y1="586.18" x2="245.79" y2="585.51" stroke="#000" stroke-width="0.9" />
<line x1="249.56" y1="585.87" x2="247.28" y2="585.19" stroke="#000" stroke-width="0.9" />
<line x1="251.06" y1="585.55" x2="248.77" y2="584.88" stroke="#000" stroke-width="0.9" />
<line x1="252.55" y1="585.24" x2="250.27" y2="584.56" stroke="#000" stroke-width="0.9" />
<line x1="254.04" y1="584.92" x2="251.76" y2="584.24" stroke="#000" stroke-width="0.9" />
<line x1="255.54" y1="584.6" x2="253.26" y2="583.93" stroke="#000" stroke-width="0.9" />
<line x1="257.03" y1="584.29" x2="254.75" y2="583.61" stroke="#000" stroke-width="0.9" />
<line x1="258.52" y1="583.97" x2="256.24" y2="583.3" stroke="#000" stroke-width="0.9" />
<line x1="260.02" y1="583.66" x2="257.74" y2="582.98" stroke="#000" stroke-width="0.9" />
<line x1="261.51" y1="583.34" x2="259.23" y2="582.66" stroke="#000" stroke-width="0.9" />
<line x1="263" y1="583.02" x2="260.72" y2="582.35" stroke="#000" stroke-width="0.9" />
<line x1="264.5" y1="582.71" x2="262.22" y2="582.03" stroke="#000" stroke-width="0.9" />
<line x1="265.99" y1="582.39" x2="263.71" y2="581.72" stroke="#000" stroke-width="0.9" />
<line x1="267.48" y1="582.08" x2="265.2" y2="581.4" stroke="#000" stroke-width="0.9" />
<line x1="268.98" y1="581.76" x2="266.7" y2="581.08" stroke="#000" stroke-width="0.9" />
<line x1="270.47" y1="581.44" x2="268.19" y2="580.77" stroke="#000" stroke-width="0.9" />
<line x1="271.96" y1="581.13" x2="269.68" y2="580.45" stroke="#000" stroke-width="0.9" />
<line x1="273.46" y1="580.81" x2="271.18" y2="580.14" stroke="#000" stroke-width="0.9" />
<line x1="274.95" y1="580.5" x2="272.67" y2="579.82" stroke="#000" stroke-width="0.9" />
<line x1="276.45" y1="580.18" x2="274.16" y2="579.5" stroke="#000" stroke-width="0.9" />
<line x1="277.94" y1="579.86" x2="275.66" y2="579.19" stroke="#000" stroke-width="0.9" />
<line x1="279.43" y1="579.55" x2="277.15" y2="578.87" stroke="#000" stroke-width="0.9" />
<line x1="280.93" y1="579.23" x2="278.64" y2="578.56" stroke="#000" stroke-width="0.9" />
<line x1="282.42" y1="578.92" x2="280.14" y2="578.24" stroke="#000" stroke-width="0.9" />
<line x1="283.91" y1="578.6" x2="281.63" y2="577.92" stroke="#000" stroke-width="0.9" />
<line x1="285.41" y1="578.28" x2="283.13" y2="577.61" stroke="#000" stroke-width="0.9" />
<line x1="286.9" y1="577.97" x2="284.62" y2="577.29" stroke="#000" stroke-width="0.9" />
<line x1="288.39" y1="577.65" x2="286.11" y2="576.98" stroke="#000" stroke-width="0.9" />
<line x1="289.89" y1="577.34" x2="287.61" y2="576.66" stroke="#000" stroke-width="0.9" />
<line x1="291.38" y1="577.02" x2="289.1" y2="576.34" stroke="#000" stroke-width="0.9" />
<line x1="292.87" y1="576.7" x2="290.59" y2="576.03" stroke="#000" stroke-width="0.9" />
<line x1="294.37" y1="576.39" x2="292.09" y2="575.71" stroke="#000" stroke-width="0.9" />
<line x1="295.86" y1="576.07" x2="293.58" y2="575.4" stroke="#000" stroke-width="0.9" />
<line x1="297.35" y1="575.76" x2="295.07" y2="575.08" stroke="#000" stroke-width="0.9" />
<line x1="298.85" y1="575.44" x2="296.57" y2="574.76" stroke="#000" stroke-width="0.9" />
<line x1="300.34" y1="575.12" x2="298.06" y2="574.45" stroke="#000" stroke-width="0.9" />
<line x1="301.83" y1="574.81" x2="299.55" y2="574.13" stroke="#000" stroke-width="0.9" />
<line x1="303.33" y1="574.49" x2="301.05" y2="573.82" stroke="#000" stroke-width="0.9" />
<line x1="304.82" y1="574.18" x2="302.54" y2="573.5" stroke="#000" stroke-width="0.9" />
<line x1="306.31" y1="573.86" x2="304.03" y2="573.18" stroke="#000" stroke-width="0.9" />
<line x1="307.81" y1="573.54" x2="305.53" y2="572.87" stroke="#000" stroke-width="0.9" />
<line x1="309.3" y1="573.23" x2="307.02" y2="572.55" stroke="#000" stroke-width="0.9" />
<line x1="310.8" y1="572.91" x2="308.51" y2="572.24" stroke="#000" stroke-width="0.9" />
<line x1="312.29" y1="572.6" x2="310.01" y2="571.92" stroke="#000" stroke-width="0.9" />
<line x1="313.78" y1="572.28" x2="311.5" y2="571.6" stroke="#000" stroke-width="0.9" />
<line x1="315.28" y1="571.96" x2="313" y2="571.29" stroke="#000" stroke-width="0.9" />
<line x1="316.77" y1="571.65" x2="314.49" y2="570.97" stroke="#000" stroke-width="0.9" />
<line x1="318.26" y1="571.33" x2="315.98" y2="570.66" stroke="#000" stroke-width="0.9" />
<line x1="319.76" y1="571.02" x2="317.48" y2="570.34" stroke="#000" stroke-width="0.9" />
<line x1="321.25" y1="570.7" x2="318.97" y2="570.02" stroke="#000" stroke-width="0.9" />
<line x1="171.9" y1="602.3" x2="169.39" y2="601.56" stroke="#000" stroke-width="1.2" />
<line x1="186.84" y1="599.14" x2="184.33" y2="598.4" stroke="#000" stroke-width="1.2" />
<line x1="201.77" y1="595.98" x2="199.26" y2="595.24" stroke="#000" stroke-width="1.2" />
<line x1="216.71" y1="592.82" x2="214.2" y2="592.08" stroke="#000" stroke-width="1.2" />
<line x1="231.64" y1="589.66" x2="229.13" y2="588.92" stroke="#000" stroke-width="1.2" />
<line x1="246.58" y1="586.5" x2="244.07" y2="585.76" stroke="#000" stroke-width="1.2" />
<line x1="261.51" y1="583.34" x2="259" y2="582.6" stroke="#000" stroke-width="1.2" />
<line x1="276.45" y1="580.18" x2="273.94" y2="579.44" stroke="#000" stroke-width="1.2" />
<line x1="291.38" y1="577.02" x2="288.87" y2="576.28" stroke="#000" stroke-width="1.2" />
<line x1="306.31" y1="573.86" x2="303.81" y2="573.12" stroke="#000" stroke-width="1.2" />
<line x1="321.25" y1="570.7" x2="318.74" y2="569.96" stroke="#000" stroke-width="1.2" />
<text transform="translate(19.1,471.9) scale(1,1)" font-size="16.6" font-weight="normal" font-style="normal" fill="#000">1.0</text>
<text transform="translate(19.1,491.8) scale(1,1)" font-size="16.6" font-weight="normal" font-style="normal" fill="#000">0.8</text>
<text transform="translate(19.1,511.6) scale(1,1)" font-size="16.6" font-weight="normal" font-style="normal" fill="#000">0.6</text>
<text transform="translate(18.1,531.5) scale(1,1)" font-size="16.6" font-weight="normal" font-style="normal" fill="#000">0.4</text>
<text transform="translate(19.1,554.1) scale(1,1)" font-size="16.6" font-weight="normal" font-style="normal" fill="#000">0.2</text>
<text transform="translate(27.3,574.7) scale(1,1)" font-size="16.6" font-weight="normal" font-style="normal" fill="#000">0</text>
<text transform="translate(13.7,553.29) rotate(-90) scale(0.99,1)" font-size="16" font-weight="normal" font-style="normal" fill="#000">Norm. int.</text>
<text transform="translate(43.9,575.4) rotate(-62) scale(1,1)" font-size="12.5" text-anchor="middle" fill="#000" font-style="normal" dy="4.38">12</text>
<text transform="translate(66.5,581.5) rotate(-62) scale(1,1)" font-size="12.5" text-anchor="middle" fill="#000" font-style="normal" dy="4.38">10</text>
<text transform="translate(88.7,590.3) rotate(-62) scale(1,1)" font-size="12.5" text-anchor="middle" fill="#000" font-style="normal" dy="4.38">8</text>
<text transform="translate(111.8,597.2) rotate(-62) scale(1,1)" font-size="12.5" text-anchor="middle" fill="#000" font-style="normal" dy="4.38">6</text>
<text transform="translate(135,603.4) rotate(-62) scale(1,1)" font-size="12.5" text-anchor="middle" fill="#000" font-style="normal" dy="4.38">4</text>
<text transform="translate(157.6,610.6) rotate(-62) scale(1,1)" font-size="12.5" text-anchor="middle" fill="#000" font-style="normal" dy="4.38">2</text>
<text transform="translate(97.2,614.4) rotate(18)" font-size="17.3" text-anchor="middle" fill="#000"><tspan font-style="italic">T</tspan> (°C)</text>
<text transform="translate(173.9,613) rotate(76) scale(1,1)" font-size="12.3" text-anchor="middle" fill="#000" font-style="normal" dy="4.3">-25</text>
<text transform="translate(189,610.4) rotate(76) scale(1,1)" font-size="12.3" text-anchor="middle" fill="#000" font-style="normal" dy="4.3">-20</text>
<text transform="translate(204.4,607.1) rotate(76) scale(1,1)" font-size="12.3" text-anchor="middle" fill="#000" font-style="normal" dy="4.3">-15</text>
<text transform="translate(219.2,604.8) rotate(76) scale(1,1)" font-size="12.3" text-anchor="middle" fill="#000" font-style="normal" dy="4.3">-10</text>
<text transform="translate(233.8,597.5) rotate(76) scale(1,1)" font-size="12.3" text-anchor="middle" fill="#000" font-style="normal" dy="4.3">-5</text>
<text transform="translate(246.7,592.3) rotate(76) scale(1,1)" font-size="12.3" text-anchor="middle" fill="#000" font-style="normal" dy="4.3">0</text>
<text transform="translate(262.5,589.5) rotate(76) scale(1,1)" font-size="12.3" text-anchor="middle" fill="#000" font-style="normal" dy="4.3">5</text>
<text transform="translate(278.3,590.7) rotate(76) scale(1,1)" font-size="12.3" text-anchor="middle" fill="#000" font-style="normal" dy="4.3">10</text>
<text transform="translate(293.6,587.9) rotate(76) scale(1,1)" font-size="12.3" text-anchor="middle" fill="#000" font-style="normal" dy="4.3">15</text>
<text transform="translate(307.9,584) rotate(76) scale(1,1)" font-size="12.3" text-anchor="middle" fill="#000" font-style="normal" dy="4.3">20</text>
<text transform="translate(323.3,580.9) rotate(76) scale(1,1)" font-size="12.3" text-anchor="middle" fill="#000" font-style="normal" dy="4.3">25</text>
<text transform="translate(265,617.2) rotate(-14.7)" font-size="16.2" text-anchor="middle" fill="#000">OAM Mode</text>
</g>
<g id="pc">
<text transform="translate(361.34,427.4) scale(1.06,1)" font-size="17.6" font-weight="bold" font-style="normal" fill="#000">(c)</text>
<text transform="translate(390,426.6) scale(1,1)" font-size="17.6" font-weight="normal" font-style="normal" fill="#000">OAM spectrum at  ΔT = 5.9 °C</text>
<line x1="419.65" y1="561.39" x2="419.65" y2="458.39" stroke="#d3d3d3" stroke-width="1.4" />
<line x1="434.5" y1="558.29" x2="434.5" y2="455.29" stroke="#d3d3d3" stroke-width="1.4" />
<line x1="449.35" y1="555.18" x2="449.35" y2="452.18" stroke="#d3d3d3" stroke-width="1.4" />
<line x1="464.2" y1="552.08" x2="464.2" y2="449.08" stroke="#d3d3d3" stroke-width="1.4" />
<line x1="479.05" y1="548.98" x2="479.05" y2="445.98" stroke="#d3d3d3" stroke-width="1.4" />
<line x1="493.9" y1="545.87" x2="493.9" y2="442.87" stroke="#d3d3d3" stroke-width="1.4" />
<line x1="508.75" y1="542.76" x2="508.75" y2="439.76" stroke="#d3d3d3" stroke-width="1.4" />
<line x1="523.6" y1="539.66" x2="523.6" y2="436.66" stroke="#d3d3d3" stroke-width="1.4" />
<line x1="538.45" y1="536.55" x2="538.45" y2="433.55" stroke="#d3d3d3" stroke-width="1.4" />
<line x1="564.59" y1="536.83" x2="564.59" y2="433.83" stroke="#d3d3d3" stroke-width="1.4" />
<line x1="575.88" y1="540.21" x2="575.88" y2="437.21" stroke="#d3d3d3" stroke-width="1.4" />
<line x1="587.16" y1="543.59" x2="587.16" y2="440.59" stroke="#d3d3d3" stroke-width="1.4" />
<line x1="598.45" y1="546.97" x2="598.45" y2="443.97" stroke="#d3d3d3" stroke-width="1.4" />
<line x1="609.74" y1="550.34" x2="609.74" y2="447.34" stroke="#d3d3d3" stroke-width="1.4" />
<line x1="621.03" y1="553.72" x2="621.03" y2="450.72" stroke="#d3d3d3" stroke-width="1.4" />
<line x1="632.31" y1="557.1" x2="632.31" y2="454.1" stroke="#d3d3d3" stroke-width="1.4" />
<line x1="643.6" y1="560.48" x2="643.6" y2="457.48" stroke="#d3d3d3" stroke-width="1.4" />
<line x1="654.89" y1="563.86" x2="654.89" y2="460.86" stroke="#d3d3d3" stroke-width="1.4" />
<line x1="666.18" y1="567.24" x2="666.18" y2="464.24" stroke="#d3d3d3" stroke-width="1.4" />
<polyline points="404.8,514.03 553.3,482.98 676.9,519.98" fill="none" stroke="#c8c8c8" stroke-width="1.5"/>
<line x1="404.8" y1="564.5" x2="553.3" y2="533.45" stroke="#c2c2c2" stroke-width="1" />
<line x1="416.09" y1="567.88" x2="564.59" y2="536.83" stroke="#c2c2c2" stroke-width="1" />
<line x1="427.38" y1="571.26" x2="575.88" y2="540.21" stroke="#c2c2c2" stroke-width="1" />
<line x1="438.66" y1="574.64" x2="587.16" y2="543.59" stroke="#c2c2c2" stroke-width="1" />
<line x1="449.95" y1="578.02" x2="598.45" y2="546.97" stroke="#c2c2c2" stroke-width="1" />
<line x1="461.24" y1="581.39" x2="609.74" y2="550.34" stroke="#c2c2c2" stroke-width="1" />
<line x1="472.53" y1="584.77" x2="621.03" y2="553.72" stroke="#c2c2c2" stroke-width="1" />
<line x1="483.81" y1="588.15" x2="632.31" y2="557.1" stroke="#c2c2c2" stroke-width="1" />
<line x1="495.1" y1="591.53" x2="643.6" y2="560.48" stroke="#c2c2c2" stroke-width="1" />
<line x1="506.39" y1="594.91" x2="654.89" y2="563.86" stroke="#c2c2c2" stroke-width="1" />
<line x1="517.68" y1="598.29" x2="666.18" y2="567.24" stroke="#c2c2c2" stroke-width="1" />
<line x1="404.8" y1="564.5" x2="528.4" y2="601.5" stroke="#c2c2c2" stroke-width="1" />
<line x1="412.23" y1="562.95" x2="535.83" y2="599.95" stroke="#c2c2c2" stroke-width="1" />
<line x1="419.65" y1="561.39" x2="543.25" y2="598.39" stroke="#c2c2c2" stroke-width="1" />
<line x1="427.07" y1="559.84" x2="550.67" y2="596.84" stroke="#c2c2c2" stroke-width="1" />
<line x1="434.5" y1="558.29" x2="558.1" y2="595.29" stroke="#c2c2c2" stroke-width="1" />
<line x1="441.93" y1="556.74" x2="565.52" y2="593.74" stroke="#c2c2c2" stroke-width="1" />
<line x1="449.35" y1="555.18" x2="572.95" y2="592.18" stroke="#c2c2c2" stroke-width="1" />
<line x1="456.77" y1="553.63" x2="580.38" y2="590.63" stroke="#c2c2c2" stroke-width="1" />
<line x1="464.2" y1="552.08" x2="587.8" y2="589.08" stroke="#c2c2c2" stroke-width="1" />
<line x1="471.62" y1="550.53" x2="595.22" y2="587.53" stroke="#c2c2c2" stroke-width="1" />
<line x1="479.05" y1="548.98" x2="602.65" y2="585.98" stroke="#c2c2c2" stroke-width="1" />
<line x1="486.48" y1="547.42" x2="610.08" y2="584.42" stroke="#c2c2c2" stroke-width="1" />
<line x1="493.9" y1="545.87" x2="617.5" y2="582.87" stroke="#c2c2c2" stroke-width="1" />
<line x1="501.32" y1="544.32" x2="624.92" y2="581.32" stroke="#c2c2c2" stroke-width="1" />
<line x1="508.75" y1="542.76" x2="632.35" y2="579.76" stroke="#c2c2c2" stroke-width="1" />
<line x1="516.17" y1="541.21" x2="639.77" y2="578.21" stroke="#c2c2c2" stroke-width="1" />
<line x1="523.6" y1="539.66" x2="647.2" y2="576.66" stroke="#c2c2c2" stroke-width="1" />
<line x1="531.02" y1="538.11" x2="654.62" y2="575.11" stroke="#c2c2c2" stroke-width="1" />
<line x1="538.45" y1="536.55" x2="662.05" y2="573.55" stroke="#c2c2c2" stroke-width="1" />
<line x1="545.88" y1="535" x2="669.47" y2="572" stroke="#c2c2c2" stroke-width="1" />
<line x1="553.3" y1="533.45" x2="676.9" y2="570.45" stroke="#c2c2c2" stroke-width="1" />
<polyline points="404.8,564.5 553.3,533.45 676.9,570.45" fill="none" stroke="#000" stroke-width="1.4"/>
<polyline points="404.8,461.5 553.3,430.45 676.9,467.45" fill="none" stroke="#000" stroke-width="1.6"/>
<line x1="676.9" y1="570.45" x2="676.9" y2="467.45" stroke="#000" stroke-width="1.8" />
<polyline points="404.8,564.39 407.77,563.75 410.74,563.11 413.71,562.46 416.68,561.81 419.65,561.15 422.62,560.49 425.59,559.81 428.56,559.12 431.53,558.41 434.5,557.67 437.47,556.91 440.44,556.09 443.41,555.22 446.38,554.26 449.35,553.18 452.32,551.93 455.29,550.43 458.26,548.57 461.23,546.2 461.97,545.5 462.72,544.75 463.46,543.95 464.2,543.09 464.94,542.16 465.69,541.16 466.43,540.08 467.17,538.92 467.91,537.68 468.66,536.33 469.4,534.89 470.14,533.32 470.88,531.64 471.62,529.8 472.37,527.79 473.11,525.58 473.85,523.1 474.6,520.29 475.34,517.06 476.08,513.33 476.82,509 477.56,503.98 478.31,498.23 479.05,491.78 479.79,484.74 480.54,477.32 481.28,469.85 482.02,462.74 482.76,456.46 483.5,451.46 484.25,448.15 484.99,446.8 485.73,447.51 486.48,450.21 487.22,454.65 487.96,460.45 488.7,467.15 489.44,474.28 490.19,481.42 490.93,488.23 491.67,494.48 492.42,500.03 493.16,504.85 493.9,508.98 494.64,512.49 495.38,515.48 496.13,518.04 496.87,520.26 497.61,522.2 498.36,523.93 499.1,525.48 499.84,526.88 500.58,528.15 501.32,529.3 502.07,530.35 502.81,531.3 503.55,532.16 504.3,532.94 505.04,533.64 505.78,534.27 506.52,534.84 507.26,535.34 508.01,535.79 508.75,536.18 509.49,536.53 510.24,536.84 510.98,537.1 511.72,537.34 512.46,537.54 515.43,538.06 518.4,538.26 521.37,538.23 524.34,538.04 527.31,537.73 530.28,537.35 533.25,536.91 536.22,536.43 539.19,535.92 542.16,535.38 545.13,534.83 548.1,534.26 551.07,533.68 553.3,533.24" fill="none" stroke="#ff3c00" stroke-width="2" stroke-linejoin="round"/>
<polyline points="416.09,567.77 419.06,567.13 422.03,566.49 425,565.84 427.97,565.19 430.94,564.53 433.91,563.87 436.88,563.19 439.85,562.5 442.82,561.78 445.79,561.05 448.76,560.28 451.73,559.46 454.7,558.58 457.67,557.62 460.64,556.53 463.61,555.26 466.58,553.74 469.55,551.86 470.29,551.31 471.03,550.73 471.78,550.11 472.52,549.44 473.26,548.73 474,547.97 474.75,547.15 475.49,546.26 476.23,545.32 476.97,544.3 477.72,543.2 478.46,542.02 479.2,540.74 479.94,539.37 480.69,537.9 481.43,536.3 482.17,534.57 482.91,532.69 483.66,530.62 484.4,528.32 485.14,525.74 485.88,522.79 486.63,519.39 487.37,515.45 488.11,510.87 488.85,505.59 489.6,499.61 490.34,492.97 491.08,485.83 491.82,478.47 492.57,471.24 493.31,464.58 494.05,458.96 494.79,454.8 495.54,452.45 496.28,452.09 497.02,453.74 497.76,457.25 498.51,462.31 499.25,468.48 499.99,475.32 500.73,482.38 501.48,489.27 502.22,495.72 502.96,501.53 503.7,506.64 504.45,511.05 505.19,514.8 505.93,517.99 506.67,520.71 507.42,523.05 508.16,525.09 508.9,526.89 509.64,528.5 510.39,529.94 511.13,531.25 511.87,532.44 512.61,533.52 513.36,534.5 514.1,535.39 514.84,536.2 515.58,536.92 516.33,537.57 517.07,538.16 517.81,538.68 518.55,539.14 519.3,539.55 520.04,539.92 520.78,540.24 521.52,540.52 522.27,540.76 523.01,540.97 525.98,541.53 528.95,541.75 531.92,541.73 534.89,541.55 537.86,541.25 540.83,540.87 543.8,540.44 546.77,539.96 549.74,539.45 552.71,538.91 555.68,538.36 558.65,537.79 561.62,537.22 564.59,536.63" fill="none" stroke="#ff5400" stroke-width="2" stroke-linejoin="round"/>
<polyline points="427.38,571.15 430.35,570.51 433.32,569.87 436.29,569.22 439.26,568.57 442.23,567.92 445.2,567.25 448.17,566.57 451.14,565.88 454.11,565.17 457.08,564.44 460.05,563.68 463.02,562.87 465.99,562 468.96,561.05 471.93,559.98 474.9,558.74 477.87,557.26 480.84,555.44 483.81,553.12 484.55,552.43 485.29,551.7 486.03,550.91 486.78,550.07 487.52,549.16 488.26,548.18 489,547.13 489.75,546 490.49,544.78 491.23,543.46 491.97,542.05 492.72,540.52 493.46,538.87 494.2,537.09 494.94,535.13 495.69,532.98 496.43,530.59 497.17,527.89 497.91,524.79 498.66,521.22 499.4,517.07 500.14,512.26 500.88,506.73 501.63,500.48 502.37,493.6 503.11,486.28 503.85,478.8 504.6,471.56 505.34,465 506.08,459.62 506.82,455.81 507.57,453.89 508.31,454.03 509.05,456.18 509.79,460.16 510.54,465.61 511.28,472.09 512.02,479.13 512.76,486.3 513.51,493.21 514.25,499.62 514.99,505.36 515.73,510.37 516.48,514.68 517.22,518.35 517.96,521.47 518.7,524.13 519.45,526.43 520.19,528.44 520.93,530.22 521.67,531.82 522.42,533.25 523.16,534.55 523.9,535.74 524.64,536.81 525.39,537.79 526.13,538.67 526.87,539.47 527.61,540.19 528.36,540.84 529.1,541.42 529.84,541.93 530.58,542.4 531.33,542.8 532.07,543.17 532.81,543.48 533.55,543.76 534.3,544 535.04,544.21 538.01,544.76 540.98,544.97 543.95,544.95 546.92,544.77 549.89,544.47 552.86,544.1 555.83,543.66 558.8,543.18 561.77,542.67 564.74,542.14 567.71,541.58 570.68,541.02 573.65,540.44 575.88,540" fill="none" stroke="#ff3000" stroke-width="2" stroke-linejoin="round"/>
<polyline points="438.66,574.53 441.63,573.89 444.6,573.25 447.57,572.6 450.54,571.95 453.51,571.29 456.48,570.63 459.45,569.95 462.42,569.26 465.39,568.55 468.36,567.82 471.33,567.05 474.3,566.24 477.27,565.37 480.24,564.42 483.21,563.35 486.18,562.11 489.15,560.63 492.12,558.8 495.09,556.47 495.84,555.79 496.58,555.05 497.32,554.26 498.06,553.41 498.81,552.5 499.55,551.52 500.29,550.47 501.03,549.33 501.78,548.11 502.52,546.79 503.26,545.37 504,543.84 504.75,542.19 505.49,540.4 506.23,538.44 506.97,536.29 507.72,533.89 508.46,531.19 509.2,528.1 509.94,524.54 510.69,520.4 511.43,515.59 512.17,510.07 512.91,503.81 513.66,496.91 514.4,489.54 515.14,481.98 515.88,474.63 516.63,467.94 517.37,462.39 518.11,458.4 518.85,456.31 519.6,456.28 520.34,458.3 521.08,462.19 521.82,467.59 522.57,474.07 523.31,481.16 524.05,488.4 524.79,495.42 525.54,501.94 526.28,507.8 527.02,512.93 527.76,517.34 528.51,521.09 529.25,524.29 529.99,527.01 530.73,529.36 531.48,531.42 532.22,533.23 532.96,534.86 533.7,536.32 534.45,537.65 535.19,538.85 535.93,539.95 536.67,540.94 537.42,541.85 538.16,542.66 538.9,543.4 539.64,544.06 540.39,544.65 541.13,545.18 541.87,545.65 542.61,546.07 543.36,546.44 544.1,546.77 544.84,547.05 545.58,547.3 546.33,547.51 549.3,548.08 552.27,548.31 555.24,548.3 558.21,548.13 561.18,547.84 564.15,547.46 567.12,547.03 570.09,546.55 573.06,546.04 576.03,545.51 579,544.96 581.97,544.39 584.94,543.81 587.16,543.38" fill="none" stroke="#ff3400" stroke-width="2" stroke-linejoin="round"/>
<polyline points="449.95,577.94 452.92,577.3 455.89,576.67 458.86,576.03 461.83,575.39 464.8,574.74 467.77,574.09 470.74,573.43 473.71,572.76 476.68,572.07 479.65,571.37 482.62,570.65 485.59,569.9 488.56,569.11 491.53,568.25 494.5,567.33 497.47,566.28 500.44,565.08 503.41,563.64 506.38,561.87 507.12,561.36 507.87,560.81 508.61,560.23 509.35,559.6 510.09,558.94 510.84,558.23 511.58,557.46 512.32,556.64 513.06,555.76 513.81,554.81 514.55,553.79 515.29,552.68 516.03,551.48 516.78,550.18 517.52,548.74 518.26,547.16 519,545.39 519.75,543.39 520.49,541.12 521.23,538.53 521.97,535.55 522.72,532.14 523.46,528.27 524.2,523.91 524.94,519.11 525.69,513.94 526.43,508.53 527.17,503.08 527.91,497.81 528.66,493 529.4,488.92 530.14,485.82 530.88,483.91 531.63,483.29 532.37,484.02 533.11,486.02 533.85,489.15 534.6,493.18 535.34,497.86 536.08,502.9 536.82,508.06 537.57,513.1 538.31,517.85 539.05,522.2 539.79,526.09 540.54,529.51 541.28,532.46 542.02,535 542.76,537.17 543.51,539.04 544.25,540.65 544.99,542.04 545.73,543.27 546.48,544.35 547.22,545.31 547.96,546.17 548.7,546.93 549.45,547.62 550.19,548.24 550.93,548.79 551.67,549.28 552.42,549.72 553.16,550.1 553.9,550.44 554.64,550.74 555.39,551 556.13,551.23 556.87,551.42 557.61,551.58 558.36,551.72 561.33,552.04 564.3,552.09 567.27,551.95 570.24,551.68 573.21,551.32 576.18,550.89 579.15,550.42 582.12,549.91 585.09,549.38 588.06,548.82 591.03,548.26 594,547.68 596.97,547.09 598.45,546.8" fill="none" stroke="#ffe000" stroke-width="2" stroke-linejoin="round"/>
<polyline points="461.24,581.16 464.21,580.51 467.18,579.86 470.15,579.21 473.12,578.55 476.09,577.89 479.06,577.22 482.03,576.54 485,575.85 487.97,575.14 490.94,574.41 493.91,573.66 496.88,572.87 499.85,572.04 502.82,571.14 505.79,570.16 506.53,569.9 507.27,569.63 508.02,569.35 508.76,569.06 509.5,568.75 510.24,568.44 510.99,568.11 511.73,567.77 512.47,567.41 513.21,567.03 513.96,566.63 514.7,566.21 515.44,565.76 516.18,565.29 516.93,564.78 517.67,564.24 518.41,563.66 519.15,563.04 519.9,562.38 520.64,561.66 521.38,560.89 522.12,560.06 522.87,559.18 523.61,558.23 524.35,557.23 525.09,556.17 525.84,555.07 526.58,553.95 527.32,552.82 528.06,551.71 528.81,550.65 529.55,549.67 530.29,548.79 531.03,548.04 531.78,547.41 532.52,546.88 533.26,546.44 534,546.05 534.75,545.66 535.49,545.23 536.23,544.7 536.97,544.03 537.72,543.16 538.46,542.06 539.2,540.68 539.94,538.97 540.69,536.92 541.43,534.51 542.17,531.75 542.91,528.7 543.66,525.42 544.4,522.06 545.14,518.74 545.88,515.67 546.63,513.01 547.37,510.94 548.11,509.6 548.85,509.11 549.6,509.48 550.34,510.71 551.08,512.69 551.82,515.31 552.57,518.38 553.31,521.73 554.05,525.19 554.79,528.59 555.54,531.83 556.28,534.81 557.02,537.48 557.76,539.83 558.51,541.87 559.25,543.62 559.99,545.11 560.73,546.39 561.48,547.49 562.22,548.44 562.96,549.26 563.7,549.98 564.45,550.62 565.19,551.19 565.93,551.69 566.67,552.13 567.42,552.53 568.16,552.88 568.9,553.18 569.64,553.45 570.39,553.69 571.13,553.89 571.87,554.06 572.61,554.21 573.36,554.33 574.1,554.42 574.84,554.5 575.58,554.56 576.33,554.6 579.3,554.62 582.27,554.46 585.24,554.17 588.21,553.8 591.18,553.37 594.15,552.9 597.12,552.39 600.09,551.86 603.06,551.31 606.03,550.75 609,550.17 609.74,550.03" fill="none" stroke="#40ffc0" stroke-width="2" stroke-linejoin="round"/>
<polyline points="472.53,584.55 475.5,583.9 478.47,583.26 481.44,582.6 484.41,581.94 487.38,581.28 490.35,580.61 493.32,579.92 496.29,579.23 499.26,578.51 502.23,577.77 505.2,577 508.17,576.19 511.14,575.32 511.88,575.09 512.62,574.85 513.36,574.61 514.11,574.36 514.85,574.11 515.59,573.84 516.33,573.57 517.08,573.29 517.82,572.99 518.56,572.68 519.3,572.36 520.05,572.03 520.79,571.67 521.53,571.3 522.27,570.91 523.02,570.49 523.76,570.05 524.5,569.58 525.24,569.09 525.99,568.56 526.73,568 527.47,567.4 528.21,566.78 528.96,566.12 529.7,565.43 530.44,564.73 531.18,564.02 531.93,563.31 532.67,562.61 533.41,561.94 534.15,561.31 534.9,560.72 535.64,560.18 536.38,559.67 537.12,559.17 537.87,558.68 538.61,558.15 539.35,557.57 540.09,556.91 540.84,556.14 541.58,555.26 542.32,554.23 543.06,553.06 543.81,551.74 544.55,550.29 545.29,548.73 546.03,547.11 546.78,545.5 547.52,543.96 548.26,542.54 549,541.22 549.75,539.92 550.49,538.53 551.23,536.92 551.97,534.99 552.72,532.69 553.46,530.07 554.2,527.23 554.94,524.35 555.69,521.65 556.43,519.39 557.17,517.8 557.91,517.05 558.66,517.25 559.4,518.41 560.14,520.43 560.88,523.14 561.63,526.33 562.37,529.75 563.11,533.19 563.85,536.48 564.6,539.48 565.34,542.13 566.08,544.42 566.82,546.35 567.57,547.99 568.31,549.36 569.05,550.53 569.79,551.54 570.54,552.42 571.28,553.19 572.02,553.88 572.76,554.5 573.51,555.06 574.25,555.57 574.99,556.02 575.73,556.42 576.48,556.78 577.22,557.1 577.96,557.38 578.7,557.63 579.45,557.84 580.19,558.02 580.93,558.17 581.67,558.3 582.42,558.4 583.16,558.49 583.9,558.55 584.64,558.59 585.39,558.62 588.36,558.6 591.33,558.42 594.3,558.11 597.27,557.73 600.24,557.28 603.21,556.8 606.18,556.28 609.15,555.75 612.12,555.19 615.09,554.62 618.06,554.05 621.03,553.46" fill="none" stroke="#10ccff" stroke-width="2" stroke-linejoin="round"/>
<polyline points="483.81,587.99 486.78,587.35 489.75,586.7 492.72,586.06 495.69,585.41 498.66,584.75 501.63,584.08 504.6,583.41 507.57,582.72 510.54,582.01 513.51,581.29 516.48,580.53 519.45,579.74 522.42,578.89 525.39,577.98 528.36,576.97 531.33,575.82 534.3,574.48 537.27,572.87 538.02,572.41 538.76,571.93 539.5,571.42 540.24,570.88 540.99,570.31 541.73,569.71 542.47,569.07 543.21,568.39 543.96,567.67 544.7,566.9 545.44,566.08 546.18,565.21 546.93,564.27 547.67,563.26 548.41,562.17 549.15,560.98 549.9,559.66 550.64,558.19 551.38,556.54 552.12,554.67 552.87,552.55 553.61,550.14 554.35,547.42 555.09,544.38 555.84,541.06 556.58,537.52 557.32,533.83 558.06,530.14 558.81,526.6 559.55,523.38 560.29,520.65 561.03,518.58 561.78,517.27 562.52,516.79 563.26,517.14 564,518.26 564.75,520.03 565.49,522.32 566.23,524.94 566.97,527.73 567.72,530.53 568.46,533.21 569.2,535.71 569.94,537.97 570.69,539.98 571.43,541.76 572.17,543.36 572.91,544.82 573.66,546.17 574.4,547.45 575.14,548.68 575.88,549.86 576.63,551 577.37,552.09 578.11,553.12 578.85,554.1 579.6,555 580.34,555.84 581.08,556.61 581.82,557.32 582.57,557.95 583.31,558.52 584.05,559.03 584.79,559.49 585.54,559.9 586.28,560.25 587.02,560.57 587.76,560.84 588.51,561.08 589.25,561.29 589.99,561.46 590.73,561.61 591.48,561.74 592.22,561.84 592.96,561.92 593.7,561.98 594.45,562.02 595.19,562.05 595.93,562.07 596.67,562.07 597.42,562.06 598.16,562.04 598.9,562.01 599.64,561.98 602.61,561.74 605.58,561.42 608.55,561.02 611.52,560.58 614.49,560.1 617.46,559.59 620.43,559.05 623.4,558.51 626.37,557.95 629.34,557.37 632.31,556.79" fill="none" stroke="#00f0ff" stroke-width="2" stroke-linejoin="round"/>
<polyline points="495.1,591.44 498.07,590.8 501.04,590.16 504.01,589.52 506.98,588.87 509.95,588.22 512.92,587.55 515.89,586.88 518.86,586.2 521.83,585.49 524.8,584.76 527.77,584 530.74,583.2 533.71,582.33 536.68,581.38 539.65,580.31 542.62,579.06 545.59,577.56 548.56,575.69 549.3,575.15 550.05,574.57 550.79,573.95 551.53,573.29 552.27,572.58 553.02,571.83 553.76,571.01 554.5,570.14 555.24,569.2 555.99,568.18 556.73,567.08 557.47,565.89 558.21,564.6 558.96,563.18 559.7,561.6 560.44,559.85 561.18,557.87 561.93,555.62 562.67,553.05 563.41,550.1 564.15,546.72 564.9,542.88 565.64,538.56 566.38,533.81 567.12,528.68 567.87,523.32 568.61,517.92 569.35,512.7 570.09,507.93 570.84,503.89 571.58,500.82 572.32,498.91 573.06,498.31 573.81,499.03 574.55,501.01 575.29,504.11 576.03,508.1 576.78,512.73 577.52,517.73 578.26,522.83 579,527.82 579.75,532.53 580.49,536.84 581.23,540.69 581.97,544.07 582.72,547 583.46,549.51 584.2,551.67 584.94,553.51 585.69,555.1 586.43,556.48 587.17,557.7 587.91,558.77 588.66,559.72 589.4,560.56 590.14,561.32 590.88,562 591.63,562.61 592.37,563.16 593.11,563.64 593.85,564.07 594.6,564.45 595.34,564.79 596.08,565.08 596.82,565.34 597.57,565.56 598.31,565.75 599.05,565.91 599.79,566.04 602.76,566.36 605.73,566.4 608.7,566.26 611.67,565.98 614.64,565.62 617.61,565.19 620.58,564.72 623.55,564.21 626.52,563.67 629.49,563.12 632.46,562.55 635.43,561.97 638.4,561.39 641.37,560.79 643.6,560.34" fill="none" stroke="#ffb000" stroke-width="2" stroke-linejoin="round"/>
<polyline points="506.39,594.84 509.36,594.2 512.33,593.57 515.3,592.93 518.27,592.29 521.24,591.65 524.21,590.99 527.18,590.34 530.15,589.67 533.12,588.99 536.09,588.3 539.06,587.59 542.03,586.85 545,586.07 547.97,585.25 550.94,584.35 553.91,583.36 556.88,582.22 559.85,580.88 562.82,579.25 563.56,578.78 564.3,578.29 565.05,577.76 565.79,577.2 566.53,576.59 567.27,575.95 568.02,575.26 568.76,574.53 569.5,573.74 570.24,572.89 570.99,571.97 571.73,570.99 572.47,569.93 573.21,568.77 573.96,567.52 574.7,566.15 575.44,564.64 576.18,562.96 576.93,561.08 577.67,558.94 578.41,556.5 579.15,553.7 579.9,550.5 580.64,546.84 581.38,542.71 582.12,538.12 582.87,533.14 583.61,527.86 584.35,522.47 585.09,517.18 585.84,512.24 586.58,507.92 587.32,504.48 588.06,502.15 588.81,501.07 589.55,501.32 590.29,502.85 591.03,505.56 591.78,509.24 592.52,513.65 593.26,518.53 594,523.6 594.75,528.63 595.49,533.44 596.23,537.88 596.97,541.89 597.72,545.43 598.46,548.5 599.2,551.14 599.94,553.41 600.69,555.35 601.43,557.02 602.17,558.47 602.91,559.73 603.66,560.84 604.4,561.83 605.14,562.71 605.88,563.49 606.63,564.2 607.37,564.83 608.11,565.39 608.85,565.9 609.6,566.34 610.34,566.74 611.08,567.09 611.82,567.4 612.57,567.66 613.31,567.9 614.05,568.09 614.79,568.26 615.54,568.41 616.28,568.52 619.25,568.78 622.22,568.79 625.19,568.62 628.16,568.33 631.13,567.95 634.1,567.51 637.07,567.03 640.04,566.52 643.01,565.98 645.98,565.42 648.95,564.85 651.92,564.27 654.89,563.68" fill="none" stroke="#ffe800" stroke-width="2" stroke-linejoin="round"/>
<polyline points="517.68,598.24 520.65,597.62 523.62,596.99 526.59,596.36 529.56,595.73 532.53,595.09 535.5,594.46 538.47,593.82 541.44,593.18 544.41,592.53 547.38,591.87 550.35,591.21 553.32,590.54 556.29,589.85 559.26,589.14 562.23,588.4 565.2,587.63 568.17,586.8 571.14,585.91 574.11,584.91 577.08,583.77 580.05,582.41 583.02,580.75 583.76,580.27 584.5,579.76 585.24,579.22 585.99,578.64 586.73,578.02 587.47,577.36 588.21,576.65 588.96,575.89 589.7,575.07 590.44,574.18 591.18,573.21 591.93,572.16 592.67,570.99 593.41,569.7 594.15,568.25 594.9,566.61 595.64,564.76 596.38,562.65 597.12,560.24 597.87,557.51 598.61,554.44 599.35,551.02 600.09,547.29 600.84,543.29 601.58,539.12 602.32,534.91 603.06,530.81 603.81,527 604.55,523.67 605.29,520.99 606.03,519.11 606.78,518.13 607.52,518.11 608.26,519.04 609,520.84 609.75,523.41 610.49,526.59 611.23,530.18 611.97,534.02 612.72,537.92 613.46,541.75 614.2,545.37 614.94,548.71 615.69,551.72 616.43,554.39 617.17,556.71 617.91,558.72 618.66,560.45 619.4,561.93 620.14,563.19 620.88,564.29 621.63,565.23 622.37,566.05 623.11,566.77 623.85,567.41 624.6,567.97 625.34,568.46 626.08,568.9 626.82,569.28 627.57,569.62 628.31,569.92 629.05,570.17 629.79,570.39 630.54,570.58 631.28,570.74 632.02,570.88 632.76,570.99 633.51,571.07 634.25,571.14 637.22,571.24 640.19,571.13 643.16,570.87 646.13,570.52 649.1,570.1 652.07,569.62 655.04,569.12 658.01,568.58 660.98,568.03 663.95,567.46 666.18,567.03" fill="none" stroke="#40ffc0" stroke-width="2" stroke-linejoin="round"/>
<line x1="553.3" y1="533.45" x2="553.3" y2="430.45" stroke="#000" stroke-width="1.3" />
<line x1="404.8" y1="565.5" x2="404.8" y2="460.7" stroke="#000" stroke-width="2" />
<line x1="404.8" y1="554.2" x2="407" y2="554.2" stroke="#000" stroke-width="1.5" />
<line x1="404.8" y1="543.9" x2="407" y2="543.9" stroke="#000" stroke-width="1.5" />
<line x1="404.8" y1="533.6" x2="407" y2="533.6" stroke="#000" stroke-width="1.5" />
<line x1="404.8" y1="523.3" x2="407" y2="523.3" stroke="#000" stroke-width="1.5" />
<line x1="404.8" y1="513" x2="407" y2="513" stroke="#000" stroke-width="1.5" />
<line x1="404.8" y1="502.7" x2="407" y2="502.7" stroke="#000" stroke-width="1.5" />
<line x1="404.8" y1="492.4" x2="407" y2="492.4" stroke="#000" stroke-width="1.5" />
<line x1="404.8" y1="482.1" x2="407" y2="482.1" stroke="#000" stroke-width="1.5" />
<line x1="404.8" y1="471.8" x2="407" y2="471.8" stroke="#000" stroke-width="1.5" />
<polyline points="404.8,564.5 528.4,601.5 676.9,570.45" fill="none" stroke="#000" stroke-width="2.4" stroke-linejoin="miter"/>
<line x1="528.4" y1="601.5" x2="526.14" y2="600.82" stroke="#000" stroke-width="0.9" />
<line x1="529.88" y1="601.19" x2="527.63" y2="600.51" stroke="#000" stroke-width="0.9" />
<line x1="531.37" y1="600.88" x2="529.11" y2="600.2" stroke="#000" stroke-width="0.9" />
<line x1="532.86" y1="600.57" x2="530.6" y2="599.89" stroke="#000" stroke-width="0.9" />
<line x1="534.34" y1="600.26" x2="532.08" y2="599.58" stroke="#000" stroke-width="0.9" />
<line x1="535.83" y1="599.95" x2="533.57" y2="599.27" stroke="#000" stroke-width="0.9" />
<line x1="537.31" y1="599.64" x2="535.05" y2="598.96" stroke="#000" stroke-width="0.9" />
<line x1="538.79" y1="599.33" x2="536.54" y2="598.65" stroke="#000" stroke-width="0.9" />
<line x1="540.28" y1="599.02" x2="538.02" y2="598.34" stroke="#000" stroke-width="0.9" />
<line x1="541.76" y1="598.71" x2="539.51" y2="598.03" stroke="#000" stroke-width="0.9" />
<line x1="543.25" y1="598.39" x2="540.99" y2="597.72" stroke="#000" stroke-width="0.9" />
<line x1="544.73" y1="598.08" x2="542.48" y2="597.41" stroke="#000" stroke-width="0.9" />
<line x1="546.22" y1="597.77" x2="543.96" y2="597.1" stroke="#000" stroke-width="0.9" />
<line x1="547.7" y1="597.46" x2="545.45" y2="596.79" stroke="#000" stroke-width="0.9" />
<line x1="549.19" y1="597.15" x2="546.93" y2="596.48" stroke="#000" stroke-width="0.9" />
<line x1="550.67" y1="596.84" x2="548.42" y2="596.17" stroke="#000" stroke-width="0.9" />
<line x1="552.16" y1="596.53" x2="549.9" y2="595.86" stroke="#000" stroke-width="0.9" />
<line x1="553.64" y1="596.22" x2="551.39" y2="595.55" stroke="#000" stroke-width="0.9" />
<line x1="555.13" y1="595.91" x2="552.87" y2="595.24" stroke="#000" stroke-width="0.9" />
<line x1="556.62" y1="595.6" x2="554.36" y2="594.92" stroke="#000" stroke-width="0.9" />
<line x1="558.1" y1="595.29" x2="555.84" y2="594.61" stroke="#000" stroke-width="0.9" />
<line x1="559.59" y1="594.98" x2="557.33" y2="594.3" stroke="#000" stroke-width="0.9" />
<line x1="561.07" y1="594.67" x2="558.81" y2="593.99" stroke="#000" stroke-width="0.9" />
<line x1="562.55" y1="594.36" x2="560.3" y2="593.68" stroke="#000" stroke-width="0.9" />
<line x1="564.04" y1="594.05" x2="561.78" y2="593.37" stroke="#000" stroke-width="0.9" />
<line x1="565.52" y1="593.74" x2="563.27" y2="593.06" stroke="#000" stroke-width="0.9" />
<line x1="567.01" y1="593.43" x2="564.75" y2="592.75" stroke="#000" stroke-width="0.9" />
<line x1="568.49" y1="593.12" x2="566.24" y2="592.44" stroke="#000" stroke-width="0.9" />
<line x1="569.98" y1="592.81" x2="567.72" y2="592.13" stroke="#000" stroke-width="0.9" />
<line x1="571.46" y1="592.5" x2="569.21" y2="591.82" stroke="#000" stroke-width="0.9" />
<line x1="572.95" y1="592.18" x2="570.69" y2="591.51" stroke="#000" stroke-width="0.9" />
<line x1="574.43" y1="591.87" x2="572.18" y2="591.2" stroke="#000" stroke-width="0.9" />
<line x1="575.92" y1="591.56" x2="573.66" y2="590.89" stroke="#000" stroke-width="0.9" />
<line x1="577.4" y1="591.25" x2="575.15" y2="590.58" stroke="#000" stroke-width="0.9" />
<line x1="578.89" y1="590.94" x2="576.63" y2="590.27" stroke="#000" stroke-width="0.9" />
<line x1="580.38" y1="590.63" x2="578.12" y2="589.96" stroke="#000" stroke-width="0.9" />
<line x1="581.86" y1="590.32" x2="579.6" y2="589.65" stroke="#000" stroke-width="0.9" />
<line x1="583.35" y1="590.01" x2="581.09" y2="589.34" stroke="#000" stroke-width="0.9" />
<line x1="584.83" y1="589.7" x2="582.57" y2="589.03" stroke="#000" stroke-width="0.9" />
<line x1="586.32" y1="589.39" x2="584.06" y2="588.71" stroke="#000" stroke-width="0.9" />
<line x1="587.8" y1="589.08" x2="585.54" y2="588.4" stroke="#000" stroke-width="0.9" />
<line x1="589.28" y1="588.77" x2="587.03" y2="588.09" stroke="#000" stroke-width="0.9" />
<line x1="590.77" y1="588.46" x2="588.51" y2="587.78" stroke="#000" stroke-width="0.9" />
<line x1="592.25" y1="588.15" x2="590" y2="587.47" stroke="#000" stroke-width="0.9" />
<line x1="593.74" y1="587.84" x2="591.48" y2="587.16" stroke="#000" stroke-width="0.9" />
<line x1="595.22" y1="587.53" x2="592.97" y2="586.85" stroke="#000" stroke-width="0.9" />
<line x1="596.71" y1="587.22" x2="594.45" y2="586.54" stroke="#000" stroke-width="0.9" />
<line x1="598.19" y1="586.91" x2="595.94" y2="586.23" stroke="#000" stroke-width="0.9" />
<line x1="599.68" y1="586.6" x2="597.42" y2="585.92" stroke="#000" stroke-width="0.9" />
<line x1="601.16" y1="586.29" x2="598.91" y2="585.61" stroke="#000" stroke-width="0.9" />
<line x1="602.65" y1="585.98" x2="600.39" y2="585.3" stroke="#000" stroke-width="0.9" />
<line x1="604.13" y1="585.66" x2="601.88" y2="584.99" stroke="#000" stroke-width="0.9" />
<line x1="605.62" y1="585.35" x2="603.36" y2="584.68" stroke="#000" stroke-width="0.9" />
<line x1="607.11" y1="585.04" x2="604.85" y2="584.37" stroke="#000" stroke-width="0.9" />
<line x1="608.59" y1="584.73" x2="606.33" y2="584.06" stroke="#000" stroke-width="0.9" />
<line x1="610.08" y1="584.42" x2="607.82" y2="583.75" stroke="#000" stroke-width="0.9" />
<line x1="611.56" y1="584.11" x2="609.3" y2="583.44" stroke="#000" stroke-width="0.9" />
<line x1="613.04" y1="583.8" x2="610.79" y2="583.13" stroke="#000" stroke-width="0.9" />
<line x1="614.53" y1="583.49" x2="612.27" y2="582.82" stroke="#000" stroke-width="0.9" />
<line x1="616.01" y1="583.18" x2="613.76" y2="582.5" stroke="#000" stroke-width="0.9" />
<line x1="617.5" y1="582.87" x2="615.24" y2="582.19" stroke="#000" stroke-width="0.9" />
<line x1="618.98" y1="582.56" x2="616.73" y2="581.88" stroke="#000" stroke-width="0.9" />
<line x1="620.47" y1="582.25" x2="618.21" y2="581.57" stroke="#000" stroke-width="0.9" />
<line x1="621.95" y1="581.94" x2="619.7" y2="581.26" stroke="#000" stroke-width="0.9" />
<line x1="623.44" y1="581.63" x2="621.18" y2="580.95" stroke="#000" stroke-width="0.9" />
<line x1="624.92" y1="581.32" x2="622.67" y2="580.64" stroke="#000" stroke-width="0.9" />
<line x1="626.41" y1="581.01" x2="624.15" y2="580.33" stroke="#000" stroke-width="0.9" />
<line x1="627.89" y1="580.7" x2="625.64" y2="580.02" stroke="#000" stroke-width="0.9" />
<line x1="629.38" y1="580.39" x2="627.12" y2="579.71" stroke="#000" stroke-width="0.9" />
<line x1="630.87" y1="580.08" x2="628.61" y2="579.4" stroke="#000" stroke-width="0.9" />
<line x1="632.35" y1="579.76" x2="630.09" y2="579.09" stroke="#000" stroke-width="0.9" />
<line x1="633.84" y1="579.45" x2="631.58" y2="578.78" stroke="#000" stroke-width="0.9" />
<line x1="635.32" y1="579.14" x2="633.06" y2="578.47" stroke="#000" stroke-width="0.9" />
<line x1="636.81" y1="578.83" x2="634.55" y2="578.16" stroke="#000" stroke-width="0.9" />
<line x1="638.29" y1="578.52" x2="636.03" y2="577.85" stroke="#000" stroke-width="0.9" />
<line x1="639.77" y1="578.21" x2="637.52" y2="577.54" stroke="#000" stroke-width="0.9" />
<line x1="641.26" y1="577.9" x2="639" y2="577.23" stroke="#000" stroke-width="0.9" />
<line x1="642.74" y1="577.59" x2="640.49" y2="576.92" stroke="#000" stroke-width="0.9" />
<line x1="644.23" y1="577.28" x2="641.97" y2="576.61" stroke="#000" stroke-width="0.9" />
<line x1="645.71" y1="576.97" x2="643.46" y2="576.29" stroke="#000" stroke-width="0.9" />
<line x1="647.2" y1="576.66" x2="644.94" y2="575.98" stroke="#000" stroke-width="0.9" />
<line x1="648.68" y1="576.35" x2="646.43" y2="575.67" stroke="#000" stroke-width="0.9" />
<line x1="650.17" y1="576.04" x2="647.91" y2="575.36" stroke="#000" stroke-width="0.9" />
<line x1="651.65" y1="575.73" x2="649.4" y2="575.05" stroke="#000" stroke-width="0.9" />
<line x1="653.14" y1="575.42" x2="650.88" y2="574.74" stroke="#000" stroke-width="0.9" />
<line x1="654.62" y1="575.11" x2="652.37" y2="574.43" stroke="#000" stroke-width="0.9" />
<line x1="656.11" y1="574.8" x2="653.85" y2="574.12" stroke="#000" stroke-width="0.9" />
<line x1="657.6" y1="574.49" x2="655.34" y2="573.81" stroke="#000" stroke-width="0.9" />
<line x1="659.08" y1="574.18" x2="656.82" y2="573.5" stroke="#000" stroke-width="0.9" />
<line x1="660.57" y1="573.87" x2="658.31" y2="573.19" stroke="#000" stroke-width="0.9" />
<line x1="662.05" y1="573.55" x2="659.79" y2="572.88" stroke="#000" stroke-width="0.9" />
<line x1="663.53" y1="573.24" x2="661.28" y2="572.57" stroke="#000" stroke-width="0.9" />
<line x1="665.02" y1="572.93" x2="662.76" y2="572.26" stroke="#000" stroke-width="0.9" />
<line x1="666.5" y1="572.62" x2="664.25" y2="571.95" stroke="#000" stroke-width="0.9" />
<line x1="667.99" y1="572.31" x2="665.73" y2="571.64" stroke="#000" stroke-width="0.9" />
<line x1="669.47" y1="572" x2="667.22" y2="571.33" stroke="#000" stroke-width="0.9" />
<line x1="670.96" y1="571.69" x2="668.7" y2="571.02" stroke="#000" stroke-width="0.9" />
<line x1="672.44" y1="571.38" x2="670.19" y2="570.71" stroke="#000" stroke-width="0.9" />
<line x1="673.93" y1="571.07" x2="671.67" y2="570.4" stroke="#000" stroke-width="0.9" />
<line x1="675.41" y1="570.76" x2="673.16" y2="570.08" stroke="#000" stroke-width="0.9" />
<line x1="676.9" y1="570.45" x2="674.64" y2="569.77" stroke="#000" stroke-width="0.9" />
<line x1="528.4" y1="601.5" x2="525.92" y2="600.76" stroke="#000" stroke-width="1.2" />
<line x1="543.25" y1="598.39" x2="540.77" y2="597.65" stroke="#000" stroke-width="1.2" />
<line x1="558.1" y1="595.29" x2="555.62" y2="594.55" stroke="#000" stroke-width="1.2" />
<line x1="572.95" y1="592.18" x2="570.47" y2="591.44" stroke="#000" stroke-width="1.2" />
<line x1="587.8" y1="589.08" x2="585.32" y2="588.34" stroke="#000" stroke-width="1.2" />
<line x1="602.65" y1="585.98" x2="600.17" y2="585.23" stroke="#000" stroke-width="1.2" />
<line x1="617.5" y1="582.87" x2="615.02" y2="582.13" stroke="#000" stroke-width="1.2" />
<line x1="632.35" y1="579.76" x2="629.87" y2="579.02" stroke="#000" stroke-width="1.2" />
<line x1="647.2" y1="576.66" x2="644.72" y2="575.92" stroke="#000" stroke-width="1.2" />
<line x1="662.05" y1="573.55" x2="659.57" y2="572.81" stroke="#000" stroke-width="1.2" />
<line x1="676.9" y1="570.45" x2="674.42" y2="569.71" stroke="#000" stroke-width="1.2" />
<text transform="translate(378.4,469.3) scale(1,0.84)" font-size="16.6" font-weight="normal" font-style="normal" fill="#000">1.0</text>
<text transform="translate(378.4,491.9) scale(1,0.84)" font-size="16.6" font-weight="normal" font-style="normal" fill="#000">0.8</text>
<text transform="translate(378.4,511.7) scale(1,0.84)" font-size="16.6" font-weight="normal" font-style="normal" fill="#000">0.6</text>
<text transform="translate(377.4,533.4) scale(1,0.84)" font-size="16.6" font-weight="normal" font-style="normal" fill="#000">0.4</text>
<text transform="translate(378.4,555.5) scale(1,0.84)" font-size="16.6" font-weight="normal" font-style="normal" fill="#000">0.2</text>
<text transform="translate(383.9,575.3) scale(1,0.84)" font-size="16.6" font-weight="normal" font-style="normal" fill="#000">0</text>
<text transform="translate(377.1,554.6) rotate(-90) scale(1,1)" font-size="16" font-weight="normal" font-style="normal" fill="#000">Norm. int.</text>
<text transform="translate(400.6,580.8) rotate(-68) scale(0.95,1)" font-size="14.5" text-anchor="middle" fill="#000" font-style="normal" dy="5.07">1.37</text>
<text transform="translate(411.26,584.1) rotate(-68) scale(0.95,1)" font-size="14.5" text-anchor="middle" fill="#000" font-style="normal" dy="5.07">1.27</text>
<text transform="translate(421.92,587.4) rotate(-68) scale(0.95,1)" font-size="14.5" text-anchor="middle" fill="#000" font-style="normal" dy="5.07">1.25</text>
<text transform="translate(432.58,590.7) rotate(-68) scale(0.95,1)" font-size="14.5" text-anchor="middle" fill="#000" font-style="normal" dy="5.07">1.17</text>
<text transform="translate(443.24,594) rotate(-68) scale(0.95,1)" font-size="14.5" text-anchor="middle" fill="#000" font-style="normal" dy="5.07">1.09</text>
<text transform="translate(453.9,597.3) rotate(-68) scale(0.95,1)" font-size="14.5" text-anchor="middle" fill="#000" font-style="normal" dy="5.07">1.08</text>
<text transform="translate(464.56,600.6) rotate(-68) scale(0.95,1)" font-size="14.5" text-anchor="middle" fill="#000" font-style="normal" dy="5.07">1.05</text>
<text transform="translate(475.22,603.9) rotate(-68) scale(0.95,1)" font-size="14.5" text-anchor="middle" fill="#000" font-style="normal" dy="5.07">0.96</text>
<text transform="translate(485.88,607.2) rotate(-68) scale(0.95,1)" font-size="14.5" text-anchor="middle" fill="#000" font-style="normal" dy="5.07">0.88</text>
<text transform="translate(496.54,610.5) rotate(-68) scale(0.95,1)" font-size="14.5" text-anchor="middle" fill="#000" font-style="normal" dy="5.07">0.76</text>
<text transform="translate(507.2,613.8) rotate(-68) scale(0.95,1)" font-size="14.5" text-anchor="middle" fill="#000" font-style="normal" dy="5.07">0.68</text>
<text transform="translate(434,628.5) rotate(21.5)" font-size="19.6" text-anchor="middle" fill="#000" font-style="italic">V (ms<tspan font-size="11" dy="-3">-1</tspan><tspan dy="3">)</tspan></text>
<text transform="translate(537.4,616.9) rotate(76) scale(1,1)" font-size="12.3" text-anchor="middle" fill="#000" font-style="normal" dy="4.3">-25</text>
<text transform="translate(551.2,614) rotate(76) scale(1,1)" font-size="12.3" text-anchor="middle" fill="#000" font-style="normal" dy="4.3">-20</text>
<text transform="translate(565,611) rotate(76) scale(1,1)" font-size="12.3" text-anchor="middle" fill="#000" font-style="normal" dy="4.3">-15</text>
<text transform="translate(578.8,608.4) rotate(76) scale(1,1)" font-size="12.3" text-anchor="middle" fill="#000" font-style="normal" dy="4.3">-10</text>
<text transform="translate(591.7,601.5) rotate(76) scale(1,1)" font-size="12.3" text-anchor="middle" fill="#000" font-style="normal" dy="4.3">-5</text>
<text transform="translate(604.9,595.6) rotate(76) scale(1,1)" font-size="12.3" text-anchor="middle" fill="#000" font-style="normal" dy="4.3">0</text>
<text transform="translate(618.6,593.3) rotate(76) scale(1,1)" font-size="12.3" text-anchor="middle" fill="#000" font-style="normal" dy="4.3">5</text>
<text transform="translate(633.2,593.9) rotate(76) scale(1,1)" font-size="12.3" text-anchor="middle" fill="#000" font-style="normal" dy="4.3">10</text>
<text transform="translate(647.2,591) rotate(76) scale(1,1)" font-size="12.3" text-anchor="middle" fill="#000" font-style="normal" dy="4.3">15</text>
<text transform="translate(661,587.4) rotate(76) scale(1,1)" font-size="12.3" text-anchor="middle" fill="#000" font-style="normal" dy="4.3">20</text>
<text transform="translate(674.8,584.4) rotate(76) scale(1,1)" font-size="12.3" text-anchor="middle" fill="#000" font-style="normal" dy="4.3">25</text>
<text transform="translate(615.3,626.2) rotate(-13.6)" font-size="16" text-anchor="middle" fill="#000">OAM Mode</text>
</g>
<g id="pd">
<text transform="translate(-0.6,676.3) scale(1.1,1)" font-size="18.5" font-weight="bold" font-style="normal" fill="#262626">(d)</text>
<text transform="translate(111.68,675.6) scale(1.02,1)" font-size="17.4" font-weight="normal" font-style="normal" fill="#262626">Spectrum variance</text>
<line x1="63.7" y1="691.2" x2="304.8" y2="691.2" stroke="#dcdcdc" stroke-width="1.8" />
<line x1="63.7" y1="709.14" x2="304.8" y2="709.14" stroke="#dcdcdc" stroke-width="1.8" />
<line x1="63.7" y1="727.08" x2="304.8" y2="727.08" stroke="#dcdcdc" stroke-width="1.8" />
<line x1="63.7" y1="745.02" x2="304.8" y2="745.02" stroke="#dcdcdc" stroke-width="1.8" />
<line x1="63.7" y1="762.96" x2="304.8" y2="762.96" stroke="#dcdcdc" stroke-width="1.8" />
<line x1="63.7" y1="780.9" x2="304.8" y2="780.9" stroke="#dcdcdc" stroke-width="1.8" />
<line x1="63.7" y1="798.84" x2="304.8" y2="798.84" stroke="#dcdcdc" stroke-width="1.8" />
<line x1="63.7" y1="816.78" x2="304.8" y2="816.78" stroke="#dcdcdc" stroke-width="1.8" />
<line x1="63.7" y1="834.72" x2="304.8" y2="834.72" stroke="#dcdcdc" stroke-width="1.8" />
<line x1="63.7" y1="852.66" x2="304.8" y2="852.66" stroke="#dcdcdc" stroke-width="1.8" />
<line x1="63.7" y1="870.6" x2="304.8" y2="870.6" stroke="#dcdcdc" stroke-width="1.8" />
<line x1="75.8" y1="682.2" x2="75.8" y2="878.6" stroke="#dcdcdc" stroke-width="1.8" />
<line x1="93.86" y1="682.2" x2="93.86" y2="878.6" stroke="#dcdcdc" stroke-width="1.8" />
<line x1="111.92" y1="682.2" x2="111.92" y2="878.6" stroke="#dcdcdc" stroke-width="1.8" />
<line x1="129.98" y1="682.2" x2="129.98" y2="878.6" stroke="#dcdcdc" stroke-width="1.8" />
<line x1="148.04" y1="682.2" x2="148.04" y2="878.6" stroke="#dcdcdc" stroke-width="1.8" />
<line x1="166.1" y1="682.2" x2="166.1" y2="878.6" stroke="#dcdcdc" stroke-width="1.8" />
<line x1="184.16" y1="682.2" x2="184.16" y2="878.6" stroke="#dcdcdc" stroke-width="1.8" />
<line x1="202.22" y1="682.2" x2="202.22" y2="878.6" stroke="#dcdcdc" stroke-width="1.8" />
<line x1="220.28" y1="682.2" x2="220.28" y2="878.6" stroke="#dcdcdc" stroke-width="1.8" />
<line x1="238.34" y1="682.2" x2="238.34" y2="878.6" stroke="#dcdcdc" stroke-width="1.8" />
<line x1="256.4" y1="682.2" x2="256.4" y2="878.6" stroke="#dcdcdc" stroke-width="1.8" />
<line x1="274.46" y1="682.2" x2="274.46" y2="878.6" stroke="#dcdcdc" stroke-width="1.8" />
<line x1="292.52" y1="682.2" x2="292.52" y2="878.6" stroke="#dcdcdc" stroke-width="1.8" />
<rect x="68.6" y="684.2" width="14.4" height="14" fill="#c40000"/>
<rect x="86.66" y="684.2" width="14.4" height="14" fill="#c00000"/>
<rect x="104.72" y="684.2" width="14.4" height="14" fill="#c80000"/>
<rect x="122.78" y="684.2" width="14.4" height="14" fill="#b80000"/>
<rect x="140.84" y="684.2" width="14.4" height="14" fill="#c40000"/>
<rect x="158.9" y="684.2" width="14.4" height="14" fill="#d40000"/>
<rect x="176.96" y="684.2" width="14.4" height="14" fill="#dc0000"/>
<rect x="195.02" y="684.2" width="14.4" height="14" fill="#ff2800"/>
<rect x="213.08" y="684.2" width="14.4" height="14" fill="#ff0000"/>
<rect x="231.14" y="684.2" width="14.4" height="14" fill="#ff3000"/>
<rect x="249.2" y="684.2" width="14.4" height="14" fill="#ff3c00"/>
<rect x="267.26" y="684.2" width="14.4" height="14" fill="#ff4400"/>
<rect x="285.32" y="684.2" width="14.4" height="14" fill="#ff5800"/>
<rect x="68.6" y="702.14" width="14.4" height="14" fill="#d40000"/>
<rect x="86.66" y="702.14" width="14.4" height="14" fill="#d80000"/>
<rect x="104.72" y="702.14" width="14.4" height="14" fill="#dc0000"/>
<rect x="122.78" y="702.14" width="14.4" height="14" fill="#f00000"/>
<rect x="140.84" y="702.14" width="14.4" height="14" fill="#f40000"/>
<rect x="158.9" y="702.14" width="14.4" height="14" fill="#ff0800"/>
<rect x="176.96" y="702.14" width="14.4" height="14" fill="#ff2800"/>
<rect x="195.02" y="702.14" width="14.4" height="14" fill="#ff1c00"/>
<rect x="213.08" y="702.14" width="14.4" height="14" fill="#ff2800"/>
<rect x="231.14" y="702.14" width="14.4" height="14" fill="#ff3400"/>
<rect x="249.2" y="702.14" width="14.4" height="14" fill="#ff5800"/>
<rect x="267.26" y="702.14" width="14.4" height="14" fill="#ff6800"/>
<rect x="285.32" y="702.14" width="14.4" height="14" fill="#ff6c00"/>
<rect x="68.6" y="720.08" width="14.4" height="14" fill="#c00000"/>
<rect x="86.66" y="720.08" width="14.4" height="14" fill="#c40000"/>
<rect x="104.72" y="720.08" width="14.4" height="14" fill="#e40000"/>
<rect x="122.78" y="720.08" width="14.4" height="14" fill="#e80000"/>
<rect x="140.84" y="720.08" width="14.4" height="14" fill="#ff1000"/>
<rect x="158.9" y="720.08" width="14.4" height="14" fill="#ec0000"/>
<rect x="176.96" y="720.08" width="14.4" height="14" fill="#fc0000"/>
<rect x="195.02" y="720.08" width="14.4" height="14" fill="#ff0400"/>
<rect x="213.08" y="720.08" width="14.4" height="14" fill="#ff0800"/>
<rect x="231.14" y="720.08" width="14.4" height="14" fill="#ff3000"/>
<rect x="249.2" y="720.08" width="14.4" height="14" fill="#ff3000"/>
<rect x="267.26" y="720.08" width="14.4" height="14" fill="#ff4400"/>
<rect x="285.32" y="720.08" width="14.4" height="14" fill="#ff4000"/>
<rect x="68.6" y="738.02" width="14.4" height="14" fill="#700000"/>
<rect x="86.66" y="738.02" width="14.4" height="14" fill="#840000"/>
<rect x="104.72" y="738.02" width="14.4" height="14" fill="#8c0000"/>
<rect x="122.78" y="738.02" width="14.4" height="14" fill="#a00000"/>
<rect x="140.84" y="738.02" width="14.4" height="14" fill="#a80000"/>
<rect x="158.9" y="738.02" width="14.4" height="14" fill="#b00000"/>
<rect x="176.96" y="738.02" width="14.4" height="14" fill="#a80000"/>
<rect x="195.02" y="738.02" width="14.4" height="14" fill="#c80000"/>
<rect x="213.08" y="738.02" width="14.4" height="14" fill="#d40000"/>
<rect x="231.14" y="738.02" width="14.4" height="14" fill="#f00000"/>
<rect x="249.2" y="738.02" width="14.4" height="14" fill="#ff3400"/>
<rect x="267.26" y="738.02" width="14.4" height="14" fill="#ff2c00"/>
<rect x="285.32" y="738.02" width="14.4" height="14" fill="#ff6400"/>
<rect x="68.6" y="755.96" width="14.4" height="14" fill="#c40000"/>
<rect x="86.66" y="755.96" width="14.4" height="14" fill="#d00000"/>
<rect x="104.72" y="755.96" width="14.4" height="14" fill="#e00000"/>
<rect x="122.78" y="755.96" width="14.4" height="14" fill="#ff2800"/>
<rect x="140.84" y="755.96" width="14.4" height="14" fill="#ff4800"/>
<rect x="158.9" y="755.96" width="14.4" height="14" fill="#ff4800"/>
<rect x="176.96" y="755.96" width="14.4" height="14" fill="#ff4c00"/>
<rect x="195.02" y="755.96" width="14.4" height="14" fill="#ffa000"/>
<rect x="213.08" y="755.96" width="14.4" height="14" fill="#ff6400"/>
<rect x="231.14" y="755.96" width="14.4" height="14" fill="#ffac00"/>
<rect x="249.2" y="755.96" width="14.4" height="14" fill="#ffe000"/>
<rect x="267.26" y="755.96" width="14.4" height="14" fill="#e8ff10"/>
<rect x="285.32" y="755.96" width="14.4" height="14" fill="#e0ff18"/>
<rect x="68.6" y="773.9" width="14.4" height="14" fill="#08d0ff"/>
<rect x="86.66" y="773.9" width="14.4" height="14" fill="#08d4ff"/>
<rect x="104.72" y="773.9" width="14.4" height="14" fill="#00f8ff"/>
<rect x="122.78" y="773.9" width="14.4" height="14" fill="#28ffd8"/>
<rect x="140.84" y="773.9" width="14.4" height="14" fill="#28ffd8"/>
<rect x="158.9" y="773.9" width="14.4" height="14" fill="#30ffd0"/>
<rect x="176.96" y="773.9" width="14.4" height="14" fill="#20fce0"/>
<rect x="195.02" y="773.9" width="14.4" height="14" fill="#30ffd0"/>
<rect x="213.08" y="773.9" width="14.4" height="14" fill="#28ffd8"/>
<rect x="231.14" y="773.9" width="14.4" height="14" fill="#30ffd0"/>
<rect x="249.2" y="773.9" width="14.4" height="14" fill="#40ffc0"/>
<rect x="267.26" y="773.9" width="14.4" height="14" fill="#30ffd0"/>
<rect x="285.32" y="773.9" width="14.4" height="14" fill="#48ffb8"/>
<rect x="68.6" y="791.84" width="14.4" height="14" fill="#ff4400"/>
<rect x="86.66" y="791.84" width="14.4" height="14" fill="#ff6400"/>
<rect x="104.72" y="791.84" width="14.4" height="14" fill="#ffac00"/>
<rect x="122.78" y="791.84" width="14.4" height="14" fill="#f0ff08"/>
<rect x="140.84" y="791.84" width="14.4" height="14" fill="#a8ff58"/>
<rect x="158.9" y="791.84" width="14.4" height="14" fill="#80ff80"/>
<rect x="176.96" y="791.84" width="14.4" height="14" fill="#18ffe8"/>
<rect x="195.02" y="791.84" width="14.4" height="14" fill="#00f4ff"/>
<rect x="213.08" y="791.84" width="14.4" height="14" fill="#08d8ff"/>
<rect x="231.14" y="791.84" width="14.4" height="14" fill="#10c4ff"/>
<rect x="249.2" y="791.84" width="14.4" height="14" fill="#10ccff"/>
<rect x="267.26" y="791.84" width="14.4" height="14" fill="#0cccff"/>
<rect x="285.32" y="791.84" width="14.4" height="14" fill="#00e4ff"/>
<rect x="68.6" y="809.78" width="14.4" height="14" fill="#ff8000"/>
<rect x="86.66" y="809.78" width="14.4" height="14" fill="#ff7c00"/>
<rect x="104.72" y="809.78" width="14.4" height="14" fill="#ff7400"/>
<rect x="122.78" y="809.78" width="14.4" height="14" fill="#ff7000"/>
<rect x="140.84" y="809.78" width="14.4" height="14" fill="#ff9800"/>
<rect x="158.9" y="809.78" width="14.4" height="14" fill="#ffc400"/>
<rect x="176.96" y="809.78" width="14.4" height="14" fill="#d8ff28"/>
<rect x="195.02" y="809.78" width="14.4" height="14" fill="#b0ff50"/>
<rect x="213.08" y="809.78" width="14.4" height="14" fill="#78ff88"/>
<rect x="231.14" y="809.78" width="14.4" height="14" fill="#38ffc8"/>
<rect x="249.2" y="809.78" width="14.4" height="14" fill="#00ffff"/>
<rect x="267.26" y="809.78" width="14.4" height="14" fill="#08d0ff"/>
<rect x="285.32" y="809.78" width="14.4" height="14" fill="#10b0ff"/>
<rect x="68.6" y="827.72" width="14.4" height="14" fill="#ffff00"/>
<rect x="86.66" y="827.72" width="14.4" height="14" fill="#fff400"/>
<rect x="104.72" y="827.72" width="14.4" height="14" fill="#ffe000"/>
<rect x="122.78" y="827.72" width="14.4" height="14" fill="#ffdc00"/>
<rect x="140.84" y="827.72" width="14.4" height="14" fill="#ffd000"/>
<rect x="158.9" y="827.72" width="14.4" height="14" fill="#ffc000"/>
<rect x="176.96" y="827.72" width="14.4" height="14" fill="#ffc000"/>
<rect x="195.02" y="827.72" width="14.4" height="14" fill="#ffd000"/>
<rect x="213.08" y="827.72" width="14.4" height="14" fill="#fff000"/>
<rect x="231.14" y="827.72" width="14.4" height="14" fill="#ffc800"/>
<rect x="249.2" y="827.72" width="14.4" height="14" fill="#ffb400"/>
<rect x="267.26" y="827.72" width="14.4" height="14" fill="#ffd000"/>
<rect x="285.32" y="827.72" width="14.4" height="14" fill="#ffd400"/>
<rect x="68.6" y="845.66" width="14.4" height="14" fill="#ff8400"/>
<rect x="86.66" y="845.66" width="14.4" height="14" fill="#ff8400"/>
<rect x="104.72" y="845.66" width="14.4" height="14" fill="#ffa400"/>
<rect x="122.78" y="845.66" width="14.4" height="14" fill="#ffac00"/>
<rect x="140.84" y="845.66" width="14.4" height="14" fill="#ffb000"/>
<rect x="158.9" y="845.66" width="14.4" height="14" fill="#ffb400"/>
<rect x="176.96" y="845.66" width="14.4" height="14" fill="#ffd800"/>
<rect x="195.02" y="845.66" width="14.4" height="14" fill="#ffd800"/>
<rect x="213.08" y="845.66" width="14.4" height="14" fill="#ffd800"/>
<rect x="231.14" y="845.66" width="14.4" height="14" fill="#ffd400"/>
<rect x="249.2" y="845.66" width="14.4" height="14" fill="#ffe800"/>
<rect x="267.26" y="845.66" width="14.4" height="14" fill="#f0ff08"/>
<rect x="285.32" y="845.66" width="14.4" height="14" fill="#e8ff10"/>
<rect x="68.6" y="863.6" width="14.4" height="14" fill="#ffd400"/>
<rect x="86.66" y="863.6" width="14.4" height="14" fill="#ffe800"/>
<rect x="104.72" y="863.6" width="14.4" height="14" fill="#f0ff08"/>
<rect x="122.78" y="863.6" width="14.4" height="14" fill="#b0ff50"/>
<rect x="140.84" y="863.6" width="14.4" height="14" fill="#a8ff58"/>
<rect x="158.9" y="863.6" width="14.4" height="14" fill="#88ff78"/>
<rect x="176.96" y="863.6" width="14.4" height="14" fill="#80ff80"/>
<rect x="195.02" y="863.6" width="14.4" height="14" fill="#78ff88"/>
<rect x="213.08" y="863.6" width="14.4" height="14" fill="#70ff90"/>
<rect x="231.14" y="863.6" width="14.4" height="14" fill="#60ffa0"/>
<rect x="249.2" y="863.6" width="14.4" height="14" fill="#40ffc0"/>
<rect x="267.26" y="863.6" width="14.4" height="14" fill="#38ffc8"/>
<rect x="285.32" y="863.6" width="14.4" height="14" fill="#38ffc8"/>
<line x1="63.7" y1="683" x2="63.7" y2="879.7" stroke="#262626" stroke-width="2.2" />
<line x1="62.6" y1="878.6" x2="305.8" y2="878.6" stroke="#262626" stroke-width="2.2" />
<line x1="63.7" y1="691.2" x2="66.9" y2="691.2" stroke="#262626" stroke-width="2" />
<text transform="translate(27.7,697.4) scale(1,1)" font-size="16.4" font-weight="normal" font-style="normal" fill="#262626">1.37</text>
<line x1="63.7" y1="709.14" x2="66.9" y2="709.14" stroke="#262626" stroke-width="2" />
<text transform="translate(27.7,715.34) scale(1,1)" font-size="16.4" font-weight="normal" font-style="normal" fill="#262626">1.27</text>
<line x1="63.7" y1="727.08" x2="66.9" y2="727.08" stroke="#262626" stroke-width="2" />
<text transform="translate(27.7,733.28) scale(1,1)" font-size="16.4" font-weight="normal" font-style="normal" fill="#262626">1.25</text>
<line x1="63.7" y1="745.02" x2="66.9" y2="745.02" stroke="#262626" stroke-width="2" />
<text transform="translate(27.7,751.22) scale(1,1)" font-size="16.4" font-weight="normal" font-style="normal" fill="#262626">1.17</text>
<line x1="63.7" y1="762.96" x2="66.9" y2="762.96" stroke="#262626" stroke-width="2" />
<text transform="translate(27.7,769.16) scale(1,1)" font-size="16.4" font-weight="normal" font-style="normal" fill="#262626">1.09</text>
<line x1="63.7" y1="780.9" x2="66.9" y2="780.9" stroke="#262626" stroke-width="2" />
<text transform="translate(27.7,787.1) scale(1,1)" font-size="16.4" font-weight="normal" font-style="normal" fill="#262626">1.08</text>
<line x1="63.7" y1="798.84" x2="66.9" y2="798.84" stroke="#262626" stroke-width="2" />
<text transform="translate(27.7,805.04) scale(1,1)" font-size="16.4" font-weight="normal" font-style="normal" fill="#262626">1.05</text>
<line x1="63.7" y1="816.78" x2="66.9" y2="816.78" stroke="#262626" stroke-width="2" />
<text transform="translate(27.7,822.98) scale(1,1)" font-size="16.4" font-weight="normal" font-style="normal" fill="#262626">0.96</text>
<line x1="63.7" y1="834.72" x2="66.9" y2="834.72" stroke="#262626" stroke-width="2" />
<text transform="translate(27.7,840.92) scale(1,1)" font-size="16.4" font-weight="normal" font-style="normal" fill="#262626">0.88</text>
<line x1="63.7" y1="852.66" x2="66.9" y2="852.66" stroke="#262626" stroke-width="2" />
<text transform="translate(27.7,858.86) scale(1,1)" font-size="16.4" font-weight="normal" font-style="normal" fill="#262626">0.76</text>
<line x1="63.7" y1="870.6" x2="66.9" y2="870.6" stroke="#262626" stroke-width="2" />
<text transform="translate(27.7,876.8) scale(1,1)" font-size="16.4" font-weight="normal" font-style="normal" fill="#262626">0.68</text>
<line x1="75.8" y1="878.6" x2="75.8" y2="875.6" stroke="#262626" stroke-width="1.6" />
<text transform="translate(78.7,914.8) rotate(-90) scale(1,1)" font-size="16.4" font-weight="normal" font-style="normal" fill="#262626">2.79</text>
<line x1="93.86" y1="878.6" x2="93.86" y2="875.6" stroke="#262626" stroke-width="1.6" />
<text transform="translate(96.85,914.8) rotate(-90) scale(1,1)" font-size="16.4" font-weight="normal" font-style="normal" fill="#262626">3.10</text>
<line x1="111.92" y1="878.6" x2="111.92" y2="875.6" stroke="#262626" stroke-width="1.6" />
<text transform="translate(115,914.8) rotate(-90) scale(1,1)" font-size="16.4" font-weight="normal" font-style="normal" fill="#262626">3.41</text>
<line x1="129.98" y1="878.6" x2="129.98" y2="875.6" stroke="#262626" stroke-width="1.6" />
<text transform="translate(133.15,914.8) rotate(-90) scale(1,1)" font-size="16.4" font-weight="normal" font-style="normal" fill="#262626">3.72</text>
<line x1="148.04" y1="878.6" x2="148.04" y2="875.6" stroke="#262626" stroke-width="1.6" />
<text transform="translate(151.3,914.8) rotate(-90) scale(1,1)" font-size="16.4" font-weight="normal" font-style="normal" fill="#262626">4.03</text>
<line x1="166.1" y1="878.6" x2="166.1" y2="875.6" stroke="#262626" stroke-width="1.6" />
<text transform="translate(169.45,914.8) rotate(-90) scale(1,1)" font-size="16.4" font-weight="normal" font-style="normal" fill="#262626">4.34</text>
<line x1="184.16" y1="878.6" x2="184.16" y2="875.6" stroke="#262626" stroke-width="1.6" />
<text transform="translate(187.6,914.8) rotate(-90) scale(1,1)" font-size="16.4" font-weight="normal" font-style="normal" fill="#262626">4.65</text>
<line x1="202.22" y1="878.6" x2="202.22" y2="875.6" stroke="#262626" stroke-width="1.6" />
<text transform="translate(205.75,914.8) rotate(-90) scale(1,1)" font-size="16.4" font-weight="normal" font-style="normal" fill="#262626">4.96</text>
<line x1="220.28" y1="878.6" x2="220.28" y2="875.6" stroke="#262626" stroke-width="1.6" />
<text transform="translate(223.9,914.8) rotate(-90) scale(1,1)" font-size="16.4" font-weight="normal" font-style="normal" fill="#262626">5.28</text>
<line x1="238.34" y1="878.6" x2="238.34" y2="875.6" stroke="#262626" stroke-width="1.6" />
<text transform="translate(242.05,914.8) rotate(-90) scale(1,1)" font-size="16.4" font-weight="normal" font-style="normal" fill="#262626">5.59</text>
<line x1="256.4" y1="878.6" x2="256.4" y2="875.6" stroke="#262626" stroke-width="1.6" />
<text transform="translate(260.2,914.8) rotate(-90) scale(1,1)" font-size="16.4" font-weight="normal" font-style="normal" fill="#262626">5.90</text>
<line x1="274.46" y1="878.6" x2="274.46" y2="875.6" stroke="#262626" stroke-width="1.6" />
<text transform="translate(278.35,914.8) rotate(-90) scale(1,1)" font-size="16.4" font-weight="normal" font-style="normal" fill="#262626">6.21</text>
<line x1="292.52" y1="878.6" x2="292.52" y2="875.6" stroke="#262626" stroke-width="1.6" />
<text transform="translate(296.5,914.8) rotate(-90) scale(1,1)" font-size="16.4" font-weight="normal" font-style="normal" fill="#262626">6.52</text>
<rect x="66.2" y="682.4" width="235.6" height="17.5" fill="none" stroke="#000" stroke-width="2" stroke-dasharray="3,4"/>
<path d="M247.2,682.4 L264.8,682.4 L264.8,878 M247.2,682.4 L247.2,878" fill="none" stroke="#000" stroke-width="2" stroke-dasharray="3,4"/>
<line x1="276" y1="674.3" x2="303" y2="674.3" stroke="#000" stroke-width="2.6" />
<path d="M272,674.3 L278,671.2 L278,677.4 Z" fill="#000"/>
<text transform="translate(304.53,679.2) scale(0.97,1)" font-size="16" font-weight="normal" font-style="italic" fill="#262626">(b)</text>
<line x1="319.6" y1="835" x2="319.6" y2="861.4" stroke="#000" stroke-width="2.6" />
<path d="M319.6,831 L315.9,835.5 L323.3,835.5 Z" fill="#000"/>
<text transform="translate(309.8,876.3) scale(1,1)" font-size="16.6" font-weight="normal" font-style="italic" fill="#262626">(c)</text>
<text transform="translate(21.4,858.2) rotate(-90) scale(0.99,1)" font-size="20.9" font-weight="normal" font-style="normal" fill="#262626">Wind speed, ms<tspan font-size="13" dy="-8">-1</tspan></text>
<text transform="translate(64.5,934.5) scale(1,1)" font-size="19.6" font-weight="normal" font-style="normal" fill="#262626">Temperature difference (°C)</text>
</g>
<g id="pe">
<text transform="translate(328.84,677.1) scale(1.06,1)" font-size="18.7" font-weight="bold" font-style="normal" fill="#262626">(e)</text>
<text transform="translate(393,674) scale(1.04,1)" font-size="17" font-weight="normal" font-style="normal" fill="#262626">Weighted sum of the spectrum</text>
<line x1="390.5" y1="690.2" x2="629" y2="690.2" stroke="#dcdcdc" stroke-width="1.8" />
<line x1="390.5" y1="708.14" x2="629" y2="708.14" stroke="#dcdcdc" stroke-width="1.8" />
<line x1="390.5" y1="726.08" x2="629" y2="726.08" stroke="#dcdcdc" stroke-width="1.8" />
<line x1="390.5" y1="744.02" x2="629" y2="744.02" stroke="#dcdcdc" stroke-width="1.8" />
<line x1="390.5" y1="761.96" x2="629" y2="761.96" stroke="#dcdcdc" stroke-width="1.8" />
<line x1="390.5" y1="779.9" x2="629" y2="779.9" stroke="#dcdcdc" stroke-width="1.8" />
<line x1="390.5" y1="797.84" x2="629" y2="797.84" stroke="#dcdcdc" stroke-width="1.8" />
<line x1="390.5" y1="815.78" x2="629" y2="815.78" stroke="#dcdcdc" stroke-width="1.8" />
<line x1="390.5" y1="833.72" x2="629" y2="833.72" stroke="#dcdcdc" stroke-width="1.8" />
<line x1="390.5" y1="851.66" x2="629" y2="851.66" stroke="#dcdcdc" stroke-width="1.8" />
<line x1="390.5" y1="869.6" x2="629" y2="869.6" stroke="#dcdcdc" stroke-width="1.8" />
<line x1="402.4" y1="681.2" x2="402.4" y2="877.4" stroke="#dcdcdc" stroke-width="1.8" />
<line x1="420.46" y1="681.2" x2="420.46" y2="877.4" stroke="#dcdcdc" stroke-width="1.8" />
<line x1="438.52" y1="681.2" x2="438.52" y2="877.4" stroke="#dcdcdc" stroke-width="1.8" />
<line x1="456.58" y1="681.2" x2="456.58" y2="877.4" stroke="#dcdcdc" stroke-width="1.8" />
<line x1="474.64" y1="681.2" x2="474.64" y2="877.4" stroke="#dcdcdc" stroke-width="1.8" />
<line x1="492.7" y1="681.2" x2="492.7" y2="877.4" stroke="#dcdcdc" stroke-width="1.8" />
<line x1="510.76" y1="681.2" x2="510.76" y2="877.4" stroke="#dcdcdc" stroke-width="1.8" />
<line x1="528.82" y1="681.2" x2="528.82" y2="877.4" stroke="#dcdcdc" stroke-width="1.8" />
<line x1="546.88" y1="681.2" x2="546.88" y2="877.4" stroke="#dcdcdc" stroke-width="1.8" />
<line x1="564.94" y1="681.2" x2="564.94" y2="877.4" stroke="#dcdcdc" stroke-width="1.8" />
<line x1="583" y1="681.2" x2="583" y2="877.4" stroke="#dcdcdc" stroke-width="1.8" />
<line x1="601.06" y1="681.2" x2="601.06" y2="877.4" stroke="#dcdcdc" stroke-width="1.8" />
<line x1="619.12" y1="681.2" x2="619.12" y2="877.4" stroke="#dcdcdc" stroke-width="1.8" />
<rect x="395.2" y="683.2" width="14.4" height="14" fill="#d8ff28"/>
<rect x="413.26" y="683.2" width="14.4" height="14" fill="#c0ff40"/>
<rect x="431.32" y="683.2" width="14.4" height="14" fill="#b8ff48"/>
<rect x="449.38" y="683.2" width="14.4" height="14" fill="#a8ff58"/>
<rect x="467.44" y="683.2" width="14.4" height="14" fill="#a0ff60"/>
<rect x="485.5" y="683.2" width="14.4" height="14" fill="#a0ff60"/>
<rect x="503.56" y="683.2" width="14.4" height="14" fill="#98ff68"/>
<rect x="521.62" y="683.2" width="14.4" height="14" fill="#a0ff60"/>
<rect x="539.68" y="683.2" width="14.4" height="14" fill="#80ff80"/>
<rect x="557.74" y="683.2" width="14.4" height="14" fill="#80ff80"/>
<rect x="575.8" y="683.2" width="14.4" height="14" fill="#80ff80"/>
<rect x="593.86" y="683.2" width="14.4" height="14" fill="#78ff88"/>
<rect x="611.92" y="683.2" width="14.4" height="14" fill="#60ffa0"/>
<rect x="395.2" y="701.14" width="14.4" height="14" fill="#ccff34"/>
<rect x="413.26" y="701.14" width="14.4" height="14" fill="#c8ff38"/>
<rect x="431.32" y="701.14" width="14.4" height="14" fill="#b8ff48"/>
<rect x="449.38" y="701.14" width="14.4" height="14" fill="#b4ff4c"/>
<rect x="467.44" y="701.14" width="14.4" height="14" fill="#b0ff50"/>
<rect x="485.5" y="701.14" width="14.4" height="14" fill="#acff54"/>
<rect x="503.56" y="701.14" width="14.4" height="14" fill="#a8ff58"/>
<rect x="521.62" y="701.14" width="14.4" height="14" fill="#a8ff58"/>
<rect x="539.68" y="701.14" width="14.4" height="14" fill="#a0ff60"/>
<rect x="557.74" y="701.14" width="14.4" height="14" fill="#98ff68"/>
<rect x="575.8" y="701.14" width="14.4" height="14" fill="#98ff68"/>
<rect x="593.86" y="701.14" width="14.4" height="14" fill="#90ff70"/>
<rect x="611.92" y="701.14" width="14.4" height="14" fill="#98ff68"/>
<rect x="395.2" y="719.08" width="14.4" height="14" fill="#c8ff38"/>
<rect x="413.26" y="719.08" width="14.4" height="14" fill="#c4ff3c"/>
<rect x="431.32" y="719.08" width="14.4" height="14" fill="#c0ff40"/>
<rect x="449.38" y="719.08" width="14.4" height="14" fill="#b4ff4c"/>
<rect x="467.44" y="719.08" width="14.4" height="14" fill="#bcff44"/>
<rect x="485.5" y="719.08" width="14.4" height="14" fill="#a8ff58"/>
<rect x="503.56" y="719.08" width="14.4" height="14" fill="#9cff64"/>
<rect x="521.62" y="719.08" width="14.4" height="14" fill="#88ff78"/>
<rect x="539.68" y="719.08" width="14.4" height="14" fill="#80ff80"/>
<rect x="557.74" y="719.08" width="14.4" height="14" fill="#80ff80"/>
<rect x="575.8" y="719.08" width="14.4" height="14" fill="#68ff98"/>
<rect x="593.86" y="719.08" width="14.4" height="14" fill="#68ff98"/>
<rect x="611.92" y="719.08" width="14.4" height="14" fill="#68ff98"/>
<rect x="395.2" y="737.02" width="14.4" height="14" fill="#a0ff60"/>
<rect x="413.26" y="737.02" width="14.4" height="14" fill="#9cff64"/>
<rect x="431.32" y="737.02" width="14.4" height="14" fill="#98ff68"/>
<rect x="449.38" y="737.02" width="14.4" height="14" fill="#98ff68"/>
<rect x="467.44" y="737.02" width="14.4" height="14" fill="#98ff68"/>
<rect x="485.5" y="737.02" width="14.4" height="14" fill="#94ff6c"/>
<rect x="503.56" y="737.02" width="14.4" height="14" fill="#7cff84"/>
<rect x="521.62" y="737.02" width="14.4" height="14" fill="#70ff90"/>
<rect x="539.68" y="737.02" width="14.4" height="14" fill="#68ff98"/>
<rect x="557.74" y="737.02" width="14.4" height="14" fill="#58ffa8"/>
<rect x="575.8" y="737.02" width="14.4" height="14" fill="#6cff94"/>
<rect x="593.86" y="737.02" width="14.4" height="14" fill="#50ffb0"/>
<rect x="611.92" y="737.02" width="14.4" height="14" fill="#70ff90"/>
<rect x="395.2" y="754.96" width="14.4" height="14" fill="#78ff88"/>
<rect x="413.26" y="754.96" width="14.4" height="14" fill="#7cff84"/>
<rect x="431.32" y="754.96" width="14.4" height="14" fill="#7cff84"/>
<rect x="449.38" y="754.96" width="14.4" height="14" fill="#7cff84"/>
<rect x="467.44" y="754.96" width="14.4" height="14" fill="#80ff80"/>
<rect x="485.5" y="754.96" width="14.4" height="14" fill="#7cff84"/>
<rect x="503.56" y="754.96" width="14.4" height="14" fill="#78ff88"/>
<rect x="521.62" y="754.96" width="14.4" height="14" fill="#78ff88"/>
<rect x="539.68" y="754.96" width="14.4" height="14" fill="#68ff98"/>
<rect x="557.74" y="754.96" width="14.4" height="14" fill="#70ff90"/>
<rect x="575.8" y="754.96" width="14.4" height="14" fill="#68ff98"/>
<rect x="593.86" y="754.96" width="14.4" height="14" fill="#7cff84"/>
<rect x="611.92" y="754.96" width="14.4" height="14" fill="#70ff90"/>
<rect x="395.2" y="772.9" width="14.4" height="14" fill="#ff5000"/>
<rect x="413.26" y="772.9" width="14.4" height="14" fill="#ff7000"/>
<rect x="431.32" y="772.9" width="14.4" height="14" fill="#ff9400"/>
<rect x="449.38" y="772.9" width="14.4" height="14" fill="#ffcc00"/>
<rect x="467.44" y="772.9" width="14.4" height="14" fill="#ffcc00"/>
<rect x="485.5" y="772.9" width="14.4" height="14" fill="#ffe400"/>
<rect x="503.56" y="772.9" width="14.4" height="14" fill="#ffe000"/>
<rect x="521.62" y="772.9" width="14.4" height="14" fill="#e8ff10"/>
<rect x="539.68" y="772.9" width="14.4" height="14" fill="#ffff00"/>
<rect x="557.74" y="772.9" width="14.4" height="14" fill="#e4ff18"/>
<rect x="575.8" y="772.9" width="14.4" height="14" fill="#e4ff18"/>
<rect x="593.86" y="772.9" width="14.4" height="14" fill="#e4ff18"/>
<rect x="611.92" y="772.9" width="14.4" height="14" fill="#b4ff4c"/>
<rect x="395.2" y="790.84" width="14.4" height="14" fill="#ffe000"/>
<rect x="413.26" y="790.84" width="14.4" height="14" fill="#ffc800"/>
<rect x="431.32" y="790.84" width="14.4" height="14" fill="#ffa800"/>
<rect x="449.38" y="790.84" width="14.4" height="14" fill="#ff7400"/>
<rect x="467.44" y="790.84" width="14.4" height="14" fill="#ff5800"/>
<rect x="485.5" y="790.84" width="14.4" height="14" fill="#ff5400"/>
<rect x="503.56" y="790.84" width="14.4" height="14" fill="#ff3400"/>
<rect x="521.62" y="790.84" width="14.4" height="14" fill="#ff3000"/>
<rect x="539.68" y="790.84" width="14.4" height="14" fill="#ff1400"/>
<rect x="557.74" y="790.84" width="14.4" height="14" fill="#ff3400"/>
<rect x="575.8" y="790.84" width="14.4" height="14" fill="#ff2000"/>
<rect x="593.86" y="790.84" width="14.4" height="14" fill="#ff2400"/>
<rect x="611.92" y="790.84" width="14.4" height="14" fill="#ff4000"/>
<rect x="395.2" y="808.78" width="14.4" height="14" fill="#a8ff58"/>
<rect x="413.26" y="808.78" width="14.4" height="14" fill="#c0ff40"/>
<rect x="431.32" y="808.78" width="14.4" height="14" fill="#d8ff28"/>
<rect x="449.38" y="808.78" width="14.4" height="14" fill="#f4ff0c"/>
<rect x="467.44" y="808.78" width="14.4" height="14" fill="#ffc400"/>
<rect x="485.5" y="808.78" width="14.4" height="14" fill="#ffa400"/>
<rect x="503.56" y="808.78" width="14.4" height="14" fill="#ff6c00"/>
<rect x="521.62" y="808.78" width="14.4" height="14" fill="#ff3c00"/>
<rect x="539.68" y="808.78" width="14.4" height="14" fill="#ff1000"/>
<rect x="557.74" y="808.78" width="14.4" height="14" fill="#d40000"/>
<rect x="575.8" y="808.78" width="14.4" height="14" fill="#c00000"/>
<rect x="593.86" y="808.78" width="14.4" height="14" fill="#a80000"/>
<rect x="611.92" y="808.78" width="14.4" height="14" fill="#780000"/>
<rect x="395.2" y="826.72" width="14.4" height="14" fill="#ff8800"/>
<rect x="413.26" y="826.72" width="14.4" height="14" fill="#ff8c00"/>
<rect x="431.32" y="826.72" width="14.4" height="14" fill="#ff9000"/>
<rect x="449.38" y="826.72" width="14.4" height="14" fill="#ff9800"/>
<rect x="467.44" y="826.72" width="14.4" height="14" fill="#ff6c00"/>
<rect x="485.5" y="826.72" width="14.4" height="14" fill="#ff7800"/>
<rect x="503.56" y="826.72" width="14.4" height="14" fill="#ff9000"/>
<rect x="521.62" y="826.72" width="14.4" height="14" fill="#ffbc00"/>
<rect x="539.68" y="826.72" width="14.4" height="14" fill="#ffc800"/>
<rect x="557.74" y="826.72" width="14.4" height="14" fill="#ffbc00"/>
<rect x="575.8" y="826.72" width="14.4" height="14" fill="#ffb800"/>
<rect x="593.86" y="826.72" width="14.4" height="14" fill="#ffa400"/>
<rect x="611.92" y="826.72" width="14.4" height="14" fill="#ffd000"/>
<rect x="395.2" y="844.66" width="14.4" height="14" fill="#18f0ff"/>
<rect x="413.26" y="844.66" width="14.4" height="14" fill="#20ffe0"/>
<rect x="431.32" y="844.66" width="14.4" height="14" fill="#00f4ff"/>
<rect x="449.38" y="844.66" width="14.4" height="14" fill="#10ecff"/>
<rect x="467.44" y="844.66" width="14.4" height="14" fill="#10ecff"/>
<rect x="485.5" y="844.66" width="14.4" height="14" fill="#20ffe0"/>
<rect x="503.56" y="844.66" width="14.4" height="14" fill="#10f8f0"/>
<rect x="521.62" y="844.66" width="14.4" height="14" fill="#30ffd0"/>
<rect x="539.68" y="844.66" width="14.4" height="14" fill="#38ffc8"/>
<rect x="557.74" y="844.66" width="14.4" height="14" fill="#28ffd8"/>
<rect x="575.8" y="844.66" width="14.4" height="14" fill="#18ffe8"/>
<rect x="593.86" y="844.66" width="14.4" height="14" fill="#28ffd8"/>
<rect x="611.92" y="844.66" width="14.4" height="14" fill="#48ffb8"/>
<rect x="395.2" y="862.6" width="14.4" height="14" fill="#b4ff4c"/>
<rect x="413.26" y="862.6" width="14.4" height="14" fill="#b0ff50"/>
<rect x="431.32" y="862.6" width="14.4" height="14" fill="#b8ff48"/>
<rect x="449.38" y="862.6" width="14.4" height="14" fill="#c8ff38"/>
<rect x="467.44" y="862.6" width="14.4" height="14" fill="#b8ff48"/>
<rect x="485.5" y="862.6" width="14.4" height="14" fill="#c4ff3c"/>
<rect x="503.56" y="862.6" width="14.4" height="14" fill="#b0ff50"/>
<rect x="521.62" y="862.6" width="14.4" height="14" fill="#b0ff50"/>
<rect x="539.68" y="862.6" width="14.4" height="14" fill="#90ff70"/>
<rect x="557.74" y="862.6" width="14.4" height="14" fill="#a8ff58"/>
<rect x="575.8" y="862.6" width="14.4" height="14" fill="#b0ff50"/>
<rect x="593.86" y="862.6" width="14.4" height="14" fill="#a4ff5c"/>
<rect x="611.92" y="862.6" width="14.4" height="14" fill="#a0ff60"/>
<line x1="390.5" y1="682.2" x2="390.5" y2="878.5" stroke="#262626" stroke-width="2.2" />
<line x1="389.4" y1="877.4" x2="630" y2="877.4" stroke="#262626" stroke-width="2.2" />
<line x1="390.5" y1="690.2" x2="393.7" y2="690.2" stroke="#262626" stroke-width="2" />
<text transform="translate(354.4,696.1) scale(1,1)" font-size="16.4" font-weight="normal" font-style="normal" fill="#262626">1.37</text>
<line x1="390.5" y1="708.14" x2="393.7" y2="708.14" stroke="#262626" stroke-width="2" />
<text transform="translate(354.4,714.04) scale(1,1)" font-size="16.4" font-weight="normal" font-style="normal" fill="#262626">1.27</text>
<line x1="390.5" y1="726.08" x2="393.7" y2="726.08" stroke="#262626" stroke-width="2" />
<text transform="translate(354.4,731.98) scale(1,1)" font-size="16.4" font-weight="normal" font-style="normal" fill="#262626">1.25</text>
<line x1="390.5" y1="744.02" x2="393.7" y2="744.02" stroke="#262626" stroke-width="2" />
<text transform="translate(354.4,749.92) scale(1,1)" font-size="16.4" font-weight="normal" font-style="normal" fill="#262626">1.17</text>
<line x1="390.5" y1="761.96" x2="393.7" y2="761.96" stroke="#262626" stroke-width="2" />
<text transform="translate(354.4,767.86) scale(1,1)" font-size="16.4" font-weight="normal" font-style="normal" fill="#262626">1.09</text>
<line x1="390.5" y1="779.9" x2="393.7" y2="779.9" stroke="#262626" stroke-width="2" />
<text transform="translate(354.4,785.8) scale(1,1)" font-size="16.4" font-weight="normal" font-style="normal" fill="#262626">1.08</text>
<line x1="390.5" y1="797.84" x2="393.7" y2="797.84" stroke="#262626" stroke-width="2" />
<text transform="translate(354.4,803.74) scale(1,1)" font-size="16.4" font-weight="normal" font-style="normal" fill="#262626">1.05</text>
<line x1="390.5" y1="815.78" x2="393.7" y2="815.78" stroke="#262626" stroke-width="2" />
<text transform="translate(354.4,821.68) scale(1,1)" font-size="16.4" font-weight="normal" font-style="normal" fill="#262626">0.96</text>
<line x1="390.5" y1="833.72" x2="393.7" y2="833.72" stroke="#262626" stroke-width="2" />
<text transform="translate(354.4,839.62) scale(1,1)" font-size="16.4" font-weight="normal" font-style="normal" fill="#262626">0.88</text>
<line x1="390.5" y1="851.66" x2="393.7" y2="851.66" stroke="#262626" stroke-width="2" />
<text transform="translate(354.4,857.56) scale(1,1)" font-size="16.4" font-weight="normal" font-style="normal" fill="#262626">0.76</text>
<line x1="390.5" y1="869.6" x2="393.7" y2="869.6" stroke="#262626" stroke-width="2" />
<text transform="translate(354.4,875.5) scale(1,1)" font-size="16.4" font-weight="normal" font-style="normal" fill="#262626">0.68</text>
<line x1="402.4" y1="877.4" x2="402.4" y2="874.4" stroke="#262626" stroke-width="1.6" />
<text transform="translate(407.2,913) rotate(-90) scale(1,1)" font-size="16.4" font-weight="normal" font-style="normal" fill="#262626">2.79</text>
<line x1="420.46" y1="877.4" x2="420.46" y2="874.4" stroke="#262626" stroke-width="1.6" />
<text transform="translate(425.26,913) rotate(-90) scale(1,1)" font-size="16.4" font-weight="normal" font-style="normal" fill="#262626">3.10</text>
<line x1="438.52" y1="877.4" x2="438.52" y2="874.4" stroke="#262626" stroke-width="1.6" />
<text transform="translate(443.32,913) rotate(-90) scale(1,1)" font-size="16.4" font-weight="normal" font-style="normal" fill="#262626">3.41</text>
<line x1="456.58" y1="877.4" x2="456.58" y2="874.4" stroke="#262626" stroke-width="1.6" />
<text transform="translate(461.38,913) rotate(-90) scale(1,1)" font-size="16.4" font-weight="normal" font-style="normal" fill="#262626">3.72</text>
<line x1="474.64" y1="877.4" x2="474.64" y2="874.4" stroke="#262626" stroke-width="1.6" />
<text transform="translate(479.44,913) rotate(-90) scale(1,1)" font-size="16.4" font-weight="normal" font-style="normal" fill="#262626">4.03</text>
<line x1="492.7" y1="877.4" x2="492.7" y2="874.4" stroke="#262626" stroke-width="1.6" />
<text transform="translate(497.5,913) rotate(-90) scale(1,1)" font-size="16.4" font-weight="normal" font-style="normal" fill="#262626">4.34</text>
<line x1="510.76" y1="877.4" x2="510.76" y2="874.4" stroke="#262626" stroke-width="1.6" />
<text transform="translate(515.56,913) rotate(-90) scale(1,1)" font-size="16.4" font-weight="normal" font-style="normal" fill="#262626">4.65</text>
<line x1="528.82" y1="877.4" x2="528.82" y2="874.4" stroke="#262626" stroke-width="1.6" />
<text transform="translate(533.62,913) rotate(-90) scale(1,1)" font-size="16.4" font-weight="normal" font-style="normal" fill="#262626">4.96</text>
<line x1="546.88" y1="877.4" x2="546.88" y2="874.4" stroke="#262626" stroke-width="1.6" />
<text transform="translate(551.68,913) rotate(-90) scale(1,1)" font-size="16.4" font-weight="normal" font-style="normal" fill="#262626">5.28</text>
<line x1="564.94" y1="877.4" x2="564.94" y2="874.4" stroke="#262626" stroke-width="1.6" />
<text transform="translate(569.74,913) rotate(-90) scale(1,1)" font-size="16.4" font-weight="normal" font-style="normal" fill="#262626">5.59</text>
<line x1="583" y1="877.4" x2="583" y2="874.4" stroke="#262626" stroke-width="1.6" />
<text transform="translate(587.8,913) rotate(-90) scale(1,1)" font-size="16.4" font-weight="normal" font-style="normal" fill="#262626">5.90</text>
<line x1="601.06" y1="877.4" x2="601.06" y2="874.4" stroke="#262626" stroke-width="1.6" />
<text transform="translate(605.86,913) rotate(-90) scale(1,1)" font-size="16.4" font-weight="normal" font-style="normal" fill="#262626">6.21</text>
<line x1="619.12" y1="877.4" x2="619.12" y2="874.4" stroke="#262626" stroke-width="1.6" />
<text transform="translate(623.92,913) rotate(-90) scale(1,1)" font-size="16.4" font-weight="normal" font-style="normal" fill="#262626">6.52</text>
<defs><linearGradient id="jet" x1="0" y1="1" x2="0" y2="0"><stop offset="0" stop-color="#000080"/><stop offset="0.125" stop-color="#0000ff"/><stop offset="0.375" stop-color="#00ffff"/><stop offset="0.625" stop-color="#ffff00"/><stop offset="0.875" stop-color="#ff0000"/><stop offset="1" stop-color="#800000"/></linearGradient></defs>
<rect x="632" y="683.1" width="10.1" height="193.6" fill="url(#jet)" stroke="#2a2a2a" stroke-width="1.8"/>
<line x1="641.9" y1="876.6" x2="639.6" y2="876.6" stroke="#262626" stroke-width="1.5" />
<text transform="translate(645,884.8) scale(1,1)" font-size="15.8" font-weight="normal" font-style="normal" fill="#262626">0</text>
<line x1="641.9" y1="857.24" x2="639.6" y2="857.24" stroke="#262626" stroke-width="1.5" />
<text transform="translate(645,865.44) scale(1,1)" font-size="15.8" font-weight="normal" font-style="normal" fill="#262626">0.1</text>
<line x1="641.9" y1="837.88" x2="639.6" y2="837.88" stroke="#262626" stroke-width="1.5" />
<text transform="translate(645,846.08) scale(1,1)" font-size="15.8" font-weight="normal" font-style="normal" fill="#262626">0.2</text>
<line x1="641.9" y1="818.52" x2="639.6" y2="818.52" stroke="#262626" stroke-width="1.5" />
<text transform="translate(645,826.72) scale(1,1)" font-size="15.8" font-weight="normal" font-style="normal" fill="#262626">0.3</text>
<line x1="641.9" y1="799.16" x2="639.6" y2="799.16" stroke="#262626" stroke-width="1.5" />
<text transform="translate(645,807.36) scale(1,1)" font-size="15.8" font-weight="normal" font-style="normal" fill="#262626">0.4</text>
<line x1="641.9" y1="779.8" x2="639.6" y2="779.8" stroke="#262626" stroke-width="1.5" />
<text transform="translate(645,788) scale(1,1)" font-size="15.8" font-weight="normal" font-style="normal" fill="#262626">0.5</text>
<line x1="641.9" y1="760.44" x2="639.6" y2="760.44" stroke="#262626" stroke-width="1.5" />
<text transform="translate(645,768.64) scale(1,1)" font-size="15.8" font-weight="normal" font-style="normal" fill="#262626">0.6</text>
<line x1="641.9" y1="741.08" x2="639.6" y2="741.08" stroke="#262626" stroke-width="1.5" />
<text transform="translate(645,749.28) scale(1,1)" font-size="15.8" font-weight="normal" font-style="normal" fill="#262626">0.7</text>
<line x1="641.9" y1="721.72" x2="639.6" y2="721.72" stroke="#262626" stroke-width="1.5" />
<text transform="translate(645,729.92) scale(1,1)" font-size="15.8" font-weight="normal" font-style="normal" fill="#262626">0.8</text>
<line x1="641.9" y1="702.36" x2="639.6" y2="702.36" stroke="#262626" stroke-width="1.5" />
<text transform="translate(645,710.56) scale(1,1)" font-size="15.8" font-weight="normal" font-style="normal" fill="#262626">0.9</text>
<line x1="641.9" y1="683" x2="639.6" y2="683" stroke="#262626" stroke-width="1.5" />
<text transform="translate(645,691.2) scale(1,1)" font-size="15.8" font-weight="normal" font-style="normal" fill="#262626">1</text>
<text transform="translate(684.5,832.91) rotate(-90) scale(0.96,1)" font-size="18.5" font-weight="normal" font-style="normal" fill="#262626">Norm. to Max</text>
<text transform="translate(346.4,856.9) rotate(-90) scale(1.02,1)" font-size="20.3" font-weight="normal" font-style="normal" fill="#262626">Wind speed, ms<tspan font-size="13" dy="-8">-1</tspan></text>
<text transform="translate(394.4,935) scale(0.99,1)" font-size="19.6" font-weight="normal" font-style="normal" fill="#262626">Temperature difference (°C)</text>
</g>
<rect x="21" y="945.8" width="4" height="3.2" fill="#a0a0a0"/>
</svg>
</body></html>
